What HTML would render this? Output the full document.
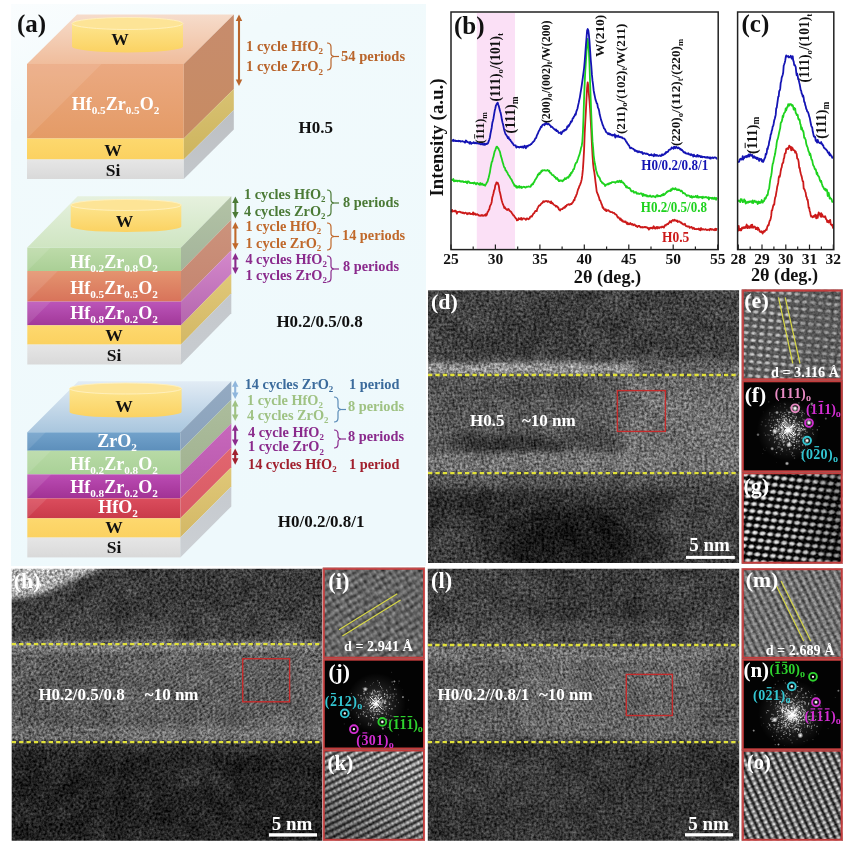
<!DOCTYPE html>
<html><head><meta charset="utf-8"><style>html,body{margin:0;padding:0;background:#fff;}svg{display:block;}</style></head>
<body><svg width="843" height="842" viewBox="0 0 843 842">
<defs><linearGradient id="abg" x1="0" y1="0" x2="0.3" y2="1">
<stop offset="0" stop-color="#fafdfe"/><stop offset="0.2" stop-color="#f1fafc"/><stop offset="1" stop-color="#eef9fc"/></linearGradient><linearGradient id="b1top" x1="0" y1="0" x2="0" y2="1"><stop offset="0" stop-color="#f6dccb"/><stop offset="1" stop-color="#f0bd9c"/></linearGradient><linearGradient id="b1f0" x1="0" y1="0" x2="0" y2="1"><stop offset="0" stop-color="#eba981"/><stop offset="1" stop-color="#e49b66"/></linearGradient><linearGradient id="b1s0" x1="0" y1="0" x2="0" y2="1"><stop offset="0" stop-color="#c78c6d"/><stop offset="1" stop-color="#c78b62"/></linearGradient><linearGradient id="b1f1" x1="0" y1="0" x2="0" y2="1"><stop offset="0" stop-color="#fdd86e"/><stop offset="1" stop-color="#fbd160"/></linearGradient><linearGradient id="b1s1" x1="0" y1="0" x2="0" y2="1"><stop offset="0" stop-color="#d8c272"/><stop offset="1" stop-color="#cdb45e"/></linearGradient><linearGradient id="b1f2" x1="0" y1="0" x2="0" y2="1"><stop offset="0" stop-color="#e6e6e6"/><stop offset="1" stop-color="#d9d9d9"/></linearGradient><linearGradient id="b1s2" x1="0" y1="0" x2="0" y2="1"><stop offset="0" stop-color="#bdc0c3"/><stop offset="1" stop-color="#c3c7cb"/></linearGradient><linearGradient id="b1cyl" x1="0" y1="0" x2="0" y2="1"><stop offset="0" stop-color="#fde58e"/><stop offset="1" stop-color="#fbd262"/></linearGradient><linearGradient id="b2top" x1="0" y1="0" x2="0" y2="1"><stop offset="0" stop-color="#e6f1de"/><stop offset="1" stop-color="#cfe5c2"/></linearGradient><linearGradient id="b2f0" x1="0" y1="0" x2="0" y2="1"><stop offset="0" stop-color="#bddba9"/><stop offset="1" stop-color="#aacf96"/></linearGradient><linearGradient id="b2s0" x1="0" y1="0" x2="0" y2="1"><stop offset="0" stop-color="#b3c3a6"/><stop offset="1" stop-color="#a3b49a"/></linearGradient><linearGradient id="b2f1" x1="0" y1="0" x2="0" y2="1"><stop offset="0" stop-color="#e4946f"/><stop offset="1" stop-color="#d8735a"/></linearGradient><linearGradient id="b2s1" x1="0" y1="0" x2="0" y2="1"><stop offset="0" stop-color="#cc937c"/><stop offset="1" stop-color="#c48570"/></linearGradient><linearGradient id="b2f2" x1="0" y1="0" x2="0" y2="1"><stop offset="0" stop-color="#bb55b9"/><stop offset="1" stop-color="#a23899"/></linearGradient><linearGradient id="b2s2" x1="0" y1="0" x2="0" y2="1"><stop offset="0" stop-color="#d488cc"/><stop offset="1" stop-color="#b466ad"/></linearGradient><linearGradient id="b2f3" x1="0" y1="0" x2="0" y2="1"><stop offset="0" stop-color="#fdd86e"/><stop offset="1" stop-color="#fbd160"/></linearGradient><linearGradient id="b2s3" x1="0" y1="0" x2="0" y2="1"><stop offset="0" stop-color="#e0c878"/><stop offset="1" stop-color="#d3b866"/></linearGradient><linearGradient id="b2f4" x1="0" y1="0" x2="0" y2="1"><stop offset="0" stop-color="#e6e6e6"/><stop offset="1" stop-color="#d9d9d9"/></linearGradient><linearGradient id="b2s4" x1="0" y1="0" x2="0" y2="1"><stop offset="0" stop-color="#c4c8cc"/><stop offset="1" stop-color="#c8ccd0"/></linearGradient><linearGradient id="b2cyl" x1="0" y1="0" x2="0" y2="1"><stop offset="0" stop-color="#fde58e"/><stop offset="1" stop-color="#fbd262"/></linearGradient><linearGradient id="b3top" x1="0" y1="0" x2="0" y2="1"><stop offset="0" stop-color="#e2ecf5"/><stop offset="1" stop-color="#a9c6de"/></linearGradient><linearGradient id="b3f0" x1="0" y1="0" x2="0" y2="1"><stop offset="0" stop-color="#72a2cb"/><stop offset="1" stop-color="#5d8fbb"/></linearGradient><linearGradient id="b3s0" x1="0" y1="0" x2="0" y2="1"><stop offset="0" stop-color="#94aac2"/><stop offset="1" stop-color="#8aa2bb"/></linearGradient><linearGradient id="b3f1" x1="0" y1="0" x2="0" y2="1"><stop offset="0" stop-color="#b8daa6"/><stop offset="1" stop-color="#a9d197"/></linearGradient><linearGradient id="b3s1" x1="0" y1="0" x2="0" y2="1"><stop offset="0" stop-color="#acbd9c"/><stop offset="1" stop-color="#a2b392"/></linearGradient><linearGradient id="b3f2" x1="0" y1="0" x2="0" y2="1"><stop offset="0" stop-color="#bb4cb4"/><stop offset="1" stop-color="#a13294"/></linearGradient><linearGradient id="b3s2" x1="0" y1="0" x2="0" y2="1"><stop offset="0" stop-color="#c868bc"/><stop offset="1" stop-color="#b656aa"/></linearGradient><linearGradient id="b3f3" x1="0" y1="0" x2="0" y2="1"><stop offset="0" stop-color="#db4d5d"/><stop offset="1" stop-color="#c93a4a"/></linearGradient><linearGradient id="b3s3" x1="0" y1="0" x2="0" y2="1"><stop offset="0" stop-color="#e2666f"/><stop offset="1" stop-color="#d85a64"/></linearGradient><linearGradient id="b3f4" x1="0" y1="0" x2="0" y2="1"><stop offset="0" stop-color="#fdd86e"/><stop offset="1" stop-color="#fbd160"/></linearGradient><linearGradient id="b3s4" x1="0" y1="0" x2="0" y2="1"><stop offset="0" stop-color="#e0c878"/><stop offset="1" stop-color="#d3b866"/></linearGradient><linearGradient id="b3f5" x1="0" y1="0" x2="0" y2="1"><stop offset="0" stop-color="#e6e6e6"/><stop offset="1" stop-color="#d9d9d9"/></linearGradient><linearGradient id="b3s5" x1="0" y1="0" x2="0" y2="1"><stop offset="0" stop-color="#c6cacf"/><stop offset="1" stop-color="#ccd0d4"/></linearGradient><linearGradient id="b3cyl" x1="0" y1="0" x2="0" y2="1"><stop offset="0" stop-color="#fde58e"/><stop offset="1" stop-color="#fbd262"/></linearGradient><filter id="blur2" x="-50%" y="-50%" width="200%" height="200%"><feGaussianBlur stdDeviation="2"/></filter>
<filter id="blur4" x="-50%" y="-50%" width="200%" height="200%"><feGaussianBlur stdDeviation="4"/></filter>
<filter id="blur8" x="-50%" y="-50%" width="200%" height="200%"><feGaussianBlur stdDeviation="8"/></filter>
<filter id="blur14" x="-50%" y="-50%" width="200%" height="200%"><feGaussianBlur stdDeviation="14"/></filter>
<filter id="nz1" x="0" y="0" width="100%" height="100%" color-interpolation-filters="sRGB">
<feTurbulence type="fractalNoise" baseFrequency="0.38" numOctaves="2" seed="3" result="t"/>
<feColorMatrix in="t" type="matrix" values="1 0 0 0 0  1 0 0 0 0  1 0 0 0 0  0 0 0 0 1" result="g"/>
<feComposite in="SourceGraphic" in2="g" operator="arithmetic" k1="1.1" k2="0.44999999999999996" k3="0.28" k4="-0.14"/>
</filter><filter id="nz2" x="0" y="0" width="100%" height="100%" color-interpolation-filters="sRGB">
<feTurbulence type="fractalNoise" baseFrequency="0.38" numOctaves="2" seed="9" result="t"/>
<feColorMatrix in="t" type="matrix" values="1 0 0 0 0  1 0 0 0 0  1 0 0 0 0  0 0 0 0 1" result="g"/>
<feComposite in="SourceGraphic" in2="g" operator="arithmetic" k1="1.1" k2="0.44999999999999996" k3="0.28" k4="-0.14"/>
</filter><filter id="nz3" x="0" y="0" width="100%" height="100%" color-interpolation-filters="sRGB">
<feTurbulence type="fractalNoise" baseFrequency="0.38" numOctaves="2" seed="17" result="t"/>
<feColorMatrix in="t" type="matrix" values="1 0 0 0 0  1 0 0 0 0  1 0 0 0 0  0 0 0 0 1" result="g"/>
<feComposite in="SourceGraphic" in2="g" operator="arithmetic" k1="1.1" k2="0.44999999999999996" k3="0.28" k4="-0.14"/>
</filter><filter id="nzc" x="0" y="0" width="100%" height="100%" color-interpolation-filters="sRGB">
<feTurbulence type="fractalNoise" baseFrequency="0.045" numOctaves="3" seed="5" result="t"/>
<feColorMatrix in="t" type="matrix" values="1 0 0 0 0  1 0 0 0 0  1 0 0 0 0  0 0 0 0 1" result="g"/>
<feComposite in="SourceGraphic" in2="g" operator="arithmetic" k1="0.0" k2="1.0" k3="0.14" k4="-0.07"/>
</filter><pattern id="latd" patternUnits="userSpaceOnUse" width="3" height="3" patternTransform="rotate(-8)"><circle cx="1.5" cy="1.5" r="0.9" fill="#fff"/></pattern><pattern id="lath" patternUnits="userSpaceOnUse" width="3" height="3" patternTransform="rotate(-35)"><rect x="0" y="0" width="3" height="1.3" fill="#fff"/></pattern><pattern id="latl" patternUnits="userSpaceOnUse" width="2.8" height="2.8" patternTransform="rotate(64)"><rect x="0" y="0" width="2.8" height="1.2" fill="#fff"/></pattern><clipPath id="cpd"><rect x="428" y="290.3" width="311.1" height="272.6"/></clipPath><clipPath id="cph"><rect x="11.7" y="568.7" width="310.4" height="272"/></clipPath><clipPath id="cpl"><rect x="427.8" y="568.7" width="311.4" height="272"/></clipPath><filter id="nzs1" x="0" y="0" width="100%" height="100%" color-interpolation-filters="sRGB">
<feTurbulence type="fractalNoise" baseFrequency="0.35" numOctaves="2" seed="21" result="t"/>
<feColorMatrix in="t" type="matrix" values="1 0 0 0 0  1 0 0 0 0  1 0 0 0 0  0 0 0 0 1" result="g"/>
<feComposite in="SourceGraphic" in2="g" operator="arithmetic" k1="0.0" k2="1.0" k3="0.35" k4="-0.175"/>
</filter><filter id="nzs2" x="0" y="0" width="100%" height="100%" color-interpolation-filters="sRGB">
<feTurbulence type="fractalNoise" baseFrequency="0.22" numOctaves="2" seed="23" result="t"/>
<feColorMatrix in="t" type="matrix" values="1 0 0 0 0  1 0 0 0 0  1 0 0 0 0  0 0 0 0 1" result="g"/>
<feComposite in="SourceGraphic" in2="g" operator="arithmetic" k1="0.0" k2="1.0" k3="0.35" k4="-0.175"/>
</filter><filter id="nzs3" x="0" y="0" width="100%" height="100%" color-interpolation-filters="sRGB">
<feTurbulence type="fractalNoise" baseFrequency="0.35" numOctaves="2" seed="25" result="t"/>
<feColorMatrix in="t" type="matrix" values="1 0 0 0 0  1 0 0 0 0  1 0 0 0 0  0 0 0 0 1" result="g"/>
<feComposite in="SourceGraphic" in2="g" operator="arithmetic" k1="0.0" k2="1.0" k3="0.35" k4="-0.175"/>
</filter><filter id="nzs4" x="0" y="0" width="100%" height="100%" color-interpolation-filters="sRGB">
<feTurbulence type="fractalNoise" baseFrequency="0.5" numOctaves="2" seed="27" result="t"/>
<feColorMatrix in="t" type="matrix" values="1 0 0 0 0  1 0 0 0 0  1 0 0 0 0  0 0 0 0 1" result="g"/>
<feComposite in="SourceGraphic" in2="g" operator="arithmetic" k1="0.0" k2="1.0" k3="0.3" k4="-0.15"/>
</filter><radialGradient id="dotw"><stop offset="0" stop-color="#fff" stop-opacity="1"/><stop offset="0.45" stop-color="#fff" stop-opacity="0.85"/><stop offset="1" stop-color="#fff" stop-opacity="0"/></radialGradient><filter id="sb1" x="-10%" y="-10%" width="120%" height="120%"><feGaussianBlur stdDeviation="0.7"/></filter><pattern id="pe" patternUnits="userSpaceOnUse" width="8.0" height="7.1" patternTransform="rotate(5) skewX(0)">
<ellipse cx="4.0" cy="3.55" rx="3.6" ry="2.3" fill="url(#dotw)" opacity="0.85"/></pattern><clipPath id="cse"><rect x="741.8" y="289.6" width="100.9" height="90.7"/></clipPath><linearGradient id="gfade" x1="0" y1="0" x2="1" y2="0"><stop offset="0" stop-color="#000" stop-opacity="0"/><stop offset="0.55" stop-color="#000" stop-opacity="0.1"/><stop offset="1" stop-color="#000" stop-opacity="0.4"/></linearGradient><pattern id="pg" patternUnits="userSpaceOnUse" width="7.8" height="7.1" patternTransform="rotate(6) skewX(-8)">
<ellipse cx="3.9" cy="3.55" rx="4.0" ry="2.8" fill="url(#dotw)" opacity="1.0"/></pattern><clipPath id="csg"><rect x="741.8" y="472.3" width="100.9" height="91.4"/></clipPath><linearGradient id="pig" x1="0" y1="0" x2="0" y2="1">
<stop offset="0" stop-color="#545454"/><stop offset="0.42" stop-color="#858585"/><stop offset="0.58" stop-color="#858585"/><stop offset="1" stop-color="#545454"/></linearGradient><pattern id="pi" patternUnits="userSpaceOnUse" width="5.2" height="6.6" patternTransform="rotate(-32)"><rect x="0" y="0" width="5.2" height="6.6" fill="url(#pig)"/><rect x="0" y="0" width="2.6" height="6.6" fill="#000" opacity="0.25" filter="url(#sb1)"/></pattern><clipPath id="csi"><rect x="322.8" y="567.8" width="102.2" height="90.9"/></clipPath><linearGradient id="kfade" x1="1" y1="0" x2="0.2" y2="1"><stop offset="0" stop-color="#000" stop-opacity="0"/><stop offset="0.5" stop-color="#000" stop-opacity="0.12"/><stop offset="1" stop-color="#000" stop-opacity="0.4"/></linearGradient><linearGradient id="pkg" x1="0" y1="0" x2="0" y2="1">
<stop offset="0" stop-color="#222222"/><stop offset="0.42" stop-color="#e6e6e6"/><stop offset="0.58" stop-color="#e6e6e6"/><stop offset="1" stop-color="#222222"/></linearGradient><pattern id="pk" patternUnits="userSpaceOnUse" width="4.6" height="6.1" patternTransform="rotate(-27)"><rect x="0" y="0" width="4.6" height="6.1" fill="url(#pkg)"/><rect x="0" y="0" width="2.3" height="6.1" fill="#000" opacity="0.25" filter="url(#sb1)"/></pattern><clipPath id="csk"><rect x="322.8" y="749.5" width="102.2" height="91.3"/></clipPath><linearGradient id="pmg" x1="0" y1="0" x2="0" y2="1">
<stop offset="0" stop-color="#444444"/><stop offset="0.42" stop-color="#a0a0a0"/><stop offset="0.58" stop-color="#a0a0a0"/><stop offset="1" stop-color="#444444"/></linearGradient><pattern id="pm" patternUnits="userSpaceOnUse" width="5.0" height="6.3" patternTransform="rotate(63.7)"><rect x="0" y="0" width="5.0" height="6.3" fill="url(#pmg)"/><rect x="0" y="0" width="2.5" height="6.3" fill="#000" opacity="0.14" filter="url(#sb1)"/></pattern><clipPath id="csm"><rect x="741.8" y="568.2" width="100.9" height="90.6"/></clipPath><linearGradient id="pog" x1="0" y1="0" x2="0" y2="1">
<stop offset="0" stop-color="#0a0a0a"/><stop offset="0.42" stop-color="#dedede"/><stop offset="0.58" stop-color="#dedede"/><stop offset="1" stop-color="#0a0a0a"/></linearGradient><pattern id="po" patternUnits="userSpaceOnUse" width="5.0" height="6.6" patternTransform="rotate(65)"><rect x="0" y="0" width="5.0" height="6.6" fill="url(#pog)"/><rect x="0" y="0" width="2.5" height="6.6" fill="#000" opacity="0.35" filter="url(#sb1)"/></pattern><clipPath id="cso"><rect x="741.8" y="749.7" width="100.9" height="91.1"/></clipPath><radialGradient id="glow"><stop offset="0" stop-color="#fff" stop-opacity="0.28"/><stop offset="0.5" stop-color="#fff" stop-opacity="0.1"/><stop offset="1" stop-color="#fff" stop-opacity="0"/></radialGradient><radialGradient id="spot"><stop offset="0" stop-color="#fff" stop-opacity="1"/><stop offset="0.4" stop-color="#fff" stop-opacity="0.7"/><stop offset="1" stop-color="#fff" stop-opacity="0"/></radialGradient><clipPath id="csf"><rect x="741.8" y="380.3" width="100.9" height="92"/></clipPath><clipPath id="csj"><rect x="322.8" y="658.7" width="102.2" height="90.8"/></clipPath><clipPath id="csn"><rect x="741.8" y="658.8" width="100.9" height="91.5"/></clipPath></defs>
<rect x="0" y="0" width="843" height="842" fill="#ffffff"/>
<rect x="11" y="4" width="415" height="562" fill="url(#abg)"/>
<polygon points="27,64 77,14.5 233.8,14.5 183.8,64" fill="url(#b1top)"/>
<rect x="27" y="64" width="156.8" height="74.5" fill="url(#b1f0)"/>
<polygon points="183.8,64 233.8,14.5 233.8,89.0 183.8,138.5" fill="url(#b1s0)"/>
<rect x="27" y="138.5" width="156.8" height="21.0" fill="url(#b1f1)"/>
<polygon points="183.8,138.5 233.8,89.0 233.8,110.0 183.8,159.5" fill="url(#b1s1)"/>
<rect x="27" y="159.5" width="156.8" height="19.5" fill="url(#b1f2)"/>
<polygon points="183.8,159.5 233.8,110.0 233.8,129.5 183.8,179" fill="url(#b1s2)"/>
<polygon points="27,64 101.5,64 27,138.5" fill="#ffffff" opacity="0.10"/>
<path d="M72.0,23.5 L72.0,46.5 A55.5,6 0 0 0 183.0,46.5 L183.0,23.5 Z" fill="url(#b1cyl)"/>
<ellipse cx="127.5" cy="23.5" rx="55.5" ry="6" fill="#fde496" stroke="#fff0c0" stroke-width="0.9"/>
<polygon points="27.3,247.6 77.6,196.3 231.3,196.3 181,247.6" fill="url(#b2top)"/>
<rect x="27.3" y="247.6" width="153.7" height="23.400000000000006" fill="url(#b2f0)"/>
<polygon points="181,247.6 231.3,196.3 231.3,219.7 181,271" fill="url(#b2s0)"/>
<rect x="27.3" y="271" width="153.7" height="30.600000000000023" fill="url(#b2f1)"/>
<polygon points="181,271 231.3,219.7 231.3,250.3 181,301.6" fill="url(#b2s1)"/>
<rect x="27.3" y="301.6" width="153.7" height="23.69999999999999" fill="url(#b2f2)"/>
<polygon points="181,301.6 231.3,250.3 231.3,274.0 181,325.3" fill="url(#b2s2)"/>
<rect x="27.3" y="325.3" width="153.7" height="19.30000000000001" fill="url(#b2f3)"/>
<polygon points="181,325.3 231.3,274.0 231.3,293.3 181,344.6" fill="url(#b2s3)"/>
<rect x="27.3" y="344.6" width="153.7" height="19.899999999999977" fill="url(#b2f4)"/>
<polygon points="181,344.6 231.3,293.3 231.3,313.2 181,364.5" fill="url(#b2s4)"/>
<polygon points="27.3,247.6 50.7,247.6 27.3,271" fill="#ffffff" opacity="0.10"/>
<polygon points="27.3,271 57.90000000000002,271 27.3,301.6" fill="#ffffff" opacity="0.10"/>
<polygon points="27.3,301.6 50.999999999999986,301.6 27.3,325.3" fill="#ffffff" opacity="0.10"/>
<path d="M70.7,205 L70.7,226.5 A55.3,5.5 0 0 0 181.3,226.5 L181.3,205 Z" fill="url(#b2cyl)"/>
<ellipse cx="126" cy="205" rx="55.3" ry="5.5" fill="#fde496" stroke="#fff0c0" stroke-width="0.9"/>
<polygon points="27.3,432.3 78.3,381.3 231.3,381.3 180.3,432.3" fill="url(#b3top)"/>
<rect x="27.3" y="432.3" width="153.0" height="18.399999999999977" fill="url(#b3f0)"/>
<polygon points="180.3,432.3 231.3,381.3 231.3,399.7 180.3,450.7" fill="url(#b3s0)"/>
<rect x="27.3" y="450.7" width="153.0" height="23.69999999999999" fill="url(#b3f1)"/>
<polygon points="180.3,450.7 231.3,399.7 231.3,423.4 180.3,474.4" fill="url(#b3s1)"/>
<rect x="27.3" y="474.4" width="153.0" height="24.0" fill="url(#b3f2)"/>
<polygon points="180.3,474.4 231.3,423.4 231.3,447.4 180.3,498.4" fill="url(#b3s2)"/>
<rect x="27.3" y="498.4" width="153.0" height="19.899999999999977" fill="url(#b3f3)"/>
<polygon points="180.3,498.4 231.3,447.4 231.3,467.29999999999995 180.3,518.3" fill="url(#b3s3)"/>
<rect x="27.3" y="518.3" width="153.0" height="19.300000000000068" fill="url(#b3f4)"/>
<polygon points="180.3,518.3 231.3,467.29999999999995 231.3,486.6 180.3,537.6" fill="url(#b3s4)"/>
<rect x="27.3" y="537.6" width="153.0" height="19.799999999999955" fill="url(#b3f5)"/>
<polygon points="180.3,537.6 231.3,486.6 231.3,506.4 180.3,557.4" fill="url(#b3s5)"/>
<polygon points="27.3,432.3 45.699999999999974,432.3 27.3,450.7" fill="#ffffff" opacity="0.10"/>
<polygon points="27.3,450.7 50.999999999999986,450.7 27.3,474.4" fill="#ffffff" opacity="0.10"/>
<polygon points="27.3,474.4 51.3,474.4 27.3,498.4" fill="#ffffff" opacity="0.10"/>
<polygon points="27.3,498.4 47.199999999999974,498.4 27.3,518.3" fill="#ffffff" opacity="0.10"/>
<path d="M69.6,388.5 L69.6,412 A56,5.5 0 0 0 181.6,412 L181.6,388.5 Z" fill="url(#b3cyl)"/>
<ellipse cx="125.6" cy="388.5" rx="56" ry="5.5" fill="#fde496" stroke="#fff0c0" stroke-width="0.9"/>
<text x="115.5" y="110" font-family="'Liberation Serif', 'Times New Roman', serif" font-weight="bold" font-size="18" fill="#ffffff" text-anchor="middle"><tspan>Hf</tspan><tspan font-size="11.2" dy="4.0">0.5</tspan><tspan dy="-4.0">&#8203;</tspan><tspan>Zr</tspan><tspan font-size="11.2" dy="4.0">0.5</tspan><tspan dy="-4.0">&#8203;</tspan><tspan>O</tspan><tspan font-size="11.2" dy="4.0">2</tspan><tspan dy="-4.0">&#8203;</tspan></text>
<text x="113" y="156" font-family="'Liberation Serif', 'Times New Roman', serif" font-weight="bold" font-size="17.5" fill="#111" text-anchor="middle"><tspan>W</tspan></text>
<text x="113" y="176" font-family="'Liberation Serif', 'Times New Roman', serif" font-weight="bold" font-size="17.5" fill="#111" text-anchor="middle"><tspan>Si</tspan></text>
<text x="120" y="45" font-family="'Liberation Serif', 'Times New Roman', serif" font-weight="bold" font-size="17.5" fill="#111" text-anchor="middle"><tspan>W</tspan></text>
<text x="114" y="268.3" font-family="'Liberation Serif', 'Times New Roman', serif" font-weight="bold" font-size="18" fill="#ffffff" text-anchor="middle"><tspan>Hf</tspan><tspan font-size="11.2" dy="4.0">0.2</tspan><tspan dy="-4.0">&#8203;</tspan><tspan>Zr</tspan><tspan font-size="11.2" dy="4.0">0.8</tspan><tspan dy="-4.0">&#8203;</tspan><tspan>O</tspan><tspan font-size="11.2" dy="4.0">2</tspan><tspan dy="-4.0">&#8203;</tspan></text>
<text x="114" y="293.5" font-family="'Liberation Serif', 'Times New Roman', serif" font-weight="bold" font-size="18" fill="#ffffff" text-anchor="middle"><tspan>Hf</tspan><tspan font-size="11.2" dy="4.0">0.5</tspan><tspan dy="-4.0">&#8203;</tspan><tspan>Zr</tspan><tspan font-size="11.2" dy="4.0">0.5</tspan><tspan dy="-4.0">&#8203;</tspan><tspan>O</tspan><tspan font-size="11.2" dy="4.0">2</tspan><tspan dy="-4.0">&#8203;</tspan></text>
<text x="114" y="319.2" font-family="'Liberation Serif', 'Times New Roman', serif" font-weight="bold" font-size="18" fill="#ffffff" text-anchor="middle"><tspan>Hf</tspan><tspan font-size="11.2" dy="4.0">0.8</tspan><tspan dy="-4.0">&#8203;</tspan><tspan>Zr</tspan><tspan font-size="11.2" dy="4.0">0.2</tspan><tspan dy="-4.0">&#8203;</tspan><tspan>O</tspan><tspan font-size="11.2" dy="4.0">2</tspan><tspan dy="-4.0">&#8203;</tspan></text>
<text x="114" y="341.4" font-family="'Liberation Serif', 'Times New Roman', serif" font-weight="bold" font-size="17.5" fill="#111" text-anchor="middle"><tspan>W</tspan></text>
<text x="114" y="361" font-family="'Liberation Serif', 'Times New Roman', serif" font-weight="bold" font-size="17.5" fill="#111" text-anchor="middle"><tspan>Si</tspan></text>
<text x="124.4" y="226.5" font-family="'Liberation Serif', 'Times New Roman', serif" font-weight="bold" font-size="17.5" fill="#111" text-anchor="middle"><tspan>W</tspan></text>
<text x="117" y="446.8" font-family="'Liberation Serif', 'Times New Roman', serif" font-weight="bold" font-size="18" fill="#ffffff" text-anchor="middle"><tspan>ZrO</tspan><tspan font-size="11.2" dy="4.0">2</tspan><tspan dy="-4.0">&#8203;</tspan></text>
<text x="114" y="470.3" font-family="'Liberation Serif', 'Times New Roman', serif" font-weight="bold" font-size="18" fill="#ffffff" text-anchor="middle"><tspan>Hf</tspan><tspan font-size="11.2" dy="4.0">0.2</tspan><tspan dy="-4.0">&#8203;</tspan><tspan>Zr</tspan><tspan font-size="11.2" dy="4.0">0.8</tspan><tspan dy="-4.0">&#8203;</tspan><tspan>O</tspan><tspan font-size="11.2" dy="4.0">2</tspan><tspan dy="-4.0">&#8203;</tspan></text>
<text x="114" y="492.5" font-family="'Liberation Serif', 'Times New Roman', serif" font-weight="bold" font-size="18" fill="#ffffff" text-anchor="middle"><tspan>Hf</tspan><tspan font-size="11.2" dy="4.0">0.8</tspan><tspan dy="-4.0">&#8203;</tspan><tspan>Zr</tspan><tspan font-size="11.2" dy="4.0">0.2</tspan><tspan dy="-4.0">&#8203;</tspan><tspan>O</tspan><tspan font-size="11.2" dy="4.0">2</tspan><tspan dy="-4.0">&#8203;</tspan></text>
<text x="118" y="513.4" font-family="'Liberation Serif', 'Times New Roman', serif" font-weight="bold" font-size="18" fill="#ffffff" text-anchor="middle"><tspan>HfO</tspan><tspan font-size="11.2" dy="4.0">2</tspan><tspan dy="-4.0">&#8203;</tspan></text>
<text x="114" y="533" font-family="'Liberation Serif', 'Times New Roman', serif" font-weight="bold" font-size="17.5" fill="#111" text-anchor="middle"><tspan>W</tspan></text>
<text x="114" y="552.5" font-family="'Liberation Serif', 'Times New Roman', serif" font-weight="bold" font-size="17.5" fill="#111" text-anchor="middle"><tspan>Si</tspan></text>
<text x="124" y="411.6" font-family="'Liberation Serif', 'Times New Roman', serif" font-weight="bold" font-size="17.5" fill="#111" text-anchor="middle"><tspan>W</tspan></text>
<text x="17" y="31.7" font-family="'Liberation Serif', 'Times New Roman', serif" font-weight="bold" font-size="25" fill="#111">(a)</text>
<line x1="239" y1="18.8" x2="239" y2="81.7" stroke="#b9652c" stroke-width="2.1"/>
<polygon points="239,14.5 235.775,20.95 242.225,20.95" fill="#b9652c"/>
<polygon points="239,86 235.775,79.55 242.225,79.55" fill="#b9652c"/>
<text x="246" y="51" font-family="'Liberation Serif', 'Times New Roman', serif" font-weight="bold" font-size="14.5" fill="#b9652c" text-anchor="start"><tspan>1 cycle HfO</tspan><tspan font-size="9.0" dy="3.2">2</tspan><tspan dy="-3.2">&#8203;</tspan></text>
<text x="246" y="71.3" font-family="'Liberation Serif', 'Times New Roman', serif" font-weight="bold" font-size="14.5" fill="#b9652c" text-anchor="start"><tspan>1 cycle ZrO</tspan><tspan font-size="9.0" dy="3.2">2</tspan><tspan dy="-3.2">&#8203;</tspan></text>
<path d="M327,43 Q331,43 331,47 L331,53.5 Q331,56.5 335,56.5 Q331,56.5 331,59.5 L331,66 Q331,70 327,70" fill="none" stroke="#b9652c" stroke-width="1.2"/>
<line x1="335" y1="56.5" x2="339" y2="56.5" stroke="#b9652c" stroke-width="1.2"/>
<text x="341" y="60.7" font-family="'Liberation Serif', 'Times New Roman', serif" font-weight="bold" font-size="14.5" fill="#b9652c" text-anchor="start"><tspan>54 periods</tspan></text>
<text x="298.5" y="132.8" font-family="'Liberation Serif', 'Times New Roman', serif" font-weight="bold" font-size="17" fill="#111">H0.5</text>
<line x1="235.4" y1="200.9" x2="235.4" y2="214.2" stroke="#4b7a36" stroke-width="2.1"/>
<polygon points="235.4,196.6 232.175,203.04999999999998 238.625,203.04999999999998" fill="#4b7a36"/>
<polygon points="235.4,218.5 232.175,212.05 238.625,212.05" fill="#4b7a36"/>
<text x="244" y="198.9" font-family="'Liberation Serif', 'Times New Roman', serif" font-weight="bold" font-size="14.3" fill="#4b7a36" text-anchor="start"><tspan>1 cycles HfO</tspan><tspan font-size="8.9" dy="3.1">2</tspan><tspan dy="-3.1">&#8203;</tspan></text>
<text x="244" y="215.8" font-family="'Liberation Serif', 'Times New Roman', serif" font-weight="bold" font-size="14.3" fill="#4b7a36" text-anchor="start"><tspan>4 cycles ZrO</tspan><tspan font-size="8.9" dy="3.1">2</tspan><tspan dy="-3.1">&#8203;</tspan></text>
<path d="M327,190 Q331,190 331,194 L331,200.0 Q331,203.0 335,203.0 Q331,203.0 331,206.0 L331,212 Q331,216 327,216" fill="none" stroke="#4b7a36" stroke-width="1.2"/>
<line x1="335" y1="203.0" x2="339" y2="203.0" stroke="#4b7a36" stroke-width="1.2"/>
<text x="343" y="207" font-family="'Liberation Serif', 'Times New Roman', serif" font-weight="bold" font-size="14.3" fill="#4b7a36" text-anchor="start"><tspan>8 periods</tspan></text>
<line x1="235.4" y1="226.3" x2="235.4" y2="245.5" stroke="#c0692b" stroke-width="2.1"/>
<polygon points="235.4,222 232.175,228.45 238.625,228.45" fill="#c0692b"/>
<polygon points="235.4,249.8 232.175,243.35000000000002 238.625,243.35000000000002" fill="#c0692b"/>
<text x="245.4" y="231.3" font-family="'Liberation Serif', 'Times New Roman', serif" font-weight="bold" font-size="14.3" fill="#c0692b" text-anchor="start"><tspan>1 cycle HfO</tspan><tspan font-size="8.9" dy="3.1">2</tspan><tspan dy="-3.1">&#8203;</tspan></text>
<text x="245.4" y="248" font-family="'Liberation Serif', 'Times New Roman', serif" font-weight="bold" font-size="14.3" fill="#c0692b" text-anchor="start"><tspan>1 cycle ZrO</tspan><tspan font-size="8.9" dy="3.1">2</tspan><tspan dy="-3.1">&#8203;</tspan></text>
<path d="M327,223 Q331,223 331,227 L331,233.5 Q331,236.5 335,236.5 Q331,236.5 331,239.5 L331,246 Q331,250 327,250" fill="none" stroke="#c0692b" stroke-width="1.2"/>
<line x1="335" y1="236.5" x2="339" y2="236.5" stroke="#c0692b" stroke-width="1.2"/>
<text x="342" y="240" font-family="'Liberation Serif', 'Times New Roman', serif" font-weight="bold" font-size="14.3" fill="#c0692b" text-anchor="start"><tspan>14 periods</tspan></text>
<line x1="235.4" y1="257.3" x2="235.4" y2="269.7" stroke="#8a2a8c" stroke-width="2.1"/>
<polygon points="235.4,253 232.175,259.45 238.625,259.45" fill="#8a2a8c"/>
<polygon points="235.4,274 232.175,267.55 238.625,267.55" fill="#8a2a8c"/>
<text x="245.4" y="263.6" font-family="'Liberation Serif', 'Times New Roman', serif" font-weight="bold" font-size="14.3" fill="#8a2a8c" text-anchor="start"><tspan>4 cycles HfO</tspan><tspan font-size="8.9" dy="3.1">2</tspan><tspan dy="-3.1">&#8203;</tspan></text>
<text x="245.4" y="279.8" font-family="'Liberation Serif', 'Times New Roman', serif" font-weight="bold" font-size="14.3" fill="#8a2a8c" text-anchor="start"><tspan>1 cycles ZrO</tspan><tspan font-size="8.9" dy="3.1">2</tspan><tspan dy="-3.1">&#8203;</tspan></text>
<path d="M327,256 Q331,256 331,260 L331,266.0 Q331,269.0 335,269.0 Q331,269.0 331,272.0 L331,278 Q331,282 327,282" fill="none" stroke="#8a2a8c" stroke-width="1.2"/>
<line x1="335" y1="269.0" x2="339" y2="269.0" stroke="#8a2a8c" stroke-width="1.2"/>
<text x="343" y="270.6" font-family="'Liberation Serif', 'Times New Roman', serif" font-weight="bold" font-size="14.3" fill="#8a2a8c" text-anchor="start"><tspan>8 periods</tspan></text>
<text x="276.4" y="326.5" font-family="'Liberation Serif', 'Times New Roman', serif" font-weight="bold" font-size="17" fill="#111">H0.2/0.5/0.8</text>
<line x1="235.2" y1="384.7" x2="235.2" y2="394.7" stroke="#8fb6dc" stroke-width="2.1"/>
<polygon points="235.2,380.4 231.975,386.84999999999997 238.42499999999998,386.84999999999997" fill="#8fb6dc"/>
<polygon points="235.2,399 231.975,392.55 238.42499999999998,392.55" fill="#8fb6dc"/>
<text x="244.7" y="389" font-family="'Liberation Serif', 'Times New Roman', serif" font-weight="bold" font-size="14.3" fill="#3b6b9c" text-anchor="start"><tspan>14 cycles ZrO</tspan><tspan font-size="8.9" dy="3.1">2</tspan><tspan dy="-3.1">&#8203;</tspan></text>
<text x="349" y="389" font-family="'Liberation Serif', 'Times New Roman', serif" font-weight="bold" font-size="14.3" fill="#3b6b9c" text-anchor="start"><tspan>1 period</tspan></text>
<line x1="235.2" y1="404.3" x2="235.2" y2="416.7" stroke="#9fc283" stroke-width="2.1"/>
<polygon points="235.2,400 231.975,406.45 238.42499999999998,406.45" fill="#9fc283"/>
<polygon points="235.2,421 231.975,414.55 238.42499999999998,414.55" fill="#9fc283"/>
<text x="247" y="404.7" font-family="'Liberation Serif', 'Times New Roman', serif" font-weight="bold" font-size="14.3" fill="#9fc283" text-anchor="start"><tspan>1 cycle HfO</tspan><tspan font-size="8.9" dy="3.1">2</tspan><tspan dy="-3.1">&#8203;</tspan></text>
<text x="247" y="419.7" font-family="'Liberation Serif', 'Times New Roman', serif" font-weight="bold" font-size="14.3" fill="#9fc283" text-anchor="start"><tspan>4 cycles ZrO</tspan><tspan font-size="8.9" dy="3.1">2</tspan><tspan dy="-3.1">&#8203;</tspan></text>
<path d="M334,397 Q338,397 338,401 L338,406.5 Q338,409.5 342,409.5 Q338,409.5 338,412.5 L338,418 Q338,422 334,422" fill="none" stroke="#5c8cb8" stroke-width="1.2"/>
<line x1="342" y1="409.5" x2="346" y2="409.5" stroke="#5c8cb8" stroke-width="1.2"/>
<text x="348" y="411" font-family="'Liberation Serif', 'Times New Roman', serif" font-weight="bold" font-size="14.3" fill="#9fc283" text-anchor="start"><tspan>8 periods</tspan></text>
<line x1="235.2" y1="428.7" x2="235.2" y2="441.7" stroke="#8a2a8c" stroke-width="2.1"/>
<polygon points="235.2,424.4 231.975,430.84999999999997 238.42499999999998,430.84999999999997" fill="#8a2a8c"/>
<polygon points="235.2,446 231.975,439.55 238.42499999999998,439.55" fill="#8a2a8c"/>
<text x="248" y="436.6" font-family="'Liberation Serif', 'Times New Roman', serif" font-weight="bold" font-size="14.3" fill="#8a2a8c" text-anchor="start"><tspan>4 cycle HfO</tspan><tspan font-size="8.9" dy="3.1">2</tspan><tspan dy="-3.1">&#8203;</tspan></text>
<text x="248" y="451.4" font-family="'Liberation Serif', 'Times New Roman', serif" font-weight="bold" font-size="14.3" fill="#8a2a8c" text-anchor="start"><tspan>1 cycle ZrO</tspan><tspan font-size="8.9" dy="3.1">2</tspan><tspan dy="-3.1">&#8203;</tspan></text>
<path d="M334,430 Q338,430 338,434 L338,436.0 Q338,439.0 342,439.0 Q338,439.0 338,442.0 L338,444 Q338,448 334,448" fill="none" stroke="#8a2a8c" stroke-width="1.2"/>
<line x1="342" y1="439.0" x2="346" y2="439.0" stroke="#8a2a8c" stroke-width="1.2"/>
<text x="348" y="440.5" font-family="'Liberation Serif', 'Times New Roman', serif" font-weight="bold" font-size="14.3" fill="#8a2a8c" text-anchor="start"><tspan>8 periods</tspan></text>
<line x1="235.2" y1="452.90000000000003" x2="235.2" y2="460.5" stroke="#a1202e" stroke-width="2.1"/>
<polygon points="235.2,448.6 231.975,455.05 238.42499999999998,455.05" fill="#a1202e"/>
<polygon points="235.2,464.8 231.975,458.35 238.42499999999998,458.35" fill="#a1202e"/>
<text x="248" y="469" font-family="'Liberation Serif', 'Times New Roman', serif" font-weight="bold" font-size="14.3" fill="#a1202e" text-anchor="start"><tspan>14 cycles HfO</tspan><tspan font-size="8.9" dy="3.1">2</tspan><tspan dy="-3.1">&#8203;</tspan></text>
<text x="349" y="469" font-family="'Liberation Serif', 'Times New Roman', serif" font-weight="bold" font-size="14.3" fill="#a1202e" text-anchor="start"><tspan>1 period</tspan></text>
<text x="277.7" y="527.3" font-family="'Liberation Serif', 'Times New Roman', serif" font-weight="bold" font-size="17" fill="#111">H0/0.2/0.8/1</text>
<rect x="476.8" y="13" width="38.2" height="236.6" fill="#fbe0f6"/>
<path d="M451.5,212.3 L452.1,209.8 L452.7,211.5 L453.3,211.1 L453.9,211.2 L454.5,211.4 L455.1,210.5 L455.7,211.6 L456.3,211.3 L456.9,213.7 L457.5,212.0 L458.1,211.8 L458.7,211.9 L459.3,211.8 L459.9,211.6 L460.5,212.1 L461.1,212.6 L461.7,212.3 L462.3,213.0 L462.9,212.5 L463.5,212.7 L464.1,213.6 L464.7,213.1 L465.3,212.6 L465.9,212.9 L466.5,213.3 L467.1,214.2 L467.7,213.1 L468.3,213.1 L468.9,213.9 L469.5,212.9 L470.1,213.4 L470.7,214.1 L471.3,214.0 L471.9,213.8 L472.5,214.2 L473.1,212.4 L473.7,214.6 L474.3,213.7 L474.9,213.4 L475.5,214.6 L476.1,214.9 L476.7,214.4 L477.3,214.1 L477.9,214.8 L478.5,214.9 L479.1,215.8 L479.7,215.5 L480.3,215.3 L480.9,215.9 L481.5,215.2 L482.1,214.9 L482.7,215.8 L483.3,215.8 L483.9,215.4 L484.5,215.1 L485.1,215.7 L485.7,214.2 L486.3,215.5 L486.9,214.5 L487.5,212.1 L488.1,211.8 L488.7,210.0 L489.3,209.5 L489.9,206.3 L490.5,205.1 L491.1,204.1 L491.7,201.9 L492.3,197.4 L492.9,195.5 L493.5,193.2 L494.1,190.3 L494.7,189.1 L495.3,185.2 L495.9,184.2 L496.5,182.4 L497.1,183.5 L497.7,182.7 L498.3,184.3 L498.9,186.3 L499.5,190.9 L500.1,192.9 L500.7,195.7 L501.3,198.8 L501.9,201.1 L502.5,203.0 L503.1,204.7 L503.7,205.9 L504.3,208.0 L504.9,207.3 L505.5,208.5 L506.1,209.1 L506.7,209.7 L507.3,210.1 L507.9,209.2 L508.5,209.0 L509.1,210.1 L509.7,211.0 L510.3,211.2 L510.9,211.7 L511.5,212.4 L512.1,213.6 L512.7,214.1 L513.3,215.4 L513.9,215.4 L514.5,216.7 L515.1,217.3 L515.7,218.3 L516.3,218.7 L516.9,220.4 L517.5,220.0 L518.1,220.0 L518.7,218.1 L519.3,219.0 L519.9,218.8 L520.5,219.4 L521.1,217.9 L521.7,219.7 L522.3,219.6 L522.9,218.3 L523.5,218.4 L524.1,218.4 L524.7,218.8 L525.3,219.1 L525.9,219.8 L526.5,218.5 L527.1,218.9 L527.7,218.5 L528.3,219.3 L528.9,218.6 L529.5,218.6 L530.1,216.9 L530.7,216.9 L531.3,215.9 L531.9,216.5 L532.5,215.4 L533.1,214.1 L533.7,213.3 L534.3,213.1 L534.9,211.7 L535.5,210.9 L536.1,210.9 L536.7,211.1 L537.3,208.7 L537.9,207.6 L538.5,206.4 L539.1,205.4 L539.7,205.6 L540.3,205.1 L540.9,204.0 L541.5,203.6 L542.1,203.0 L542.7,202.5 L543.3,201.2 L543.9,201.6 L544.5,201.8 L545.1,201.1 L545.7,201.2 L546.3,201.0 L546.9,201.2 L547.5,201.8 L548.1,201.1 L548.7,201.3 L549.3,202.0 L549.9,202.2 L550.5,203.1 L551.1,201.3 L551.7,203.3 L552.3,202.9 L552.9,203.6 L553.5,204.4 L554.1,204.9 L554.7,205.3 L555.3,205.3 L555.9,206.5 L556.5,206.0 L557.1,206.5 L557.7,207.6 L558.3,207.5 L558.9,209.6 L559.5,209.5 L560.1,210.5 L560.7,209.4 L561.3,209.1 L561.9,209.1 L562.5,209.1 L563.1,207.9 L563.7,207.9 L564.3,207.2 L564.9,207.7 L565.5,206.0 L566.1,206.5 L566.7,205.3 L567.3,204.8 L567.9,204.7 L568.5,204.1 L569.1,204.6 L569.7,204.8 L570.3,204.1 L570.9,204.0 L571.5,204.2 L572.1,203.0 L572.7,202.5 L573.3,201.6 L573.9,199.9 L574.5,200.1 L575.1,197.3 L575.7,197.0 L576.3,195.0 L576.9,193.8 L577.5,191.4 L578.1,189.2 L578.7,188.2 L579.3,186.2 L579.9,185.1 L580.5,183.7 L581.1,181.8 L581.7,179.4 L582.3,175.2 L582.9,169.4 L583.5,160.3 L584.1,149.6 L584.7,133.3 L585.3,121.7 L585.9,110.9 L586.5,98.9 L587.1,87.9 L587.7,82.3 L588.3,86.1 L588.9,94.1 L589.5,101.0 L590.1,109.3 L590.7,120.0 L591.3,130.6 L591.9,143.6 L592.5,155.0 L593.1,163.6 L593.7,168.8 L594.3,172.1 L594.9,176.6 L595.5,181.8 L596.1,186.3 L596.7,191.5 L597.3,193.2 L597.9,194.4 L598.5,196.1 L599.1,197.8 L599.7,200.4 L600.3,200.5 L600.9,202.2 L601.5,204.0 L602.1,205.2 L602.7,207.8 L603.3,207.5 L603.9,209.1 L604.5,209.5 L605.1,210.1 L605.7,209.3 L606.3,211.2 L606.9,210.3 L607.5,210.6 L608.1,210.2 L608.7,210.4 L609.3,211.3 L609.9,211.7 L610.5,211.7 L611.1,212.2 L611.7,212.2 L612.3,212.1 L612.9,212.8 L613.5,212.9 L614.1,212.9 L614.7,213.7 L615.3,214.4 L615.9,214.4 L616.5,214.8 L617.1,216.1 L617.7,217.5 L618.3,217.1 L618.9,217.9 L619.5,218.5 L620.1,219.7 L620.7,218.5 L621.3,220.1 L621.9,220.9 L622.5,220.2 L623.1,221.8 L623.7,221.6 L624.3,221.4 L624.9,222.1 L625.5,221.4 L626.1,222.2 L626.7,223.8 L627.3,222.6 L627.9,224.3 L628.5,223.5 L629.1,224.3 L629.7,223.9 L630.3,222.9 L630.9,224.0 L631.5,224.6 L632.1,224.0 L632.7,224.1 L633.3,225.2 L633.9,224.8 L634.5,224.4 L635.1,225.1 L635.7,226.1 L636.3,225.6 L636.9,226.5 L637.5,227.0 L638.1,226.3 L638.7,225.8 L639.3,225.9 L639.9,226.7 L640.5,227.3 L641.1,227.1 L641.7,227.4 L642.3,227.0 L642.9,227.5 L643.5,227.2 L644.1,227.4 L644.7,226.9 L645.3,226.8 L645.9,227.5 L646.5,227.2 L647.1,227.4 L647.7,228.3 L648.3,227.9 L648.9,229.6 L649.5,228.5 L650.1,227.7 L650.7,228.4 L651.3,228.2 L651.9,227.6 L652.5,228.6 L653.1,227.5 L653.7,226.2 L654.3,228.3 L654.9,227.5 L655.5,228.6 L656.1,227.4 L656.7,227.0 L657.3,228.5 L657.9,227.0 L658.5,227.6 L659.1,228.2 L659.7,227.4 L660.3,227.2 L660.9,227.2 L661.5,227.5 L662.1,226.5 L662.7,227.2 L663.3,226.9 L663.9,227.6 L664.5,225.8 L665.1,225.1 L665.7,225.6 L666.3,224.5 L666.9,224.5 L667.5,224.0 L668.1,224.2 L668.7,222.8 L669.3,222.8 L669.9,221.1 L670.5,221.6 L671.1,222.5 L671.7,220.9 L672.3,220.6 L672.9,220.0 L673.5,220.8 L674.1,220.4 L674.7,219.7 L675.3,220.7 L675.9,220.6 L676.5,221.0 L677.1,220.5 L677.7,222.0 L678.3,221.5 L678.9,221.5 L679.5,221.5 L680.1,221.9 L680.7,222.8 L681.3,222.5 L681.9,223.5 L682.5,223.6 L683.1,224.4 L683.7,224.5 L684.3,224.5 L684.9,223.8 L685.5,225.4 L686.1,226.1 L686.7,226.1 L687.3,226.6 L687.9,226.3 L688.5,226.6 L689.1,226.5 L689.7,227.9 L690.3,227.4 L690.9,227.2 L691.5,226.9 L692.1,227.7 L692.7,228.7 L693.3,228.3 L693.9,227.8 L694.5,229.1 L695.1,229.2 L695.7,229.0 L696.3,229.0 L696.9,229.3 L697.5,229.0 L698.1,229.2 L698.7,228.5 L699.3,229.8 L699.9,229.1 L700.5,230.2 L701.1,228.0 L701.7,229.5 L702.3,229.7 L702.9,229.0 L703.5,229.5 L704.1,229.7 L704.7,229.6 L705.3,229.1 L705.9,229.3 L706.5,230.0 L707.1,230.2 L707.7,229.6 L708.3,229.6 L708.9,229.7 L709.5,230.2 L710.1,229.0 L710.7,228.9 L711.3,229.7 L711.9,229.1 L712.5,229.4 L713.1,229.8 L713.7,230.0 L714.3,229.2 L714.9,230.2 L715.5,228.8 L716.1,230.1 L716.7,228.9 L717.3,229.1" fill="none" stroke="#cc1a1a" stroke-width="1.8" stroke-linejoin="round"/>
<path d="M451.5,180.2 L452.1,179.9 L452.7,180.0 L453.3,179.0 L453.9,181.4 L454.5,181.1 L455.1,180.4 L455.7,181.1 L456.3,180.9 L456.9,180.5 L457.5,181.4 L458.1,180.8 L458.7,180.9 L459.3,180.7 L459.9,181.4 L460.5,181.2 L461.1,181.7 L461.7,181.1 L462.3,181.6 L462.9,181.1 L463.5,182.1 L464.1,181.8 L464.7,182.0 L465.3,182.1 L465.9,181.4 L466.5,182.5 L467.1,183.3 L467.7,181.3 L468.3,181.3 L468.9,181.5 L469.5,182.9 L470.1,182.6 L470.7,183.2 L471.3,183.1 L471.9,182.9 L472.5,183.0 L473.1,182.9 L473.7,183.5 L474.3,182.5 L474.9,183.0 L475.5,183.5 L476.1,184.4 L476.7,183.1 L477.3,183.0 L477.9,183.4 L478.5,184.3 L479.1,183.8 L479.7,184.7 L480.3,183.0 L480.9,184.7 L481.5,184.7 L482.1,183.5 L482.7,184.4 L483.3,185.0 L483.9,184.4 L484.5,184.9 L485.1,185.7 L485.7,184.5 L486.3,183.7 L486.9,182.3 L487.5,181.7 L488.1,179.6 L488.7,177.5 L489.3,174.9 L489.9,172.3 L490.5,168.3 L491.1,165.3 L491.7,162.1 L492.3,161.4 L492.9,158.2 L493.5,156.6 L494.1,153.7 L494.7,151.3 L495.3,150.1 L495.9,148.3 L496.5,146.8 L497.1,146.6 L497.7,148.0 L498.3,148.1 L498.9,149.6 L499.5,150.8 L500.1,152.4 L500.7,155.4 L501.3,157.2 L501.9,159.2 L502.5,161.9 L503.1,163.5 L503.7,165.7 L504.3,167.6 L504.9,167.8 L505.5,170.3 L506.1,170.3 L506.7,171.8 L507.3,172.4 L507.9,173.8 L508.5,175.0 L509.1,175.8 L509.7,176.8 L510.3,177.9 L510.9,178.9 L511.5,179.4 L512.1,181.0 L512.7,182.2 L513.3,183.4 L513.9,184.1 L514.5,185.9 L515.1,185.5 L515.7,185.7 L516.3,187.6 L516.9,186.3 L517.5,187.6 L518.1,186.6 L518.7,187.3 L519.3,186.0 L519.9,187.6 L520.5,187.0 L521.1,186.6 L521.7,188.0 L522.3,187.5 L522.9,187.1 L523.5,186.7 L524.1,187.1 L524.7,187.0 L525.3,187.5 L525.9,187.5 L526.5,186.7 L527.1,186.8 L527.7,186.8 L528.3,186.4 L528.9,186.7 L529.5,186.7 L530.1,186.8 L530.7,186.6 L531.3,184.8 L531.9,184.9 L532.5,183.6 L533.1,184.2 L533.7,182.3 L534.3,181.9 L534.9,180.2 L535.5,179.3 L536.1,178.7 L536.7,177.3 L537.3,176.6 L537.9,174.5 L538.5,174.8 L539.1,173.2 L539.7,174.0 L540.3,172.3 L540.9,172.5 L541.5,170.6 L542.1,171.2 L542.7,170.2 L543.3,170.3 L543.9,170.4 L544.5,170.2 L545.1,170.4 L545.7,170.6 L546.3,170.6 L546.9,170.3 L547.5,169.9 L548.1,170.5 L548.7,171.3 L549.3,170.7 L549.9,172.7 L550.5,172.7 L551.1,173.2 L551.7,174.5 L552.3,174.9 L552.9,175.3 L553.5,175.1 L554.1,176.4 L554.7,177.0 L555.3,176.9 L555.9,178.6 L556.5,178.9 L557.1,178.0 L557.7,179.7 L558.3,179.4 L558.9,181.1 L559.5,181.2 L560.1,180.3 L560.7,180.4 L561.3,180.9 L561.9,180.5 L562.5,181.3 L563.1,180.6 L563.7,179.7 L564.3,179.8 L564.9,178.1 L565.5,179.0 L566.1,178.9 L566.7,178.0 L567.3,177.2 L567.9,177.4 L568.5,177.7 L569.1,176.1 L569.7,174.8 L570.3,175.5 L570.9,172.9 L571.5,173.4 L572.1,171.8 L572.7,171.5 L573.3,169.3 L573.9,169.2 L574.5,167.3 L575.1,164.8 L575.7,163.3 L576.3,162.8 L576.9,162.3 L577.5,160.1 L578.1,158.5 L578.7,156.6 L579.3,155.2 L579.9,153.0 L580.5,150.8 L581.1,147.7 L581.7,146.0 L582.3,142.0 L582.9,132.4 L583.5,117.3 L584.1,97.7 L584.7,83.1 L585.3,70.4 L585.9,61.4 L586.5,52.3 L587.1,42.9 L587.7,39.0 L588.3,44.7 L588.9,51.1 L589.5,64.3 L590.1,83.2 L590.7,98.7 L591.3,115.0 L591.9,129.8 L592.5,141.4 L593.1,147.6 L593.7,155.5 L594.3,160.2 L594.9,163.8 L595.5,166.5 L596.1,170.2 L596.7,172.0 L597.3,173.9 L597.9,175.8 L598.5,176.3 L599.1,177.3 L599.7,178.1 L600.3,179.9 L600.9,181.3 L601.5,181.6 L602.1,182.8 L602.7,182.6 L603.3,183.7 L603.9,184.1 L604.5,184.2 L605.1,186.0 L605.7,185.4 L606.3,184.5 L606.9,184.3 L607.5,184.5 L608.1,183.6 L608.7,184.4 L609.3,183.2 L609.9,183.5 L610.5,182.9 L611.1,183.0 L611.7,182.4 L612.3,182.1 L612.9,182.2 L613.5,182.2 L614.1,182.2 L614.7,182.2 L615.3,182.8 L615.9,182.3 L616.5,181.5 L617.1,181.9 L617.7,181.0 L618.3,182.1 L618.9,181.6 L619.5,180.6 L620.1,181.9 L620.7,182.2 L621.3,180.7 L621.9,182.1 L622.5,182.7 L623.1,182.4 L623.7,183.4 L624.3,184.0 L624.9,185.2 L625.5,185.5 L626.1,187.3 L626.7,186.2 L627.3,187.6 L627.9,187.5 L628.5,188.2 L629.1,188.0 L629.7,188.1 L630.3,189.2 L630.9,190.5 L631.5,191.4 L632.1,191.2 L632.7,191.4 L633.3,191.0 L633.9,192.6 L634.5,192.7 L635.1,192.0 L635.7,192.5 L636.3,192.2 L636.9,193.8 L637.5,193.4 L638.1,193.3 L638.7,193.8 L639.3,194.0 L639.9,193.7 L640.5,193.4 L641.1,193.6 L641.7,193.5 L642.3,194.8 L642.9,196.0 L643.5,194.0 L644.1,195.1 L644.7,195.5 L645.3,194.9 L645.9,195.7 L646.5,195.1 L647.1,196.5 L647.7,195.7 L648.3,196.2 L648.9,196.6 L649.5,196.1 L650.1,195.4 L650.7,196.2 L651.3,196.9 L651.9,196.5 L652.5,196.6 L653.1,195.9 L653.7,196.5 L654.3,196.8 L654.9,196.4 L655.5,197.3 L656.1,196.1 L656.7,195.5 L657.3,195.1 L657.9,196.5 L658.5,195.7 L659.1,196.2 L659.7,195.8 L660.3,196.3 L660.9,196.0 L661.5,194.9 L662.1,195.1 L662.7,195.4 L663.3,193.8 L663.9,195.0 L664.5,194.5 L665.1,194.0 L665.7,193.0 L666.3,192.8 L666.9,191.7 L667.5,191.9 L668.1,191.2 L668.7,191.2 L669.3,190.5 L669.9,190.7 L670.5,191.0 L671.1,189.3 L671.7,190.3 L672.3,188.5 L672.9,188.2 L673.5,189.1 L674.1,189.1 L674.7,189.3 L675.3,188.1 L675.9,189.0 L676.5,189.3 L677.1,190.1 L677.7,189.5 L678.3,190.1 L678.9,189.5 L679.5,190.2 L680.1,190.4 L680.7,191.3 L681.3,190.6 L681.9,191.0 L682.5,192.1 L683.1,193.2 L683.7,192.9 L684.3,193.3 L684.9,193.4 L685.5,194.7 L686.1,194.8 L686.7,195.9 L687.3,195.5 L687.9,195.2 L688.5,195.7 L689.1,195.7 L689.7,195.8 L690.3,197.2 L690.9,197.1 L691.5,196.0 L692.1,197.7 L692.7,197.0 L693.3,196.4 L693.9,197.1 L694.5,196.9 L695.1,196.6 L695.7,196.0 L696.3,197.1 L696.9,197.3 L697.5,195.8 L698.1,197.5 L698.7,197.6 L699.3,197.0 L699.9,197.4 L700.5,197.2 L701.1,196.9 L701.7,197.2 L702.3,198.2 L702.9,196.7 L703.5,197.6 L704.1,197.6 L704.7,197.2 L705.3,197.4 L705.9,196.9 L706.5,197.2 L707.1,197.7 L707.7,198.0 L708.3,197.3 L708.9,199.5 L709.5,197.6 L710.1,198.0 L710.7,197.8 L711.3,197.8 L711.9,198.8 L712.5,197.8 L713.1,198.8 L713.7,198.8 L714.3,197.6 L714.9,198.8 L715.5,197.9 L716.1,199.8 L716.7,198.1 L717.3,197.8" fill="none" stroke="#1ed21e" stroke-width="1.8" stroke-linejoin="round"/>
<path d="M451.5,140.4 L452.1,140.8 L452.7,140.6 L453.3,139.7 L453.9,141.0 L454.5,140.8 L455.1,140.4 L455.7,141.1 L456.3,141.0 L456.9,141.0 L457.5,141.0 L458.1,141.3 L458.7,140.7 L459.3,141.1 L459.9,141.0 L460.5,141.6 L461.1,141.4 L461.7,141.3 L462.3,141.1 L462.9,141.5 L463.5,141.7 L464.1,141.6 L464.7,142.5 L465.3,142.5 L465.9,140.5 L466.5,141.0 L467.1,142.0 L467.7,142.0 L468.3,142.4 L468.9,142.5 L469.5,143.6 L470.1,141.9 L470.7,142.4 L471.3,143.8 L471.9,143.2 L472.5,143.2 L473.1,142.7 L473.7,142.1 L474.3,143.2 L474.9,143.3 L475.5,142.6 L476.1,143.0 L476.7,143.4 L477.3,142.9 L477.9,143.5 L478.5,143.7 L479.1,143.7 L479.7,143.5 L480.3,144.2 L480.9,144.4 L481.5,144.1 L482.1,143.6 L482.7,144.5 L483.3,143.9 L483.9,144.7 L484.5,143.6 L485.1,144.8 L485.7,144.3 L486.3,143.6 L486.9,144.0 L487.5,143.7 L488.1,142.9 L488.7,141.1 L489.3,139.5 L489.9,137.4 L490.5,133.6 L491.1,130.6 L491.7,127.7 L492.3,123.1 L492.9,120.8 L493.5,118.2 L494.1,114.3 L494.7,110.8 L495.3,108.5 L495.9,105.5 L496.5,104.5 L497.1,103.3 L497.7,102.7 L498.3,104.7 L498.9,106.4 L499.5,109.1 L500.1,111.3 L500.7,113.1 L501.3,116.1 L501.9,119.8 L502.5,122.4 L503.1,124.5 L503.7,127.6 L504.3,130.3 L504.9,132.3 L505.5,133.9 L506.1,134.8 L506.7,135.7 L507.3,136.6 L507.9,138.1 L508.5,137.1 L509.1,139.0 L509.7,139.8 L510.3,139.7 L510.9,141.3 L511.5,141.5 L512.1,143.0 L512.7,143.2 L513.3,144.3 L513.9,145.3 L514.5,145.4 L515.1,145.3 L515.7,145.4 L516.3,147.6 L516.9,146.8 L517.5,146.6 L518.1,147.1 L518.7,146.9 L519.3,147.5 L519.9,147.0 L520.5,147.0 L521.1,146.6 L521.7,147.3 L522.3,146.4 L522.9,147.4 L523.5,147.8 L524.1,146.2 L524.7,145.6 L525.3,147.3 L525.9,148.3 L526.5,146.2 L527.1,145.9 L527.7,146.6 L528.3,145.5 L528.9,145.4 L529.5,145.1 L530.1,145.1 L530.7,144.2 L531.3,144.1 L531.9,143.3 L532.5,142.4 L533.1,142.1 L533.7,141.2 L534.3,140.9 L534.9,139.3 L535.5,138.1 L536.1,138.1 L536.7,135.9 L537.3,134.5 L537.9,133.5 L538.5,131.7 L539.1,130.6 L539.7,129.7 L540.3,128.5 L540.9,126.8 L541.5,127.1 L542.1,125.6 L542.7,124.8 L543.3,124.4 L543.9,124.3 L544.5,125.2 L545.1,123.5 L545.7,124.1 L546.3,122.7 L546.9,123.8 L547.5,124.3 L548.1,123.9 L548.7,123.9 L549.3,124.7 L549.9,125.3 L550.5,125.7 L551.1,127.0 L551.7,126.7 L552.3,127.0 L552.9,127.9 L553.5,128.4 L554.1,129.0 L554.7,129.4 L555.3,130.0 L555.9,129.4 L556.5,131.1 L557.1,130.7 L557.7,130.8 L558.3,132.2 L558.9,133.0 L559.5,132.8 L560.1,132.8 L560.7,132.3 L561.3,134.2 L561.9,132.9 L562.5,131.4 L563.1,131.2 L563.7,131.3 L564.3,129.9 L564.9,130.4 L565.5,129.5 L566.1,129.8 L566.7,129.0 L567.3,126.3 L567.9,127.0 L568.5,125.3 L569.1,125.8 L569.7,124.2 L570.3,123.4 L570.9,121.4 L571.5,121.9 L572.1,120.9 L572.7,118.3 L573.3,118.1 L573.9,116.7 L574.5,116.0 L575.1,114.3 L575.7,114.7 L576.3,111.7 L576.9,110.2 L577.5,108.5 L578.1,105.4 L578.7,102.9 L579.3,99.9 L579.9,97.1 L580.5,93.2 L581.1,89.7 L581.7,85.7 L582.3,81.3 L582.9,77.1 L583.5,72.5 L584.1,68.0 L584.7,61.3 L585.3,53.5 L585.9,45.2 L586.5,38.1 L587.1,30.6 L587.7,29.0 L588.3,30.4 L588.9,34.9 L589.5,41.4 L590.1,50.2 L590.7,59.2 L591.3,66.1 L591.9,74.4 L592.5,80.7 L593.1,85.0 L593.7,90.7 L594.3,93.7 L594.9,96.6 L595.5,99.6 L596.1,101.3 L596.7,103.2 L597.3,103.9 L597.9,107.6 L598.5,108.6 L599.1,110.7 L599.7,114.6 L600.3,116.7 L600.9,119.4 L601.5,121.1 L602.1,123.1 L602.7,125.0 L603.3,126.1 L603.9,128.2 L604.5,128.7 L605.1,129.6 L605.7,131.2 L606.3,132.3 L606.9,132.7 L607.5,133.0 L608.1,134.2 L608.7,133.1 L609.3,133.8 L609.9,134.6 L610.5,134.0 L611.1,134.9 L611.7,135.0 L612.3,135.6 L612.9,134.7 L613.5,135.0 L614.1,135.7 L614.7,134.3 L615.3,137.5 L615.9,135.5 L616.5,135.7 L617.1,136.7 L617.7,136.3 L618.3,135.5 L618.9,136.9 L619.5,137.2 L620.1,136.7 L620.7,137.0 L621.3,137.6 L621.9,137.1 L622.5,138.1 L623.1,138.4 L623.7,138.3 L624.3,138.5 L624.9,139.7 L625.5,140.0 L626.1,141.7 L626.7,142.0 L627.3,143.3 L627.9,144.0 L628.5,145.1 L629.1,145.5 L629.7,147.1 L630.3,148.2 L630.9,147.6 L631.5,147.8 L632.1,148.5 L632.7,148.7 L633.3,148.9 L633.9,149.7 L634.5,149.7 L635.1,151.0 L635.7,150.4 L636.3,150.9 L636.9,151.5 L637.5,151.1 L638.1,152.3 L638.7,151.4 L639.3,151.5 L639.9,152.0 L640.5,152.4 L641.1,151.9 L641.7,152.9 L642.3,152.2 L642.9,154.0 L643.5,153.4 L644.1,153.2 L644.7,153.2 L645.3,153.6 L645.9,153.9 L646.5,153.5 L647.1,153.7 L647.7,154.2 L648.3,154.1 L648.9,155.1 L649.5,155.3 L650.1,154.8 L650.7,155.1 L651.3,154.2 L651.9,155.4 L652.5,155.1 L653.1,155.5 L653.7,156.2 L654.3,154.1 L654.9,155.6 L655.5,154.9 L656.1,155.9 L656.7,154.9 L657.3,155.3 L657.9,155.8 L658.5,156.0 L659.1,155.7 L659.7,155.3 L660.3,155.4 L660.9,156.1 L661.5,155.4 L662.1,154.3 L662.7,155.3 L663.3,154.8 L663.9,154.6 L664.5,153.6 L665.1,153.8 L665.7,152.3 L666.3,152.8 L666.9,151.8 L667.5,152.0 L668.1,151.7 L668.7,150.1 L669.3,149.9 L669.9,149.4 L670.5,149.5 L671.1,148.8 L671.7,147.4 L672.3,148.2 L672.9,148.2 L673.5,148.8 L674.1,146.6 L674.7,147.2 L675.3,148.2 L675.9,146.8 L676.5,146.9 L677.1,147.9 L677.7,148.3 L678.3,147.5 L678.9,148.3 L679.5,148.2 L680.1,149.4 L680.7,149.0 L681.3,150.1 L681.9,149.7 L682.5,150.7 L683.1,151.3 L683.7,152.4 L684.3,152.5 L684.9,152.1 L685.5,153.2 L686.1,153.6 L686.7,153.4 L687.3,153.6 L687.9,153.9 L688.5,153.3 L689.1,154.5 L689.7,154.7 L690.3,154.3 L690.9,155.3 L691.5,154.3 L692.1,154.9 L692.7,155.1 L693.3,156.6 L693.9,154.7 L694.5,156.0 L695.1,156.3 L695.7,156.1 L696.3,156.6 L696.9,155.5 L697.5,154.9 L698.1,156.7 L698.7,155.7 L699.3,156.2 L699.9,155.8 L700.5,157.1 L701.1,157.1 L701.7,156.3 L702.3,157.3 L702.9,156.9 L703.5,156.8 L704.1,157.0 L704.7,156.9 L705.3,157.5 L705.9,157.4 L706.5,157.1 L707.1,157.9 L707.7,157.0 L708.3,157.6 L708.9,157.7 L709.5,158.4 L710.1,157.3 L710.7,158.6 L711.3,157.8 L711.9,157.7 L712.5,157.4 L713.1,158.2 L713.7,157.9 L714.3,157.3 L714.9,157.3 L715.5,157.7 L716.1,157.7 L716.7,158.7 L717.3,158.8" fill="none" stroke="#1414b4" stroke-width="1.8" stroke-linejoin="round"/>
<rect x="451" y="12" width="267.20000000000005" height="237.6" fill="none" stroke="#222" stroke-width="1.5"/>
<line x1="451.0" y1="249.6" x2="451.0" y2="244.6" stroke="#222" stroke-width="1.2"/>
<line x1="473.2" y1="249.6" x2="473.2" y2="246.6" stroke="#222" stroke-width="1.2"/>
<line x1="495.4" y1="249.6" x2="495.4" y2="244.6" stroke="#222" stroke-width="1.2"/>
<line x1="517.7" y1="249.6" x2="517.7" y2="246.6" stroke="#222" stroke-width="1.2"/>
<line x1="539.9" y1="249.6" x2="539.9" y2="244.6" stroke="#222" stroke-width="1.2"/>
<line x1="562.1" y1="249.6" x2="562.1" y2="246.6" stroke="#222" stroke-width="1.2"/>
<line x1="584.3" y1="249.6" x2="584.3" y2="244.6" stroke="#222" stroke-width="1.2"/>
<line x1="606.6" y1="249.6" x2="606.6" y2="246.6" stroke="#222" stroke-width="1.2"/>
<line x1="628.8" y1="249.6" x2="628.8" y2="244.6" stroke="#222" stroke-width="1.2"/>
<line x1="651.0" y1="249.6" x2="651.0" y2="246.6" stroke="#222" stroke-width="1.2"/>
<line x1="673.2" y1="249.6" x2="673.2" y2="244.6" stroke="#222" stroke-width="1.2"/>
<line x1="695.4" y1="249.6" x2="695.4" y2="246.6" stroke="#222" stroke-width="1.2"/>
<line x1="717.7" y1="249.6" x2="717.7" y2="244.6" stroke="#222" stroke-width="1.2"/>
<text x="451.0" y="264.2" font-family="'Liberation Serif', 'Times New Roman', serif" font-weight="bold" font-size="15.5" fill="#111" text-anchor="middle">25</text>
<text x="495.4" y="264.2" font-family="'Liberation Serif', 'Times New Roman', serif" font-weight="bold" font-size="15.5" fill="#111" text-anchor="middle">30</text>
<text x="539.9" y="264.2" font-family="'Liberation Serif', 'Times New Roman', serif" font-weight="bold" font-size="15.5" fill="#111" text-anchor="middle">35</text>
<text x="584.3" y="264.2" font-family="'Liberation Serif', 'Times New Roman', serif" font-weight="bold" font-size="15.5" fill="#111" text-anchor="middle">40</text>
<text x="628.8" y="264.2" font-family="'Liberation Serif', 'Times New Roman', serif" font-weight="bold" font-size="15.5" fill="#111" text-anchor="middle">45</text>
<text x="673.2" y="264.2" font-family="'Liberation Serif', 'Times New Roman', serif" font-weight="bold" font-size="15.5" fill="#111" text-anchor="middle">50</text>
<text x="717.7" y="264.2" font-family="'Liberation Serif', 'Times New Roman', serif" font-weight="bold" font-size="15.5" fill="#111" text-anchor="middle">55</text>
<text x="607.5" y="282.8" font-family="'Liberation Serif', 'Times New Roman', serif" font-weight="bold" font-size="18.3" fill="#111" text-anchor="middle">2&#952; (deg.)</text>
<text transform="translate(443.2,196.5) rotate(-90)" font-family="'Liberation Serif', 'Times New Roman', serif" font-weight="bold" font-size="18.9" fill="#111">Intensity (a.u.)</text>
<text x="454" y="33.5" font-family="'Liberation Serif', 'Times New Roman', serif" font-weight="bold" font-size="25" fill="#111">(b)</text>
<g transform="translate(484.32,143.54) rotate(-90)"><text x="0" y="0" font-family="'Liberation Serif', 'Times New Roman', serif" font-weight="bold" font-size="12.10" fill="#111"><tspan>(111)</tspan><tspan font-size="7.9" dy="2.4">m</tspan><tspan dy="-2.4">&#8203;</tspan></text><line x1="4.84" x2="9.44" y1="-9.68" y2="-9.68" stroke="#111" stroke-width="0.85"/></g>
<g transform="translate(500.07,101.48) rotate(-90)"><text x="0" y="0" font-family="'Liberation Serif', 'Times New Roman', serif" font-weight="bold" font-size="13.60" fill="#111"><tspan>(111)</tspan><tspan font-size="8.8" dy="2.7">o</tspan><tspan dy="-2.7">&#8203;</tspan><tspan>/(101)</tspan><tspan font-size="8.8" dy="2.7">t</tspan><tspan dy="-2.7">&#8203;</tspan></text></g>
<g transform="translate(515.38,133.48) rotate(-90)"><text x="0" y="0" font-family="'Liberation Serif', 'Times New Roman', serif" font-weight="bold" font-size="14.25" fill="#111"><tspan>(111)</tspan><tspan font-size="9.3" dy="2.9">m</tspan><tspan dy="-2.9">&#8203;</tspan></text></g>
<g transform="translate(549.93,123.11) rotate(-90)"><text x="0" y="0" font-family="'Liberation Serif', 'Times New Roman', serif" font-weight="bold" font-size="11.95" fill="#111"><tspan>(200)</tspan><tspan font-size="7.8" dy="2.4">o</tspan><tspan dy="-2.4">&#8203;</tspan><tspan>/(002)</tspan><tspan font-size="7.8" dy="2.4">t</tspan><tspan dy="-2.4">&#8203;</tspan><tspan>/W(200)</tspan></text></g>
<g transform="translate(604.08,56.93) rotate(-90)"><text x="0" y="0" font-family="'Liberation Serif', 'Times New Roman', serif" font-weight="bold" font-size="13.30" fill="#111"><tspan>W(210)</tspan></text></g>
<g transform="translate(624.69,134.08) rotate(-90)"><text x="0" y="0" font-family="'Liberation Serif', 'Times New Roman', serif" font-weight="bold" font-size="13.00" fill="#111"><tspan>(211)</tspan><tspan font-size="8.5" dy="2.6">o</tspan><tspan dy="-2.6">&#8203;</tspan><tspan>/(102)</tspan><tspan font-size="8.5" dy="2.6">t</tspan><tspan dy="-2.6">&#8203;</tspan><tspan>/W(211)</tspan></text></g>
<g transform="translate(680.46,146.02) rotate(-90)"><text x="0" y="0" font-family="'Liberation Serif', 'Times New Roman', serif" font-weight="bold" font-size="13.27" fill="#111"><tspan>(220)</tspan><tspan font-size="8.6" dy="2.7">o</tspan><tspan dy="-2.7">&#8203;</tspan><tspan>/(112)</tspan><tspan font-size="8.6" dy="2.7">t</tspan><tspan dy="-2.7">&#8203;</tspan><tspan>/(220)</tspan><tspan font-size="8.6" dy="2.7">m</tspan><tspan dy="-2.7">&#8203;</tspan></text></g>
<text x="641.2" y="170" font-family="'Liberation Serif', 'Times New Roman', serif" font-weight="bold" font-size="13.6" fill="#1414b4" textLength="67" lengthAdjust="spacingAndGlyphs">H0/0.2/0.8/1</text>
<text x="640.8" y="211.7" font-family="'Liberation Serif', 'Times New Roman', serif" font-weight="bold" font-size="13.6" fill="#1ed21e" textLength="66.2" lengthAdjust="spacingAndGlyphs">H0.2/0.5/0.8</text>
<text x="662" y="242" font-family="'Liberation Serif', 'Times New Roman', serif" font-weight="bold" font-size="13.8" fill="#cc1a1a" textLength="27.3" lengthAdjust="spacingAndGlyphs">H0.5</text>
<path d="M738.2,231.4 L738.7,225.9 L739.2,230.1 L739.7,229.0 L740.2,230.2 L740.7,229.0 L741.2,230.4 L741.7,228.3 L742.2,227.5 L742.7,228.5 L743.2,228.2 L743.7,227.2 L744.2,227.2 L744.7,228.1 L745.2,227.9 L745.7,226.4 L746.2,226.3 L746.7,224.5 L747.2,228.2 L747.7,225.9 L748.2,227.5 L748.7,226.4 L749.2,228.0 L749.7,227.5 L750.2,226.2 L750.7,227.5 L751.2,224.9 L751.7,227.5 L752.2,224.6 L752.7,226.8 L753.2,227.8 L753.7,227.1 L754.2,226.7 L754.7,226.5 L755.2,227.2 L755.7,229.0 L756.2,229.1 L756.7,228.1 L757.2,227.4 L757.7,229.9 L758.2,227.9 L758.7,229.4 L759.2,229.6 L759.7,231.6 L760.2,231.4 L760.7,232.0 L761.2,232.0 L761.7,231.2 L762.2,232.6 L762.7,233.5 L763.2,231.7 L763.7,232.1 L764.2,230.8 L764.7,231.5 L765.2,230.6 L765.7,230.2 L766.2,229.1 L766.7,229.9 L767.2,226.9 L767.7,226.1 L768.2,224.9 L768.7,225.2 L769.2,222.5 L769.7,220.7 L770.2,220.3 L770.7,218.6 L771.2,215.9 L771.7,210.3 L772.2,210.2 L772.7,208.0 L773.2,205.8 L773.7,204.5 L774.2,204.8 L774.7,200.2 L775.2,197.4 L775.7,196.4 L776.2,193.1 L776.7,190.4 L777.2,186.8 L777.7,184.9 L778.2,182.9 L778.7,178.0 L779.2,176.1 L779.7,176.9 L780.2,174.6 L780.7,171.0 L781.2,168.5 L781.7,167.4 L782.2,164.2 L782.7,163.0 L783.2,162.9 L783.7,158.9 L784.2,157.8 L784.7,154.2 L785.2,153.2 L785.7,153.1 L786.2,149.0 L786.7,149.0 L787.2,148.3 L787.7,148.1 L788.2,149.0 L788.7,148.0 L789.2,145.6 L789.7,147.1 L790.2,146.6 L790.7,146.9 L791.2,150.3 L791.7,147.2 L792.2,148.9 L792.7,148.2 L793.2,150.2 L793.7,150.1 L794.2,150.3 L794.7,150.7 L795.2,152.7 L795.7,151.5 L796.2,153.0 L796.7,154.2 L797.2,158.6 L797.7,158.6 L798.2,159.6 L798.7,162.4 L799.2,168.0 L799.7,167.7 L800.2,171.3 L800.7,173.3 L801.2,175.1 L801.7,176.6 L802.2,179.2 L802.7,181.3 L803.2,181.3 L803.7,188.6 L804.2,188.8 L804.7,189.9 L805.2,191.5 L805.7,192.8 L806.2,196.6 L806.7,197.2 L807.2,199.8 L807.7,199.6 L808.2,203.7 L808.7,207.8 L809.2,207.6 L809.7,211.0 L810.2,212.3 L810.7,215.3 L811.2,216.7 L811.7,216.6 L812.2,216.4 L812.7,217.3 L813.2,216.9 L813.7,215.9 L814.2,216.8 L814.7,216.4 L815.2,214.7 L815.7,215.3 L816.2,218.4 L816.7,215.9 L817.2,215.1 L817.7,217.8 L818.2,214.6 L818.7,212.4 L819.2,213.1 L819.7,213.6 L820.2,215.6 L820.7,216.5 L821.2,213.2 L821.7,216.9 L822.2,214.4 L822.7,216.2 L823.2,216.6 L823.7,216.9 L824.2,216.7 L824.7,217.2 L825.2,216.2 L825.7,218.2 L826.2,219.4 L826.7,219.8 L827.2,222.1 L827.7,220.9 L828.2,221.0 L828.7,222.5 L829.2,221.5 L829.7,220.4 L830.2,219.9 L830.7,224.4 L831.2,224.3 L831.7,225.3 L832.2,224.7 L832.7,226.2 L833.2,228.6" fill="none" stroke="#cc1a1a" stroke-width="1.8" stroke-linejoin="round"/>
<path d="M738.2,199.7 L738.7,201.0 L739.2,200.8 L739.7,200.9 L740.2,202.1 L740.7,199.1 L741.2,199.9 L741.7,199.3 L742.2,200.7 L742.7,202.1 L743.2,201.1 L743.7,201.8 L744.2,199.3 L744.7,201.6 L745.2,200.6 L745.7,203.6 L746.2,202.7 L746.7,202.9 L747.2,201.8 L747.7,202.6 L748.2,202.7 L748.7,201.7 L749.2,201.5 L749.7,202.0 L750.2,201.4 L750.7,201.4 L751.2,201.8 L751.7,201.3 L752.2,202.9 L752.7,200.3 L753.2,203.0 L753.7,201.4 L754.2,201.5 L754.7,200.6 L755.2,201.9 L755.7,201.8 L756.2,202.3 L756.7,201.5 L757.2,202.2 L757.7,204.1 L758.2,202.5 L758.7,201.5 L759.2,203.1 L759.7,202.0 L760.2,202.8 L760.7,202.8 L761.2,201.7 L761.7,200.0 L762.2,201.7 L762.7,202.6 L763.2,201.1 L763.7,201.3 L764.2,200.9 L764.7,198.1 L765.2,199.0 L765.7,198.4 L766.2,196.9 L766.7,196.0 L767.2,194.8 L767.7,195.0 L768.2,191.3 L768.7,189.6 L769.2,188.2 L769.7,183.9 L770.2,180.1 L770.7,177.5 L771.2,175.5 L771.7,172.3 L772.2,167.2 L772.7,163.9 L773.2,162.8 L773.7,160.1 L774.2,157.4 L774.7,155.5 L775.2,153.3 L775.7,149.6 L776.2,147.4 L776.7,142.9 L777.2,140.2 L777.7,139.1 L778.2,137.1 L778.7,134.7 L779.2,132.2 L779.7,130.1 L780.2,128.1 L780.7,123.1 L781.2,122.2 L781.7,121.6 L782.2,119.8 L782.7,115.8 L783.2,117.2 L783.7,114.1 L784.2,113.0 L784.7,112.4 L785.2,111.9 L785.7,108.5 L786.2,110.3 L786.7,108.5 L787.2,106.9 L787.7,106.8 L788.2,104.1 L788.7,105.2 L789.2,105.6 L789.7,104.1 L790.2,104.2 L790.7,104.2 L791.2,104.4 L791.7,105.6 L792.2,104.9 L792.7,105.2 L793.2,106.9 L793.7,109.5 L794.2,107.9 L794.7,109.9 L795.2,108.7 L795.7,112.9 L796.2,113.2 L796.7,115.1 L797.2,114.7 L797.7,114.9 L798.2,118.4 L798.7,119.6 L799.2,119.3 L799.7,120.1 L800.2,123.8 L800.7,124.7 L801.2,129.3 L801.7,127.3 L802.2,128.9 L802.7,130.9 L803.2,130.8 L803.7,133.3 L804.2,137.8 L804.7,137.6 L805.2,138.8 L805.7,139.8 L806.2,143.6 L806.7,145.4 L807.2,146.7 L807.7,147.7 L808.2,150.1 L808.7,151.8 L809.2,152.2 L809.7,155.1 L810.2,153.5 L810.7,155.8 L811.2,158.3 L811.7,159.9 L812.2,160.1 L812.7,163.1 L813.2,165.2 L813.7,165.9 L814.2,166.9 L814.7,168.8 L815.2,169.6 L815.7,169.2 L816.2,171.4 L816.7,174.2 L817.2,172.7 L817.7,175.2 L818.2,175.8 L818.7,176.4 L819.2,177.3 L819.7,179.6 L820.2,180.9 L820.7,181.9 L821.2,180.9 L821.7,183.2 L822.2,184.8 L822.7,186.4 L823.2,187.0 L823.7,188.0 L824.2,189.2 L824.7,189.7 L825.2,188.8 L825.7,190.6 L826.2,190.5 L826.7,189.5 L827.2,191.1 L827.7,196.0 L828.2,193.3 L828.7,192.8 L829.2,195.4 L829.7,198.5 L830.2,197.5 L830.7,198.7 L831.2,198.7 L831.7,199.6 L832.2,201.8 L832.7,201.9 L833.2,201.6" fill="none" stroke="#1ed21e" stroke-width="1.8" stroke-linejoin="round"/>
<path d="M738.2,160.9 L738.7,162.0 L739.2,161.6 L739.7,159.3 L740.2,159.2 L740.7,158.7 L741.2,159.6 L741.7,158.6 L742.2,159.2 L742.7,156.1 L743.2,159.6 L743.7,157.5 L744.2,158.1 L744.7,156.9 L745.2,156.3 L745.7,157.0 L746.2,157.2 L746.7,155.9 L747.2,155.8 L747.7,156.8 L748.2,155.1 L748.7,154.4 L749.2,156.5 L749.7,155.4 L750.2,154.1 L750.7,155.4 L751.2,155.8 L751.7,155.1 L752.2,154.9 L752.7,156.7 L753.2,157.8 L753.7,156.6 L754.2,156.2 L754.7,157.6 L755.2,158.0 L755.7,157.1 L756.2,158.3 L756.7,159.1 L757.2,158.0 L757.7,157.7 L758.2,159.4 L758.7,159.6 L759.2,160.9 L759.7,158.6 L760.2,159.6 L760.7,159.6 L761.2,158.9 L761.7,161.1 L762.2,161.6 L762.7,160.1 L763.2,162.0 L763.7,160.6 L764.2,159.4 L764.7,158.1 L765.2,157.6 L765.7,153.8 L766.2,154.5 L766.7,152.8 L767.2,148.5 L767.7,149.0 L768.2,146.3 L768.7,145.3 L769.2,141.7 L769.7,139.9 L770.2,138.0 L770.7,134.4 L771.2,133.8 L771.7,130.9 L772.2,129.6 L772.7,126.4 L773.2,126.1 L773.7,123.5 L774.2,120.4 L774.7,119.0 L775.2,117.1 L775.7,114.9 L776.2,108.2 L776.7,107.8 L777.2,104.2 L777.7,100.6 L778.2,96.8 L778.7,96.5 L779.2,91.1 L779.7,90.5 L780.2,88.7 L780.7,82.8 L781.2,81.5 L781.7,77.6 L782.2,76.4 L782.7,74.8 L783.2,72.5 L783.7,65.6 L784.2,64.3 L784.7,62.7 L785.2,60.7 L785.7,57.3 L786.2,55.4 L786.7,56.6 L787.2,56.4 L787.7,56.4 L788.2,56.0 L788.7,57.4 L789.2,57.4 L789.7,57.0 L790.2,56.9 L790.7,55.8 L791.2,56.7 L791.7,58.7 L792.2,57.2 L792.7,56.2 L793.2,60.5 L793.7,61.5 L794.2,65.2 L794.7,64.8 L795.2,66.0 L795.7,66.9 L796.2,72.0 L796.7,75.4 L797.2,73.7 L797.7,75.9 L798.2,79.3 L798.7,79.8 L799.2,82.4 L799.7,84.4 L800.2,87.1 L800.7,90.1 L801.2,90.8 L801.7,93.7 L802.2,94.1 L802.7,96.7 L803.2,95.6 L803.7,98.0 L804.2,102.0 L804.7,102.1 L805.2,104.9 L805.7,106.3 L806.2,108.7 L806.7,109.6 L807.2,111.4 L807.7,111.7 L808.2,112.7 L808.7,114.3 L809.2,116.4 L809.7,117.7 L810.2,120.4 L810.7,123.0 L811.2,125.5 L811.7,127.0 L812.2,127.3 L812.7,131.3 L813.2,133.4 L813.7,135.9 L814.2,136.7 L814.7,136.4 L815.2,137.1 L815.7,140.8 L816.2,140.0 L816.7,141.7 L817.2,142.6 L817.7,139.8 L818.2,141.6 L818.7,142.2 L819.2,142.7 L819.7,143.1 L820.2,143.1 L820.7,143.4 L821.2,142.0 L821.7,143.9 L822.2,143.8 L822.7,145.3 L823.2,145.2 L823.7,147.1 L824.2,148.0 L824.7,148.1 L825.2,148.8 L825.7,149.3 L826.2,149.4 L826.7,150.4 L827.2,150.7 L827.7,152.3 L828.2,152.5 L828.7,153.8 L829.2,152.3 L829.7,155.4 L830.2,154.2 L830.7,154.8 L831.2,156.0 L831.7,156.2 L832.2,157.8 L832.7,157.4 L833.2,157.5" fill="none" stroke="#1414b4" stroke-width="1.8" stroke-linejoin="round"/>
<rect x="737.6" y="12" width="96.19999999999993" height="237.6" fill="none" stroke="#222" stroke-width="1.5"/>
<line x1="738.3" y1="249.6" x2="738.3" y2="244.6" stroke="#222" stroke-width="1.2"/>
<line x1="750.2" y1="249.6" x2="750.2" y2="246.6" stroke="#222" stroke-width="1.2"/>
<line x1="762.0" y1="249.6" x2="762.0" y2="244.6" stroke="#222" stroke-width="1.2"/>
<line x1="773.9" y1="249.6" x2="773.9" y2="246.6" stroke="#222" stroke-width="1.2"/>
<line x1="785.8" y1="249.6" x2="785.8" y2="244.6" stroke="#222" stroke-width="1.2"/>
<line x1="797.7" y1="249.6" x2="797.7" y2="246.6" stroke="#222" stroke-width="1.2"/>
<line x1="809.5" y1="249.6" x2="809.5" y2="244.6" stroke="#222" stroke-width="1.2"/>
<line x1="821.4" y1="249.6" x2="821.4" y2="246.6" stroke="#222" stroke-width="1.2"/>
<line x1="833.3" y1="249.6" x2="833.3" y2="244.6" stroke="#222" stroke-width="1.2"/>
<text x="738.3" y="264.2" font-family="'Liberation Serif', 'Times New Roman', serif" font-weight="bold" font-size="15.5" fill="#111" text-anchor="middle">28</text>
<text x="762.0" y="264.2" font-family="'Liberation Serif', 'Times New Roman', serif" font-weight="bold" font-size="15.5" fill="#111" text-anchor="middle">29</text>
<text x="785.8" y="264.2" font-family="'Liberation Serif', 'Times New Roman', serif" font-weight="bold" font-size="15.5" fill="#111" text-anchor="middle">30</text>
<text x="809.5" y="264.2" font-family="'Liberation Serif', 'Times New Roman', serif" font-weight="bold" font-size="15.5" fill="#111" text-anchor="middle">31</text>
<text x="833.3" y="264.2" font-family="'Liberation Serif', 'Times New Roman', serif" font-weight="bold" font-size="15.5" fill="#111" text-anchor="middle">32</text>
<text x="784.5" y="280.8" font-family="'Liberation Serif', 'Times New Roman', serif" font-weight="bold" font-size="18.2" fill="#111" text-anchor="middle">2&#952; (deg.)</text>
<text x="741.5" y="32.2" font-family="'Liberation Serif', 'Times New Roman', serif" font-weight="bold" font-size="25" fill="#111">(c)</text>
<g transform="translate(756.58,153.88) rotate(-90)"><text x="0" y="0" font-family="'Liberation Serif', 'Times New Roman', serif" font-weight="bold" font-size="14.25" fill="#111"><tspan>(111)</tspan><tspan font-size="9.3" dy="2.9">m</tspan><tspan dy="-2.9">&#8203;</tspan></text><line x1="5.70" x2="11.12" y1="-11.40" y2="-11.40" stroke="#111" stroke-width="1.00"/></g>
<g transform="translate(809.40,82.48) rotate(-90)"><text x="0" y="0" font-family="'Liberation Serif', 'Times New Roman', serif" font-weight="bold" font-size="13.65" fill="#111"><tspan>(111)</tspan><tspan font-size="8.9" dy="2.7">o</tspan><tspan dy="-2.7">&#8203;</tspan><tspan>/(101)</tspan><tspan font-size="8.9" dy="2.7">t</tspan><tspan dy="-2.7">&#8203;</tspan></text></g>
<g transform="translate(825.98,138.68) rotate(-90)"><text x="0" y="0" font-family="'Liberation Serif', 'Times New Roman', serif" font-weight="bold" font-size="14.25" fill="#111"><tspan>(111)</tspan><tspan font-size="9.3" dy="2.9">m</tspan><tspan dy="-2.9">&#8203;</tspan></text></g>
<g clip-path="url(#cpd)"><g filter="url(#nz1)"><g filter="url(#nzc)">
<rect x="408" y="270.3" width="351.1" height="312.6" fill="#424242"/>
<ellipse cx="520" cy="335" rx="70" ry="25" fill="#383838" opacity="0.8" filter="url(#blur14)"/>
<ellipse cx="640" cy="330" rx="45" ry="20" fill="#3c3c3c" opacity="0.7" filter="url(#blur14)"/>
<ellipse cx="720" cy="305" rx="30" ry="20" fill="#4a4a4a" opacity="0.7" filter="url(#blur14)"/>
<ellipse cx="470" cy="315" rx="40" ry="20" fill="#474747" opacity="0.6" filter="url(#blur14)"/>
<rect x="420" y="358" width="330" height="8" fill="#5a5a5a" opacity="0.8" filter="url(#blur4)"/>
<rect x="420" y="363" width="215" height="12" fill="#929292" opacity="1" filter="url(#blur2)"/>
<rect x="625" y="365" width="120" height="10" fill="#707070" opacity="0.8" filter="url(#blur4)"/>
<rect x="420" y="376" width="330" height="97" fill="#505050" opacity="1" filter="url(#blur2)"/>
<rect x="628" y="376" width="125" height="97" fill="#6c6c6c" opacity="1" filter="url(#blur8)"/>
<ellipse cx="530" cy="391" rx="90" ry="10" fill="#444444" opacity="1" filter="url(#blur4)"/>
<ellipse cx="445" cy="390" rx="25" ry="10" fill="#4e4e4e" opacity="0.8" filter="url(#blur8)"/>
<ellipse cx="510" cy="444" rx="58" ry="9" fill="#262626" opacity="1" filter="url(#blur4)"/>
<ellipse cx="595" cy="441" rx="25" ry="8" fill="#3c3c3c" opacity="0.8" filter="url(#blur4)"/>
<ellipse cx="470" cy="442" rx="20" ry="7" fill="#333333" opacity="0.8" filter="url(#blur4)"/>
<rect x="420" y="453" width="330" height="20" fill="#6e6e6e" opacity="0.9" filter="url(#blur2)"/>
<rect x="420" y="474" width="330" height="16" fill="#585858" opacity="1" filter="url(#blur2)"/>
<rect x="420" y="490" width="330" height="80" fill="#363636" opacity="1" filter="url(#blur8)"/>
<ellipse cx="570" cy="540" rx="75" ry="32" fill="#121212" opacity="1" filter="url(#blur14)"/>
<ellipse cx="450" cy="540" rx="22" ry="25" fill="#444444" opacity="0.8" filter="url(#blur8)"/>
<ellipse cx="470" cy="505" rx="40" ry="12" fill="#262626" opacity="0.8" filter="url(#blur8)"/>
<ellipse cx="705" cy="525" rx="45" ry="35" fill="#474747" opacity="0.8" filter="url(#blur14)"/>
</g></g>
<rect x="420" y="377" width="215" height="95" fill="url(#latd)" opacity="0.16" filter="url(#sb1)"/>
<rect x="610" y="377" width="140" height="95" fill="url(#latd)" opacity="0.08"/>
</g>
<g clip-path="url(#cph)"><g filter="url(#nz2)"><g filter="url(#nzc)">
<rect x="-8.3" y="548.7" width="350.4" height="312" fill="#3c3c3c"/>
<ellipse cx="200" cy="600" rx="60" ry="20" fill="#363636" opacity="0.7" filter="url(#blur14)"/>
<ellipse cx="270" cy="590" rx="40" ry="16" fill="#3a3a3a" opacity="0.6" filter="url(#blur14)"/>
<rect x="0" y="622" width="340" height="22" fill="#484848" opacity="0.9" filter="url(#blur8)"/>
<polygon points="0,560 104,560 99,568 80,576 60,585 43.6,592.5 25,596 11,598 0,600" fill="#b0b0b0" filter="url(#blur2)"/>
<polyline points="104,560 99,568 80,576 60,585 43.6,592.5 25,596 11,598 0,600" fill="none" stroke="#9a9a9a" stroke-width="4" opacity="0.6" filter="url(#blur2)"/>
<rect x="0" y="641" width="340" height="16" fill="#7c7c7c" opacity="0.95" filter="url(#blur2)"/>
<rect x="0" y="652" width="340" height="90" fill="#5a5a5a" opacity="1" filter="url(#blur2)"/>
<ellipse cx="210" cy="700" rx="90" ry="25" fill="#4e4e4e" opacity="0.8" filter="url(#blur14)"/>
<rect x="0" y="726" width="340" height="16" fill="#6a6a6a" opacity="0.85" filter="url(#blur2)"/>
<rect x="0" y="742" width="340" height="14" fill="#333333" opacity="1" filter="url(#blur2)"/>
<rect x="0" y="752" width="340" height="100" fill="#202020" opacity="1" filter="url(#blur4)"/>
<ellipse cx="200" cy="777" rx="28" ry="15" fill="#363636" opacity="0.8" filter="url(#blur8)"/>
</g></g>
<rect x="120" y="656" width="210" height="84" fill="url(#lath)" opacity="0.13" filter="url(#sb1)"/>
</g>
<g clip-path="url(#cpl)"><g filter="url(#nz3)"><g filter="url(#nzc)">
<rect x="407.8" y="548.7" width="351.4" height="312" fill="#3c3c3c"/>
<ellipse cx="470" cy="590" rx="60" ry="25" fill="#454545" opacity="0.7" filter="url(#blur14)"/>
<ellipse cx="600" cy="600" rx="60" ry="25" fill="#383838" opacity="0.6" filter="url(#blur14)"/>
<ellipse cx="700" cy="590" rx="50" ry="25" fill="#424242" opacity="0.6" filter="url(#blur14)"/>
<rect x="420" y="622" width="330" height="22" fill="#4a4a4a" opacity="0.9" filter="url(#blur4)"/>
<ellipse cx="500" cy="635" rx="90" ry="10" fill="#555555" opacity="0.7" filter="url(#blur8)"/>
<rect x="420" y="645" width="330" height="20" fill="#6e6e6e" opacity="0.95" filter="url(#blur2)"/>
<rect x="420" y="660" width="330" height="70" fill="#5a5a5a" opacity="1" filter="url(#blur2)"/>
<ellipse cx="500" cy="690" rx="80" ry="30" fill="#606060" opacity="0.7" filter="url(#blur14)"/>
<ellipse cx="725" cy="700" rx="25" ry="40" fill="#505050" opacity="0.8" filter="url(#blur8)"/>
<ellipse cx="690" cy="735" rx="50" ry="10" fill="#555555" opacity="0.7" filter="url(#blur8)"/>
<rect x="420" y="727" width="330" height="15" fill="#606060" opacity="0.9" filter="url(#blur2)"/>
<rect x="420" y="742" width="330" height="110" fill="#363636" opacity="1" filter="url(#blur2)"/>
<ellipse cx="520" cy="790" rx="70" ry="35" fill="#3c3c3c" opacity="0.8" filter="url(#blur14)"/>
<ellipse cx="715" cy="780" rx="30" ry="30" fill="#2c2c2c" opacity="0.7" filter="url(#blur8)"/>
<ellipse cx="460" cy="830" rx="40" ry="20" fill="#303030" opacity="0.7" filter="url(#blur8)"/>
</g></g>
<rect x="520" y="656" width="180" height="80" fill="url(#latl)" opacity="0.14" filter="url(#sb1)"/>
</g>
<line x1="428" y1="375" x2="739.1" y2="375" stroke="#e2e23a" stroke-width="2.3" stroke-dasharray="4.3 3.1"/>
<line x1="428" y1="473.1" x2="739.1" y2="473.1" stroke="#e2e23a" stroke-width="2.3" stroke-dasharray="4.3 3.1"/>
<rect x="617.4" y="390.6" width="48" height="40.8" fill="none" stroke="#c42c2c" stroke-width="1.4"/>
<text x="470" y="425.6" font-family="'Liberation Serif', 'Times New Roman', serif" font-weight="bold" font-size="17" fill="#ffffff" text-anchor="start">H0.5</text>
<text x="522" y="425.6" font-family="'Liberation Serif', 'Times New Roman', serif" font-weight="bold" font-size="17" fill="#ffffff" text-anchor="start">~10 nm</text>
<text x="431" y="309.3" font-family="'Liberation Serif', 'Times New Roman', serif" font-weight="bold" font-size="22" fill="#ffffff" text-anchor="start">(d)</text>
<text x="709.6" y="551.4" font-family="'Liberation Serif', 'Times New Roman', serif" font-weight="bold" font-size="19" fill="#ffffff" text-anchor="middle">5 nm</text>
<rect x="686" y="555.9" width="48.799999999999955" height="3" fill="#ffffff"/>
<line x1="11.7" y1="644.2" x2="322.09999999999997" y2="644.2" stroke="#e2e23a" stroke-width="2.3" stroke-dasharray="4.3 3.1"/>
<line x1="11.7" y1="742.1" x2="322.09999999999997" y2="742.1" stroke="#e2e23a" stroke-width="2.3" stroke-dasharray="4.3 3.1"/>
<rect x="242.7" y="658.7" width="46.9" height="43.1" fill="none" stroke="#c42c2c" stroke-width="1.4"/>
<text x="38.4" y="699.8" font-family="'Liberation Serif', 'Times New Roman', serif" font-weight="bold" font-size="17" fill="#ffffff" text-anchor="start">H0.2/0.5/0.8</text>
<text x="144.8" y="699.8" font-family="'Liberation Serif', 'Times New Roman', serif" font-weight="bold" font-size="17" fill="#ffffff" text-anchor="start">~10 nm</text>
<text x="13.7" y="588" font-family="'Liberation Serif', 'Times New Roman', serif" font-weight="bold" font-size="22" fill="#ffffff" text-anchor="start">(h)</text>
<text x="292" y="829.7" font-family="'Liberation Serif', 'Times New Roman', serif" font-weight="bold" font-size="19" fill="#ffffff" text-anchor="middle">5 nm</text>
<rect x="268.9" y="833.1999999999999" width="48.10000000000002" height="3.4" fill="#ffffff"/>
<line x1="427.8" y1="645" x2="739.2" y2="645" stroke="#e2e23a" stroke-width="2.3" stroke-dasharray="4.3 3.1"/>
<line x1="427.8" y1="742.1" x2="739.2" y2="742.1" stroke="#e2e23a" stroke-width="2.3" stroke-dasharray="4.3 3.1"/>
<rect x="626.3" y="674.4" width="46.1" height="41.1" fill="none" stroke="#c42c2c" stroke-width="1.4"/>
<text x="437.6" y="699.8" font-family="'Liberation Serif', 'Times New Roman', serif" font-weight="bold" font-size="17" fill="#ffffff" text-anchor="start">H0/0.2//0.8/1</text>
<text x="539" y="699.8" font-family="'Liberation Serif', 'Times New Roman', serif" font-weight="bold" font-size="17" fill="#ffffff" text-anchor="start">~10 nm</text>
<text x="431" y="588" font-family="'Liberation Serif', 'Times New Roman', serif" font-weight="bold" font-size="22.5" fill="#ffffff" text-anchor="start">(l)</text>
<text x="708.5" y="829.9" font-family="'Liberation Serif', 'Times New Roman', serif" font-weight="bold" font-size="19" fill="#ffffff" text-anchor="middle">5 nm</text>
<rect x="685" y="833.1999999999999" width="48.10000000000002" height="3.2" fill="#ffffff"/>
<g clip-path="url(#cse)"><g filter="url(#nzs1)">
<rect x="739.8" y="287.6" width="104.9" height="94.7" fill="#000"/>
<rect x="741.8" y="289.6" width="100.9" height="90.7" fill="#555555"/><rect x="741.8" y="289.6" width="100.9" height="90.7" fill="url(#pe)" opacity="0.8" filter="url(#sb1)"/><rect x="796.8" y="289.6" width="50" height="90.7" fill="#555" opacity="0.35" filter="url(#blur8)"/>
</g></g>
<rect x="742.8" y="290.6" width="98.9" height="88.7" fill="none" stroke="#c23c3c" stroke-width="2"/>
<rect x="742.0" y="289.8" width="100.5" height="90.3" fill="none" stroke="#e27a7a" stroke-width="0.5" opacity="0.8"/>
<line x1="778.5" y1="297.3" x2="792.8" y2="363.5" stroke="#d8d846" stroke-width="1.2"/>
<line x1="785.2" y1="297.3" x2="800" y2="363.5" stroke="#d8d846" stroke-width="1.2"/>
<text x="771" y="376.5" font-family="'Liberation Serif', 'Times New Roman', serif" font-weight="bold" font-size="14.2" fill="#ffffff" text-anchor="start">d = 3.116 &#197;</text>
<text x="744.3" y="308" font-family="'Liberation Serif', 'Times New Roman', serif" font-weight="bold" font-size="22" fill="#ffffff" text-anchor="start">(e)</text>
<g clip-path="url(#csg)"><g filter="url(#nzs4)">
<rect x="739.8" y="470.3" width="104.9" height="95.4" fill="#000"/>
<rect x="741.8" y="472.3" width="100.9" height="91.4" fill="#060606"/><rect x="741.8" y="472.3" width="100.9" height="91.4" fill="url(#pg)" filter="url(#sb1)"/><rect x="741.8" y="472.3" width="100.9" height="91.4" fill="url(#gfade)"/>
</g></g>
<rect x="742.8" y="473.3" width="98.9" height="89.4" fill="none" stroke="#c23c3c" stroke-width="2"/>
<rect x="742.0" y="472.5" width="100.5" height="91.0" fill="none" stroke="#e27a7a" stroke-width="0.5" opacity="0.8"/>
<text x="743.4" y="493.3" font-family="'Liberation Serif', 'Times New Roman', serif" font-weight="bold" font-size="22" fill="#ffffff" text-anchor="start">(g)</text>
<g clip-path="url(#csi)"><g filter="url(#nzs2)">
<rect x="320.8" y="565.8" width="106.2" height="94.9" fill="#000"/>
<rect x="322.8" y="567.8" width="102.2" height="90.9" fill="url(#pi)"/>
</g></g>
<rect x="323.8" y="568.8" width="100.2" height="88.9" fill="none" stroke="#c23c3c" stroke-width="2"/>
<rect x="323.0" y="568.0" width="101.8" height="90.5" fill="none" stroke="#e27a7a" stroke-width="0.5" opacity="0.8"/>
<line x1="339" y1="629.8" x2="397.3" y2="593.7" stroke="#d8d846" stroke-width="1.2"/>
<line x1="342.4" y1="636.1" x2="400.6" y2="599.9" stroke="#d8d846" stroke-width="1.2"/>
<text x="344" y="650.6" font-family="'Liberation Serif', 'Times New Roman', serif" font-weight="bold" font-size="14.2" fill="#ffffff" text-anchor="start">d = 2.941 &#197;</text>
<text x="328.3" y="588.5" font-family="'Liberation Serif', 'Times New Roman', serif" font-weight="bold" font-size="22.5" fill="#ffffff" text-anchor="start">(i)</text>
<g clip-path="url(#csk)"><g filter="url(#nzs4)">
<rect x="320.8" y="747.5" width="106.2" height="95.3" fill="#000"/>
<rect x="322.8" y="749.5" width="102.2" height="91.3" fill="url(#pk)"/><rect x="322.8" y="749.5" width="102.2" height="91.3" fill="url(#kfade)"/>
</g></g>
<rect x="323.8" y="750.5" width="100.2" height="89.3" fill="none" stroke="#c23c3c" stroke-width="2"/>
<rect x="323.0" y="749.7" width="101.8" height="90.89999999999999" fill="none" stroke="#e27a7a" stroke-width="0.5" opacity="0.8"/>
<text x="327.5" y="770.2" font-family="'Liberation Serif', 'Times New Roman', serif" font-weight="bold" font-size="21" fill="#ffffff" text-anchor="start">(k)</text>
<g clip-path="url(#csm)"><g filter="url(#nzs3)">
<rect x="739.8" y="566.2" width="104.9" height="94.6" fill="#000"/>
<rect x="741.8" y="568.2" width="100.9" height="90.6" fill="url(#pm)"/>
</g></g>
<rect x="742.8" y="569.2" width="98.9" height="88.6" fill="none" stroke="#c23c3c" stroke-width="2"/>
<rect x="742.0" y="568.4000000000001" width="100.5" height="90.19999999999999" fill="none" stroke="#e27a7a" stroke-width="0.5" opacity="0.8"/>
<line x1="776.4" y1="585.8" x2="803.7" y2="641" stroke="#d8d846" stroke-width="1.2"/>
<line x1="781.1" y1="581" x2="810.8" y2="641" stroke="#d8d846" stroke-width="1.2"/>
<text x="765.7" y="655" font-family="'Liberation Serif', 'Times New Roman', serif" font-weight="bold" font-size="14.2" fill="#ffffff" text-anchor="start">d = 2.689 &#197;</text>
<text x="745.8" y="587" font-family="'Liberation Serif', 'Times New Roman', serif" font-weight="bold" font-size="21.6" fill="#ffffff" text-anchor="start">(m)</text>
<g clip-path="url(#cso)"><g filter="url(#nzs4)">
<rect x="739.8" y="747.7" width="104.9" height="95.1" fill="#000"/>
<rect x="741.8" y="749.7" width="100.9" height="91.1" fill="url(#po)"/>
</g></g>
<rect x="742.8" y="750.7" width="98.9" height="89.1" fill="none" stroke="#c23c3c" stroke-width="2"/>
<rect x="742.0" y="749.9000000000001" width="100.5" height="90.69999999999999" fill="none" stroke="#e27a7a" stroke-width="0.5" opacity="0.8"/>
<text x="747" y="768.8" font-family="'Liberation Serif', 'Times New Roman', serif" font-weight="bold" font-size="20.5" fill="#ffffff" text-anchor="start">(o)</text>
<g clip-path="url(#csf)"><g>
<rect x="739.8" y="378.3" width="104.9" height="96" fill="#000"/>
<rect x="741.8" y="380.3" width="100.9" height="92" fill="#030303"/><ellipse cx="788" cy="430" rx="31.200000000000003" ry="31.200000000000003" fill="url(#glow)" opacity="1.0"/><rect x="792.8" y="432.2" width="0.9" height="0.9" fill="#fff" opacity="0.69"/><rect x="797.8" y="432.5" width="0.7" height="0.7" fill="#fff" opacity="0.22"/><rect x="783.1" y="444.5" width="1.3" height="1.3" fill="#fff" opacity="0.52"/><rect x="790.0" y="437.7" width="0.7" height="0.7" fill="#fff" opacity="0.49"/><rect x="785.5" y="437.4" width="1.2" height="1.2" fill="#fff" opacity="0.20"/><rect x="782.4" y="429.4" width="1.0" height="1.0" fill="#fff" opacity="0.66"/><rect x="791.5" y="429.9" width="0.7" height="0.7" fill="#fff" opacity="0.63"/><rect x="783.9" y="419.5" width="1.1" height="1.1" fill="#fff" opacity="0.75"/><rect x="798.6" y="432.8" width="1.0" height="1.0" fill="#fff" opacity="0.48"/><rect x="783.7" y="422.0" width="1.0" height="1.0" fill="#fff" opacity="0.60"/><rect x="766.0" y="447.6" width="0.6" height="0.6" fill="#fff" opacity="0.26"/><rect x="792.9" y="432.8" width="1.2" height="1.2" fill="#fff" opacity="0.90"/><rect x="780.8" y="438.4" width="1.0" height="1.0" fill="#fff" opacity="0.35"/><rect x="785.9" y="431.1" width="0.9" height="0.9" fill="#fff" opacity="0.76"/><rect x="787.4" y="430.3" width="1.2" height="1.2" fill="#fff" opacity="0.67"/><rect x="796.7" y="423.5" width="1.0" height="1.0" fill="#fff" opacity="0.75"/><rect x="786.3" y="424.7" width="0.8" height="0.8" fill="#fff" opacity="0.69"/><rect x="774.5" y="441.2" width="0.8" height="0.8" fill="#fff" opacity="0.71"/><rect x="791.5" y="425.3" width="0.8" height="0.8" fill="#fff" opacity="0.54"/><rect x="784.4" y="406.8" width="0.8" height="0.8" fill="#fff" opacity="0.43"/><rect x="778.3" y="428.7" width="1.1" height="1.1" fill="#fff" opacity="0.78"/><rect x="783.3" y="425.2" width="0.9" height="0.9" fill="#fff" opacity="0.87"/><rect x="794.4" y="425.4" width="0.8" height="0.8" fill="#fff" opacity="0.35"/><rect x="778.5" y="430.5" width="1.1" height="1.1" fill="#fff" opacity="0.66"/><rect x="790.1" y="429.0" width="1.2" height="1.2" fill="#fff" opacity="0.25"/><rect x="807.1" y="438.8" width="0.7" height="0.7" fill="#fff" opacity="0.14"/><rect x="790.2" y="429.2" width="0.8" height="0.8" fill="#fff" opacity="0.64"/><rect x="774.4" y="425.1" width="0.7" height="0.7" fill="#fff" opacity="0.41"/><rect x="788.2" y="424.5" width="1.2" height="1.2" fill="#fff" opacity="0.22"/><rect x="789.9" y="428.1" width="1.2" height="1.2" fill="#fff" opacity="0.29"/><rect x="796.3" y="433.2" width="0.9" height="0.9" fill="#fff" opacity="0.29"/><rect x="785.0" y="424.7" width="1.0" height="1.0" fill="#fff" opacity="0.65"/><rect x="818.7" y="426.0" width="0.8" height="0.8" fill="#fff" opacity="0.38"/><rect x="789.6" y="425.3" width="1.2" height="1.2" fill="#fff" opacity="0.43"/><rect x="783.3" y="426.9" width="0.6" height="0.6" fill="#fff" opacity="0.45"/><rect x="791.6" y="427.4" width="1.0" height="1.0" fill="#fff" opacity="0.60"/><rect x="797.5" y="430.3" width="0.7" height="0.7" fill="#fff" opacity="0.34"/><rect x="764.9" y="434.6" width="1.2" height="1.2" fill="#fff" opacity="0.30"/><rect x="769.8" y="425.4" width="1.0" height="1.0" fill="#fff" opacity="0.68"/><rect x="786.1" y="431.3" width="0.9" height="0.9" fill="#fff" opacity="0.67"/><rect x="787.1" y="428.6" width="1.1" height="1.1" fill="#fff" opacity="0.51"/><rect x="801.5" y="425.2" width="1.1" height="1.1" fill="#fff" opacity="0.22"/><rect x="786.6" y="429.6" width="1.3" height="1.3" fill="#fff" opacity="0.25"/><rect x="796.4" y="425.8" width="0.9" height="0.9" fill="#fff" opacity="0.27"/><rect x="774.8" y="432.7" width="1.0" height="1.0" fill="#fff" opacity="0.71"/><rect x="788.3" y="430.1" width="0.7" height="0.7" fill="#fff" opacity="0.38"/><rect x="789.4" y="428.2" width="0.7" height="0.7" fill="#fff" opacity="0.70"/><rect x="769.1" y="412.6" width="0.9" height="0.9" fill="#fff" opacity="0.42"/><rect x="799.3" y="427.6" width="1.2" height="1.2" fill="#fff" opacity="0.83"/><rect x="786.8" y="422.5" width="0.8" height="0.8" fill="#fff" opacity="0.31"/><rect x="794.3" y="420.4" width="0.9" height="0.9" fill="#fff" opacity="0.77"/><rect x="786.1" y="430.2" width="1.2" height="1.2" fill="#fff" opacity="0.20"/><rect x="786.2" y="449.6" width="1.0" height="1.0" fill="#fff" opacity="0.22"/><rect x="804.0" y="428.7" width="1.1" height="1.1" fill="#fff" opacity="0.68"/><rect x="793.3" y="437.4" width="0.8" height="0.8" fill="#fff" opacity="0.69"/><rect x="798.6" y="424.6" width="0.8" height="0.8" fill="#fff" opacity="0.62"/><rect x="779.7" y="439.9" width="0.9" height="0.9" fill="#fff" opacity="0.70"/><rect x="780.7" y="435.5" width="0.6" height="0.6" fill="#fff" opacity="0.23"/><rect x="804.2" y="420.3" width="1.2" height="1.2" fill="#fff" opacity="0.42"/><rect x="792.1" y="407.1" width="1.3" height="1.3" fill="#fff" opacity="0.54"/><rect x="783.6" y="433.1" width="0.8" height="0.8" fill="#fff" opacity="0.51"/><rect x="793.7" y="421.3" width="0.8" height="0.8" fill="#fff" opacity="0.70"/><rect x="782.3" y="428.1" width="1.1" height="1.1" fill="#fff" opacity="0.35"/><rect x="773.9" y="442.2" width="0.9" height="0.9" fill="#fff" opacity="0.54"/><rect x="783.7" y="440.6" width="1.2" height="1.2" fill="#fff" opacity="0.47"/><rect x="788.3" y="428.6" width="1.1" height="1.1" fill="#fff" opacity="0.48"/><rect x="792.4" y="438.7" width="0.8" height="0.8" fill="#fff" opacity="0.84"/><rect x="790.3" y="429.2" width="1.3" height="1.3" fill="#fff" opacity="0.70"/><rect x="779.4" y="433.0" width="1.0" height="1.0" fill="#fff" opacity="0.50"/><rect x="787.2" y="440.3" width="0.6" height="0.6" fill="#fff" opacity="0.58"/><rect x="794.5" y="433.1" width="0.7" height="0.7" fill="#fff" opacity="0.38"/><rect x="781.4" y="441.0" width="0.7" height="0.7" fill="#fff" opacity="0.24"/><rect x="786.7" y="431.4" width="0.8" height="0.8" fill="#fff" opacity="0.80"/><rect x="790.1" y="424.4" width="1.2" height="1.2" fill="#fff" opacity="0.36"/><rect x="805.1" y="442.1" width="1.0" height="1.0" fill="#fff" opacity="0.48"/><rect x="786.8" y="427.8" width="1.0" height="1.0" fill="#fff" opacity="0.27"/><rect x="812.2" y="432.6" width="1.0" height="1.0" fill="#fff" opacity="0.44"/><rect x="788.2" y="432.7" width="0.6" height="0.6" fill="#fff" opacity="0.22"/><rect x="791.3" y="435.8" width="0.9" height="0.9" fill="#fff" opacity="0.60"/><rect x="790.0" y="422.5" width="0.6" height="0.6" fill="#fff" opacity="0.25"/><rect x="794.3" y="455.0" width="0.8" height="0.8" fill="#fff" opacity="0.25"/><rect x="785.6" y="438.2" width="0.6" height="0.6" fill="#fff" opacity="0.69"/><rect x="783.6" y="444.2" width="0.8" height="0.8" fill="#fff" opacity="0.62"/><rect x="787.3" y="436.3" width="1.2" height="1.2" fill="#fff" opacity="0.44"/><rect x="785.3" y="412.3" width="0.7" height="0.7" fill="#fff" opacity="0.37"/><rect x="789.6" y="444.1" width="0.6" height="0.6" fill="#fff" opacity="0.37"/><rect x="787.3" y="430.0" width="0.7" height="0.7" fill="#fff" opacity="0.77"/><rect x="780.8" y="431.7" width="1.1" height="1.1" fill="#fff" opacity="0.31"/><rect x="776.4" y="462.0" width="0.6" height="0.6" fill="#fff" opacity="0.15"/><rect x="790.1" y="411.8" width="1.1" height="1.1" fill="#fff" opacity="0.56"/><rect x="799.0" y="425.9" width="0.7" height="0.7" fill="#fff" opacity="0.76"/><rect x="780.9" y="434.3" width="1.0" height="1.0" fill="#fff" opacity="0.48"/><rect x="798.9" y="430.0" width="0.8" height="0.8" fill="#fff" opacity="0.64"/><rect x="790.8" y="432.9" width="0.7" height="0.7" fill="#fff" opacity="0.87"/><rect x="805.0" y="437.4" width="1.2" height="1.2" fill="#fff" opacity="0.39"/><rect x="787.4" y="426.6" width="0.9" height="0.9" fill="#fff" opacity="0.27"/><rect x="774.1" y="427.2" width="1.2" height="1.2" fill="#fff" opacity="0.59"/><rect x="762.3" y="453.1" width="0.9" height="0.9" fill="#fff" opacity="0.15"/><rect x="792.6" y="441.5" width="1.3" height="1.3" fill="#fff" opacity="0.65"/><rect x="783.9" y="432.3" width="1.1" height="1.1" fill="#fff" opacity="0.84"/><rect x="787.3" y="423.6" width="1.1" height="1.1" fill="#fff" opacity="0.29"/><rect x="780.2" y="411.6" width="1.3" height="1.3" fill="#fff" opacity="0.38"/><rect x="790.8" y="431.1" width="1.3" height="1.3" fill="#fff" opacity="0.24"/><rect x="776.1" y="425.1" width="0.8" height="0.8" fill="#fff" opacity="0.24"/><rect x="790.8" y="431.1" width="0.8" height="0.8" fill="#fff" opacity="0.45"/><rect x="778.5" y="424.4" width="0.7" height="0.7" fill="#fff" opacity="0.30"/><rect x="793.5" y="434.6" width="1.0" height="1.0" fill="#fff" opacity="0.72"/><rect x="788.5" y="430.3" width="1.1" height="1.1" fill="#fff" opacity="0.22"/><rect x="774.9" y="418.9" width="0.8" height="0.8" fill="#fff" opacity="0.32"/><rect x="793.8" y="444.9" width="1.2" height="1.2" fill="#fff" opacity="0.74"/><rect x="776.6" y="419.2" width="1.2" height="1.2" fill="#fff" opacity="0.75"/><rect x="772.9" y="419.6" width="0.8" height="0.8" fill="#fff" opacity="0.56"/><rect x="798.7" y="421.2" width="1.2" height="1.2" fill="#fff" opacity="0.55"/><rect x="794.3" y="420.5" width="0.7" height="0.7" fill="#fff" opacity="0.40"/><rect x="783.6" y="418.4" width="0.8" height="0.8" fill="#fff" opacity="0.25"/><rect x="781.3" y="437.3" width="1.0" height="1.0" fill="#fff" opacity="0.61"/><rect x="781.1" y="449.8" width="0.8" height="0.8" fill="#fff" opacity="0.34"/><rect x="795.8" y="448.3" width="0.8" height="0.8" fill="#fff" opacity="0.64"/><rect x="785.8" y="423.7" width="0.8" height="0.8" fill="#fff" opacity="0.63"/><rect x="797.3" y="408.5" width="1.2" height="1.2" fill="#fff" opacity="0.55"/><rect x="802.8" y="425.6" width="1.2" height="1.2" fill="#fff" opacity="0.77"/><rect x="783.7" y="419.8" width="1.2" height="1.2" fill="#fff" opacity="0.53"/><rect x="787.2" y="425.0" width="0.9" height="0.9" fill="#fff" opacity="0.27"/><rect x="784.8" y="421.4" width="0.7" height="0.7" fill="#fff" opacity="0.76"/><rect x="784.5" y="403.7" width="1.2" height="1.2" fill="#fff" opacity="0.35"/><rect x="802.8" y="419.5" width="1.0" height="1.0" fill="#fff" opacity="0.25"/><rect x="789.7" y="431.5" width="0.8" height="0.8" fill="#fff" opacity="0.90"/><rect x="769.6" y="438.0" width="0.9" height="0.9" fill="#fff" opacity="0.15"/><rect x="775.1" y="449.2" width="0.9" height="0.9" fill="#fff" opacity="0.22"/><rect x="804.7" y="423.9" width="1.0" height="1.0" fill="#fff" opacity="0.36"/><rect x="778.1" y="422.3" width="1.2" height="1.2" fill="#fff" opacity="0.44"/><rect x="771.8" y="426.7" width="1.2" height="1.2" fill="#fff" opacity="0.58"/><rect x="786.9" y="431.2" width="1.1" height="1.1" fill="#fff" opacity="0.87"/><rect x="782.7" y="416.1" width="1.1" height="1.1" fill="#fff" opacity="0.27"/><rect x="784.6" y="430.8" width="1.3" height="1.3" fill="#fff" opacity="0.46"/><rect x="784.9" y="425.3" width="1.2" height="1.2" fill="#fff" opacity="0.44"/><rect x="789.8" y="430.9" width="1.1" height="1.1" fill="#fff" opacity="0.31"/><rect x="807.1" y="439.8" width="0.6" height="0.6" fill="#fff" opacity="0.36"/><rect x="780.8" y="425.4" width="1.1" height="1.1" fill="#fff" opacity="0.82"/><rect x="778.3" y="435.2" width="1.2" height="1.2" fill="#fff" opacity="0.20"/><rect x="780.4" y="418.9" width="0.8" height="0.8" fill="#fff" opacity="0.52"/><rect x="788.9" y="424.7" width="0.6" height="0.6" fill="#fff" opacity="0.27"/><rect x="783.4" y="414.9" width="0.9" height="0.9" fill="#fff" opacity="0.43"/><rect x="803.9" y="418.9" width="1.2" height="1.2" fill="#fff" opacity="0.19"/><rect x="786.3" y="420.1" width="1.1" height="1.1" fill="#fff" opacity="0.21"/><rect x="777.7" y="430.3" width="1.1" height="1.1" fill="#fff" opacity="0.33"/><rect x="778.6" y="442.1" width="0.8" height="0.8" fill="#fff" opacity="0.55"/><rect x="787.4" y="426.7" width="0.7" height="0.7" fill="#fff" opacity="0.66"/><rect x="789.0" y="424.9" width="0.7" height="0.7" fill="#fff" opacity="0.77"/><rect x="779.0" y="428.5" width="1.1" height="1.1" fill="#fff" opacity="0.28"/><rect x="794.6" y="425.7" width="0.9" height="0.9" fill="#fff" opacity="0.82"/><rect x="783.2" y="435.8" width="0.8" height="0.8" fill="#fff" opacity="0.72"/><rect x="811.9" y="412.0" width="1.0" height="1.0" fill="#fff" opacity="0.21"/><rect x="793.7" y="425.9" width="1.0" height="1.0" fill="#fff" opacity="0.40"/><rect x="798.0" y="428.2" width="0.8" height="0.8" fill="#fff" opacity="0.34"/><rect x="783.5" y="437.2" width="1.0" height="1.0" fill="#fff" opacity="0.28"/><rect x="782.8" y="423.5" width="1.1" height="1.1" fill="#fff" opacity="0.27"/><rect x="789.1" y="431.2" width="0.7" height="0.7" fill="#fff" opacity="0.65"/><rect x="787.1" y="432.6" width="0.8" height="0.8" fill="#fff" opacity="0.72"/><rect x="786.6" y="419.0" width="0.7" height="0.7" fill="#fff" opacity="0.58"/><rect x="784.7" y="430.5" width="0.7" height="0.7" fill="#fff" opacity="0.77"/><rect x="796.8" y="433.8" width="0.9" height="0.9" fill="#fff" opacity="0.50"/><rect x="799.1" y="434.1" width="0.9" height="0.9" fill="#fff" opacity="0.55"/><rect x="787.9" y="431.9" width="0.7" height="0.7" fill="#fff" opacity="0.80"/><rect x="761.6" y="421.3" width="1.2" height="1.2" fill="#fff" opacity="0.25"/><rect x="794.1" y="442.2" width="0.7" height="0.7" fill="#fff" opacity="0.80"/><rect x="775.9" y="427.4" width="1.3" height="1.3" fill="#fff" opacity="0.78"/><rect x="787.4" y="429.4" width="1.3" height="1.3" fill="#fff" opacity="0.87"/><rect x="790.5" y="433.7" width="1.0" height="1.0" fill="#fff" opacity="0.26"/><rect x="769.8" y="429.9" width="1.2" height="1.2" fill="#fff" opacity="0.67"/><rect x="780.6" y="433.7" width="1.1" height="1.1" fill="#fff" opacity="0.59"/><rect x="778.5" y="425.3" width="1.0" height="1.0" fill="#fff" opacity="0.41"/><rect x="790.5" y="426.2" width="1.0" height="1.0" fill="#fff" opacity="0.83"/><rect x="789.0" y="431.3" width="1.0" height="1.0" fill="#fff" opacity="0.84"/><rect x="779.5" y="435.5" width="1.0" height="1.0" fill="#fff" opacity="0.37"/><rect x="790.8" y="432.4" width="1.0" height="1.0" fill="#fff" opacity="0.69"/><rect x="795.4" y="423.9" width="1.1" height="1.1" fill="#fff" opacity="0.46"/><rect x="776.2" y="424.1" width="0.7" height="0.7" fill="#fff" opacity="0.79"/><rect x="778.5" y="425.3" width="0.8" height="0.8" fill="#fff" opacity="0.19"/><rect x="789.2" y="422.0" width="0.6" height="0.6" fill="#fff" opacity="0.24"/><rect x="793.2" y="439.3" width="1.0" height="1.0" fill="#fff" opacity="0.62"/><rect x="802.8" y="419.0" width="0.9" height="0.9" fill="#fff" opacity="0.16"/><rect x="798.6" y="445.6" width="1.2" height="1.2" fill="#fff" opacity="0.55"/><rect x="792.6" y="424.6" width="0.9" height="0.9" fill="#fff" opacity="0.29"/><rect x="793.3" y="420.1" width="0.9" height="0.9" fill="#fff" opacity="0.84"/><rect x="781.5" y="426.5" width="1.2" height="1.2" fill="#fff" opacity="0.90"/><rect x="785.4" y="428.9" width="0.9" height="0.9" fill="#fff" opacity="0.92"/><rect x="765.8" y="425.2" width="1.0" height="1.0" fill="#fff" opacity="0.23"/><rect x="801.5" y="414.0" width="1.2" height="1.2" fill="#fff" opacity="0.22"/><rect x="778.4" y="443.9" width="1.0" height="1.0" fill="#fff" opacity="0.44"/><rect x="787.5" y="445.8" width="0.8" height="0.8" fill="#fff" opacity="0.53"/><rect x="791.2" y="408.0" width="0.8" height="0.8" fill="#fff" opacity="0.36"/><rect x="806.5" y="401.2" width="0.8" height="0.8" fill="#fff" opacity="0.11"/><rect x="782.0" y="432.8" width="0.7" height="0.7" fill="#fff" opacity="0.91"/><rect x="780.3" y="444.5" width="0.6" height="0.6" fill="#fff" opacity="0.22"/><rect x="778.5" y="446.5" width="1.1" height="1.1" fill="#fff" opacity="0.58"/><rect x="785.4" y="441.1" width="1.2" height="1.2" fill="#fff" opacity="0.29"/><rect x="789.2" y="429.2" width="0.9" height="0.9" fill="#fff" opacity="0.62"/><rect x="800.3" y="429.7" width="1.1" height="1.1" fill="#fff" opacity="0.63"/><rect x="795.1" y="429.3" width="1.0" height="1.0" fill="#fff" opacity="0.82"/><rect x="791.2" y="430.0" width="0.7" height="0.7" fill="#fff" opacity="0.27"/><rect x="794.3" y="409.7" width="1.2" height="1.2" fill="#fff" opacity="0.25"/><rect x="792.7" y="434.6" width="1.0" height="1.0" fill="#fff" opacity="0.76"/><rect x="787.1" y="430.0" width="1.2" height="1.2" fill="#fff" opacity="0.57"/><rect x="778.0" y="421.5" width="0.6" height="0.6" fill="#fff" opacity="0.29"/><rect x="793.3" y="420.5" width="1.0" height="1.0" fill="#fff" opacity="0.65"/><rect x="768.8" y="439.4" width="1.2" height="1.2" fill="#fff" opacity="0.25"/><rect x="777.2" y="407.5" width="0.8" height="0.8" fill="#fff" opacity="0.15"/><rect x="801.4" y="422.0" width="1.3" height="1.3" fill="#fff" opacity="0.54"/><rect x="777.3" y="446.4" width="1.1" height="1.1" fill="#fff" opacity="0.45"/><rect x="809.8" y="427.4" width="1.0" height="1.0" fill="#fff" opacity="0.32"/><rect x="777.2" y="437.3" width="0.7" height="0.7" fill="#fff" opacity="0.44"/><rect x="776.2" y="437.1" width="0.6" height="0.6" fill="#fff" opacity="0.41"/><rect x="789.3" y="428.9" width="0.8" height="0.8" fill="#fff" opacity="0.80"/><rect x="785.9" y="429.5" width="1.2" height="1.2" fill="#fff" opacity="0.91"/><rect x="788.1" y="429.8" width="0.9" height="0.9" fill="#fff" opacity="0.52"/><rect x="785.1" y="430.0" width="1.0" height="1.0" fill="#fff" opacity="0.33"/><rect x="781.1" y="421.1" width="0.6" height="0.6" fill="#fff" opacity="0.59"/><rect x="802.1" y="444.4" width="1.2" height="1.2" fill="#fff" opacity="0.61"/><rect x="792.3" y="455.2" width="1.2" height="1.2" fill="#fff" opacity="0.31"/><rect x="768.9" y="414.3" width="1.1" height="1.1" fill="#fff" opacity="0.18"/><rect x="793.8" y="430.2" width="0.8" height="0.8" fill="#fff" opacity="0.75"/><rect x="774.2" y="454.4" width="0.7" height="0.7" fill="#fff" opacity="0.11"/><rect x="792.4" y="436.1" width="0.7" height="0.7" fill="#fff" opacity="0.65"/><rect x="816.7" y="429.2" width="1.3" height="1.3" fill="#fff" opacity="0.33"/><rect x="806.4" y="431.6" width="1.2" height="1.2" fill="#fff" opacity="0.40"/><rect x="797.1" y="429.8" width="1.2" height="1.2" fill="#fff" opacity="0.84"/><rect x="790.9" y="431.4" width="0.6" height="0.6" fill="#fff" opacity="0.77"/><rect x="784.6" y="446.5" width="0.8" height="0.8" fill="#fff" opacity="0.26"/><rect x="793.5" y="425.7" width="1.3" height="1.3" fill="#fff" opacity="0.53"/><rect x="797.7" y="440.8" width="0.8" height="0.8" fill="#fff" opacity="0.33"/><rect x="787.3" y="437.1" width="1.1" height="1.1" fill="#fff" opacity="0.31"/><rect x="780.2" y="444.6" width="0.9" height="0.9" fill="#fff" opacity="0.27"/><rect x="785.9" y="430.8" width="1.2" height="1.2" fill="#fff" opacity="0.73"/><rect x="784.7" y="429.8" width="1.2" height="1.2" fill="#fff" opacity="0.44"/><rect x="762.8" y="411.6" width="0.7" height="0.7" fill="#fff" opacity="0.15"/><rect x="780.0" y="436.8" width="0.6" height="0.6" fill="#fff" opacity="0.20"/><rect x="788.1" y="430.0" width="0.8" height="0.8" fill="#fff" opacity="0.28"/><rect x="780.1" y="435.0" width="1.0" height="1.0" fill="#fff" opacity="0.39"/><rect x="783.5" y="435.2" width="1.1" height="1.1" fill="#fff" opacity="0.56"/><rect x="780.4" y="436.6" width="0.8" height="0.8" fill="#fff" opacity="0.76"/><rect x="774.6" y="412.5" width="0.6" height="0.6" fill="#fff" opacity="0.45"/><rect x="782.5" y="418.4" width="1.1" height="1.1" fill="#fff" opacity="0.71"/><rect x="765.4" y="419.0" width="0.7" height="0.7" fill="#fff" opacity="0.20"/><rect x="786.7" y="433.4" width="1.1" height="1.1" fill="#fff" opacity="0.87"/><rect x="792.8" y="416.0" width="0.7" height="0.7" fill="#fff" opacity="0.25"/><rect x="792.0" y="433.5" width="0.6" height="0.6" fill="#fff" opacity="0.65"/><rect x="787.5" y="430.2" width="0.9" height="0.9" fill="#fff" opacity="0.75"/><rect x="800.6" y="434.5" width="1.2" height="1.2" fill="#fff" opacity="0.52"/><rect x="773.3" y="430.1" width="0.7" height="0.7" fill="#fff" opacity="0.55"/><rect x="784.6" y="423.3" width="0.8" height="0.8" fill="#fff" opacity="0.33"/><rect x="789.8" y="420.3" width="0.8" height="0.8" fill="#fff" opacity="0.58"/><rect x="792.0" y="424.5" width="0.9" height="0.9" fill="#fff" opacity="0.80"/><rect x="778.7" y="421.2" width="1.1" height="1.1" fill="#fff" opacity="0.45"/><rect x="797.1" y="396.0" width="1.1" height="1.1" fill="#fff" opacity="0.31"/><rect x="790.9" y="427.0" width="1.0" height="1.0" fill="#fff" opacity="0.41"/><rect x="786.7" y="429.6" width="0.8" height="0.8" fill="#fff" opacity="0.62"/><rect x="798.9" y="425.3" width="1.2" height="1.2" fill="#fff" opacity="0.25"/><rect x="777.6" y="429.3" width="0.9" height="0.9" fill="#fff" opacity="0.82"/><rect x="796.6" y="422.5" width="1.0" height="1.0" fill="#fff" opacity="0.53"/><rect x="792.1" y="412.6" width="1.0" height="1.0" fill="#fff" opacity="0.32"/><rect x="783.3" y="429.8" width="0.8" height="0.8" fill="#fff" opacity="0.51"/><rect x="794.6" y="437.4" width="1.0" height="1.0" fill="#fff" opacity="0.30"/><rect x="803.4" y="429.4" width="1.0" height="1.0" fill="#fff" opacity="0.67"/><rect x="786.5" y="454.5" width="0.7" height="0.7" fill="#fff" opacity="0.19"/><rect x="782.7" y="415.6" width="0.7" height="0.7" fill="#fff" opacity="0.62"/><rect x="789.5" y="429.7" width="0.8" height="0.8" fill="#fff" opacity="0.70"/><rect x="782.9" y="437.8" width="1.1" height="1.1" fill="#fff" opacity="0.79"/><rect x="788.7" y="426.1" width="0.9" height="0.9" fill="#fff" opacity="0.41"/><rect x="774.0" y="422.7" width="0.7" height="0.7" fill="#fff" opacity="0.17"/><rect x="787.1" y="426.5" width="0.9" height="0.9" fill="#fff" opacity="0.32"/><rect x="793.1" y="416.0" width="0.7" height="0.7" fill="#fff" opacity="0.37"/><rect x="793.9" y="431.2" width="1.1" height="1.1" fill="#fff" opacity="0.76"/><rect x="815.9" y="410.8" width="1.0" height="1.0" fill="#fff" opacity="0.21"/><rect x="795.9" y="441.0" width="1.3" height="1.3" fill="#fff" opacity="0.73"/><rect x="786.6" y="428.7" width="0.8" height="0.8" fill="#fff" opacity="0.52"/><rect x="794.8" y="433.9" width="1.2" height="1.2" fill="#fff" opacity="0.43"/><rect x="764.5" y="450.0" width="0.9" height="0.9" fill="#fff" opacity="0.18"/><rect x="790.0" y="427.0" width="1.3" height="1.3" fill="#fff" opacity="0.45"/><rect x="787.3" y="429.0" width="1.1" height="1.1" fill="#fff" opacity="0.93"/><rect x="779.8" y="405.5" width="1.1" height="1.1" fill="#fff" opacity="0.13"/><rect x="785.7" y="426.5" width="1.3" height="1.3" fill="#fff" opacity="0.76"/><rect x="798.2" y="429.6" width="1.1" height="1.1" fill="#fff" opacity="0.31"/><rect x="788.9" y="420.2" width="1.2" height="1.2" fill="#fff" opacity="0.38"/><rect x="787.8" y="430.6" width="1.2" height="1.2" fill="#fff" opacity="0.94"/><rect x="787.1" y="430.6" width="1.3" height="1.3" fill="#fff" opacity="0.63"/><rect x="782.8" y="424.4" width="0.8" height="0.8" fill="#fff" opacity="0.30"/><rect x="792.8" y="426.5" width="1.2" height="1.2" fill="#fff" opacity="0.65"/><rect x="788.7" y="426.9" width="1.0" height="1.0" fill="#fff" opacity="0.69"/><rect x="770.7" y="430.1" width="1.0" height="1.0" fill="#fff" opacity="0.55"/><rect x="791.0" y="427.0" width="0.8" height="0.8" fill="#fff" opacity="0.48"/><rect x="806.8" y="417.9" width="0.8" height="0.8" fill="#fff" opacity="0.51"/><rect x="779.0" y="433.0" width="1.3" height="1.3" fill="#fff" opacity="0.50"/><rect x="787.8" y="430.1" width="0.6" height="0.6" fill="#fff" opacity="0.80"/><rect x="784.1" y="412.0" width="0.8" height="0.8" fill="#fff" opacity="0.56"/><rect x="801.2" y="410.3" width="1.3" height="1.3" fill="#fff" opacity="0.21"/><rect x="772.9" y="432.6" width="1.2" height="1.2" fill="#fff" opacity="0.27"/><rect x="793.2" y="432.3" width="1.1" height="1.1" fill="#fff" opacity="0.75"/><rect x="787.0" y="427.6" width="1.2" height="1.2" fill="#fff" opacity="0.72"/><rect x="788.1" y="429.3" width="0.6" height="0.6" fill="#fff" opacity="0.83"/><rect x="792.3" y="425.3" width="0.7" height="0.7" fill="#fff" opacity="0.59"/><rect x="782.2" y="425.4" width="0.7" height="0.7" fill="#fff" opacity="0.38"/><rect x="785.6" y="431.4" width="1.3" height="1.3" fill="#fff" opacity="0.88"/><rect x="779.6" y="433.0" width="1.2" height="1.2" fill="#fff" opacity="0.38"/><rect x="785.4" y="429.3" width="1.1" height="1.1" fill="#fff" opacity="0.34"/><rect x="780.3" y="447.4" width="1.0" height="1.0" fill="#fff" opacity="0.33"/><rect x="786.8" y="411.3" width="0.7" height="0.7" fill="#fff" opacity="0.59"/><rect x="810.7" y="407.0" width="1.2" height="1.2" fill="#fff" opacity="0.25"/><rect x="788.3" y="411.4" width="1.1" height="1.1" fill="#fff" opacity="0.50"/><rect x="790.8" y="444.9" width="1.2" height="1.2" fill="#fff" opacity="0.39"/><rect x="783.3" y="440.7" width="1.1" height="1.1" fill="#fff" opacity="0.64"/><rect x="791.9" y="416.4" width="0.6" height="0.6" fill="#fff" opacity="0.52"/><rect x="788.9" y="429.8" width="1.1" height="1.1" fill="#fff" opacity="0.81"/><rect x="788.1" y="428.6" width="1.2" height="1.2" fill="#fff" opacity="0.86"/><rect x="801.3" y="415.5" width="1.0" height="1.0" fill="#fff" opacity="0.43"/><rect x="782.0" y="429.9" width="0.8" height="0.8" fill="#fff" opacity="0.23"/><rect x="800.5" y="430.6" width="0.9" height="0.9" fill="#fff" opacity="0.73"/><rect x="794.7" y="414.6" width="0.7" height="0.7" fill="#fff" opacity="0.47"/><rect x="791.8" y="441.7" width="1.1" height="1.1" fill="#fff" opacity="0.21"/><rect x="794.3" y="424.1" width="0.7" height="0.7" fill="#fff" opacity="0.38"/><rect x="802.1" y="411.9" width="1.3" height="1.3" fill="#fff" opacity="0.42"/><rect x="789.0" y="440.9" width="0.6" height="0.6" fill="#fff" opacity="0.51"/><rect x="783.3" y="434.3" width="0.7" height="0.7" fill="#fff" opacity="0.46"/><rect x="774.3" y="437.1" width="1.2" height="1.2" fill="#fff" opacity="0.41"/><rect x="798.0" y="441.6" width="0.7" height="0.7" fill="#fff" opacity="0.59"/><rect x="790.9" y="429.3" width="1.3" height="1.3" fill="#fff" opacity="0.25"/><rect x="775.9" y="452.0" width="1.3" height="1.3" fill="#fff" opacity="0.53"/><rect x="763.0" y="448.8" width="0.6" height="0.6" fill="#fff" opacity="0.36"/><rect x="789.9" y="426.5" width="0.8" height="0.8" fill="#fff" opacity="0.23"/><rect x="788.3" y="426.2" width="1.0" height="1.0" fill="#fff" opacity="0.21"/><rect x="774.2" y="438.6" width="0.7" height="0.7" fill="#fff" opacity="0.49"/><rect x="784.8" y="427.0" width="0.8" height="0.8" fill="#fff" opacity="0.68"/><rect x="810.8" y="411.2" width="0.6" height="0.6" fill="#fff" opacity="0.40"/><rect x="781.7" y="449.0" width="0.9" height="0.9" fill="#fff" opacity="0.18"/><rect x="780.5" y="431.2" width="1.2" height="1.2" fill="#fff" opacity="0.45"/><rect x="793.8" y="437.2" width="0.9" height="0.9" fill="#fff" opacity="0.53"/><rect x="781.4" y="424.7" width="1.3" height="1.3" fill="#fff" opacity="0.34"/><rect x="801.0" y="458.2" width="0.9" height="0.9" fill="#fff" opacity="0.33"/><rect x="786.6" y="429.8" width="1.3" height="1.3" fill="#fff" opacity="0.91"/><rect x="793.0" y="398.9" width="0.9" height="0.9" fill="#fff" opacity="0.38"/><rect x="799.9" y="428.9" width="0.9" height="0.9" fill="#fff" opacity="0.45"/><rect x="785.9" y="434.2" width="0.8" height="0.8" fill="#fff" opacity="0.47"/><rect x="788.2" y="431.8" width="0.6" height="0.6" fill="#fff" opacity="0.61"/><rect x="785.6" y="421.9" width="1.2" height="1.2" fill="#fff" opacity="0.83"/><rect x="790.8" y="451.7" width="0.8" height="0.8" fill="#fff" opacity="0.35"/><rect x="785.8" y="434.4" width="1.1" height="1.1" fill="#fff" opacity="0.70"/><rect x="803.2" y="435.5" width="1.1" height="1.1" fill="#fff" opacity="0.21"/><rect x="791.2" y="440.9" width="1.0" height="1.0" fill="#fff" opacity="0.57"/><rect x="792.6" y="432.0" width="1.2" height="1.2" fill="#fff" opacity="0.69"/><rect x="784.1" y="421.6" width="0.7" height="0.7" fill="#fff" opacity="0.59"/><rect x="787.1" y="437.1" width="1.2" height="1.2" fill="#fff" opacity="0.29"/><rect x="781.0" y="427.0" width="1.2" height="1.2" fill="#fff" opacity="0.76"/><rect x="778.9" y="418.4" width="1.1" height="1.1" fill="#fff" opacity="0.28"/><rect x="788.1" y="427.3" width="1.1" height="1.1" fill="#fff" opacity="0.40"/><rect x="798.6" y="443.1" width="0.7" height="0.7" fill="#fff" opacity="0.39"/><rect x="791.8" y="430.1" width="0.9" height="0.9" fill="#fff" opacity="0.30"/><rect x="789.1" y="440.7" width="0.6" height="0.6" fill="#fff" opacity="0.34"/><rect x="790.2" y="436.0" width="1.0" height="1.0" fill="#fff" opacity="0.59"/><rect x="787.7" y="430.8" width="0.7" height="0.7" fill="#fff" opacity="0.90"/><rect x="785.4" y="414.1" width="1.0" height="1.0" fill="#fff" opacity="0.70"/><rect x="786.0" y="429.0" width="0.9" height="0.9" fill="#fff" opacity="0.66"/><rect x="780.2" y="423.7" width="1.0" height="1.0" fill="#fff" opacity="0.69"/><rect x="784.1" y="418.4" width="1.0" height="1.0" fill="#fff" opacity="0.72"/><rect x="807.0" y="425.5" width="0.8" height="0.8" fill="#fff" opacity="0.52"/><rect x="778.7" y="425.3" width="1.3" height="1.3" fill="#fff" opacity="0.49"/><rect x="798.5" y="440.5" width="1.1" height="1.1" fill="#fff" opacity="0.77"/><rect x="810.8" y="404.5" width="1.0" height="1.0" fill="#fff" opacity="0.34"/><rect x="777.4" y="420.7" width="1.2" height="1.2" fill="#fff" opacity="0.49"/><rect x="775.0" y="423.3" width="0.9" height="0.9" fill="#fff" opacity="0.19"/><rect x="812.7" y="433.9" width="0.7" height="0.7" fill="#fff" opacity="0.25"/><rect x="786.9" y="419.3" width="1.0" height="1.0" fill="#fff" opacity="0.40"/><rect x="782.7" y="422.0" width="1.3" height="1.3" fill="#fff" opacity="0.67"/><rect x="798.5" y="430.4" width="0.8" height="0.8" fill="#fff" opacity="0.68"/><rect x="777.9" y="428.6" width="1.2" height="1.2" fill="#fff" opacity="0.42"/><rect x="784.6" y="426.5" width="1.0" height="1.0" fill="#fff" opacity="0.88"/><rect x="785.8" y="429.7" width="1.3" height="1.3" fill="#fff" opacity="0.65"/><rect x="777.0" y="430.6" width="1.1" height="1.1" fill="#fff" opacity="0.39"/><rect x="791.7" y="426.8" width="0.7" height="0.7" fill="#fff" opacity="0.51"/><rect x="785.0" y="433.5" width="0.7" height="0.7" fill="#fff" opacity="0.40"/><rect x="782.0" y="450.7" width="1.1" height="1.1" fill="#fff" opacity="0.34"/><rect x="782.5" y="413.3" width="0.7" height="0.7" fill="#fff" opacity="0.67"/><rect x="798.2" y="423.9" width="1.1" height="1.1" fill="#fff" opacity="0.84"/><rect x="797.0" y="435.2" width="1.0" height="1.0" fill="#fff" opacity="0.60"/><rect x="786.9" y="431.0" width="1.0" height="1.0" fill="#fff" opacity="0.32"/><rect x="805.7" y="444.0" width="0.8" height="0.8" fill="#fff" opacity="0.59"/><rect x="806.0" y="418.9" width="0.9" height="0.9" fill="#fff" opacity="0.25"/><rect x="794.8" y="418.3" width="1.1" height="1.1" fill="#fff" opacity="0.47"/><rect x="786.5" y="431.5" width="1.2" height="1.2" fill="#fff" opacity="0.42"/><rect x="789.0" y="431.4" width="0.7" height="0.7" fill="#fff" opacity="0.71"/><rect x="793.9" y="425.7" width="1.0" height="1.0" fill="#fff" opacity="0.69"/><rect x="787.8" y="430.2" width="1.2" height="1.2" fill="#fff" opacity="0.65"/><rect x="783.4" y="435.4" width="1.2" height="1.2" fill="#fff" opacity="0.20"/><rect x="805.2" y="445.2" width="1.0" height="1.0" fill="#fff" opacity="0.58"/><rect x="783.3" y="421.7" width="0.8" height="0.8" fill="#fff" opacity="0.74"/><rect x="776.0" y="428.1" width="1.1" height="1.1" fill="#fff" opacity="0.60"/><rect x="799.4" y="433.3" width="0.8" height="0.8" fill="#fff" opacity="0.37"/><rect x="785.1" y="430.0" width="0.9" height="0.9" fill="#fff" opacity="0.23"/><rect x="770.7" y="423.0" width="0.8" height="0.8" fill="#fff" opacity="0.56"/><rect x="776.7" y="435.4" width="0.7" height="0.7" fill="#fff" opacity="0.59"/><rect x="798.3" y="402.3" width="1.2" height="1.2" fill="#fff" opacity="0.38"/><rect x="799.6" y="417.2" width="0.9" height="0.9" fill="#fff" opacity="0.19"/><rect x="784.0" y="431.0" width="0.9" height="0.9" fill="#fff" opacity="0.82"/><rect x="788.5" y="430.1" width="1.1" height="1.1" fill="#fff" opacity="0.48"/><rect x="789.0" y="435.0" width="0.7" height="0.7" fill="#fff" opacity="0.90"/><rect x="795.2" y="410.7" width="1.1" height="1.1" fill="#fff" opacity="0.27"/><rect x="788.5" y="435.6" width="1.0" height="1.0" fill="#fff" opacity="0.22"/><rect x="795.4" y="413.1" width="0.8" height="0.8" fill="#fff" opacity="0.19"/><rect x="781.4" y="448.4" width="1.3" height="1.3" fill="#fff" opacity="0.59"/><rect x="790.0" y="428.8" width="1.0" height="1.0" fill="#fff" opacity="0.42"/><rect x="773.7" y="429.0" width="1.2" height="1.2" fill="#fff" opacity="0.33"/><rect x="786.4" y="428.1" width="0.8" height="0.8" fill="#fff" opacity="0.24"/><rect x="780.0" y="426.9" width="0.7" height="0.7" fill="#fff" opacity="0.87"/><rect x="787.8" y="437.5" width="1.2" height="1.2" fill="#fff" opacity="0.81"/><rect x="785.4" y="423.2" width="0.9" height="0.9" fill="#fff" opacity="0.79"/><rect x="784.8" y="432.7" width="0.8" height="0.8" fill="#fff" opacity="0.37"/><rect x="785.2" y="438.0" width="1.1" height="1.1" fill="#fff" opacity="0.36"/><rect x="797.2" y="439.3" width="0.7" height="0.7" fill="#fff" opacity="0.59"/><rect x="789.0" y="442.7" width="1.1" height="1.1" fill="#fff" opacity="0.72"/><rect x="787.1" y="428.9" width="1.1" height="1.1" fill="#fff" opacity="0.54"/><rect x="793.9" y="439.7" width="1.0" height="1.0" fill="#fff" opacity="0.37"/><rect x="792.2" y="429.4" width="1.3" height="1.3" fill="#fff" opacity="0.61"/><rect x="798.9" y="432.2" width="1.1" height="1.1" fill="#fff" opacity="0.57"/><rect x="771.4" y="434.2" width="0.7" height="0.7" fill="#fff" opacity="0.68"/><rect x="788.2" y="428.5" width="1.0" height="1.0" fill="#fff" opacity="0.77"/><rect x="792.2" y="436.6" width="0.7" height="0.7" fill="#fff" opacity="0.31"/><rect x="783.6" y="415.8" width="1.3" height="1.3" fill="#fff" opacity="0.60"/><rect x="786.5" y="440.3" width="0.7" height="0.7" fill="#fff" opacity="0.36"/><rect x="777.6" y="424.5" width="0.8" height="0.8" fill="#fff" opacity="0.53"/><rect x="794.9" y="418.1" width="0.6" height="0.6" fill="#fff" opacity="0.31"/><rect x="786.4" y="426.8" width="1.2" height="1.2" fill="#fff" opacity="0.85"/><rect x="787.6" y="423.6" width="0.7" height="0.7" fill="#fff" opacity="0.48"/><rect x="788.0" y="430.2" width="0.7" height="0.7" fill="#fff" opacity="0.27"/><rect x="789.0" y="419.6" width="1.3" height="1.3" fill="#fff" opacity="0.67"/><rect x="792.4" y="434.3" width="0.7" height="0.7" fill="#fff" opacity="0.62"/><rect x="783.2" y="436.6" width="0.8" height="0.8" fill="#fff" opacity="0.53"/><rect x="782.7" y="433.0" width="0.6" height="0.6" fill="#fff" opacity="0.82"/><rect x="779.6" y="435.6" width="0.9" height="0.9" fill="#fff" opacity="0.67"/><rect x="784.6" y="420.4" width="1.2" height="1.2" fill="#fff" opacity="0.66"/><rect x="790.2" y="417.1" width="0.9" height="0.9" fill="#fff" opacity="0.64"/><rect x="792.8" y="422.0" width="1.1" height="1.1" fill="#fff" opacity="0.62"/><rect x="799.2" y="412.2" width="0.6" height="0.6" fill="#fff" opacity="0.64"/><rect x="790.4" y="435.5" width="1.1" height="1.1" fill="#fff" opacity="0.87"/><rect x="789.2" y="429.0" width="0.6" height="0.6" fill="#fff" opacity="0.52"/><rect x="791.0" y="417.3" width="1.3" height="1.3" fill="#fff" opacity="0.51"/><rect x="787.7" y="433.2" width="1.1" height="1.1" fill="#fff" opacity="0.50"/><rect x="789.1" y="430.6" width="1.3" height="1.3" fill="#fff" opacity="0.24"/><rect x="787.5" y="430.0" width="1.3" height="1.3" fill="#fff" opacity="0.82"/><rect x="784.6" y="436.6" width="1.2" height="1.2" fill="#fff" opacity="0.66"/><rect x="786.8" y="427.4" width="0.7" height="0.7" fill="#fff" opacity="0.56"/><rect x="788.3" y="412.4" width="1.0" height="1.0" fill="#fff" opacity="0.66"/><rect x="787.4" y="430.0" width="0.8" height="0.8" fill="#fff" opacity="0.40"/><rect x="790.6" y="431.4" width="0.8" height="0.8" fill="#fff" opacity="0.72"/><rect x="782.4" y="430.7" width="1.0" height="1.0" fill="#fff" opacity="0.80"/><rect x="792.3" y="414.9" width="1.1" height="1.1" fill="#fff" opacity="0.61"/><rect x="776.1" y="438.2" width="1.3" height="1.3" fill="#fff" opacity="0.62"/><rect x="785.6" y="432.7" width="0.9" height="0.9" fill="#fff" opacity="0.84"/><rect x="786.7" y="431.5" width="1.2" height="1.2" fill="#fff" opacity="0.59"/><rect x="779.0" y="433.6" width="0.8" height="0.8" fill="#fff" opacity="0.70"/><rect x="792.9" y="448.4" width="0.9" height="0.9" fill="#fff" opacity="0.43"/><rect x="794.4" y="434.0" width="1.3" height="1.3" fill="#fff" opacity="0.84"/><rect x="785.5" y="426.2" width="0.8" height="0.8" fill="#fff" opacity="0.37"/><rect x="793.5" y="413.4" width="0.7" height="0.7" fill="#fff" opacity="0.73"/><rect x="779.4" y="426.3" width="1.3" height="1.3" fill="#fff" opacity="0.46"/><rect x="790.3" y="432.6" width="0.7" height="0.7" fill="#fff" opacity="0.59"/><rect x="801.3" y="415.3" width="0.9" height="0.9" fill="#fff" opacity="0.47"/><rect x="760.7" y="424.2" width="1.1" height="1.1" fill="#fff" opacity="0.16"/><rect x="772.6" y="434.2" width="1.2" height="1.2" fill="#fff" opacity="0.69"/><rect x="783.7" y="402.8" width="1.1" height="1.1" fill="#fff" opacity="0.14"/><rect x="787.1" y="427.2" width="0.6" height="0.6" fill="#fff" opacity="0.69"/><rect x="792.8" y="433.1" width="0.8" height="0.8" fill="#fff" opacity="0.24"/><rect x="781.7" y="429.8" width="0.7" height="0.7" fill="#fff" opacity="0.39"/><rect x="788.7" y="429.5" width="0.7" height="0.7" fill="#fff" opacity="0.21"/><rect x="789.3" y="427.3" width="1.0" height="1.0" fill="#fff" opacity="0.37"/><rect x="790.6" y="437.5" width="0.8" height="0.8" fill="#fff" opacity="0.75"/><rect x="787.3" y="430.5" width="0.6" height="0.6" fill="#fff" opacity="0.83"/><rect x="799.6" y="431.5" width="0.8" height="0.8" fill="#fff" opacity="0.76"/><rect x="788.6" y="433.1" width="1.2" height="1.2" fill="#fff" opacity="0.33"/><rect x="792.1" y="423.0" width="0.9" height="0.9" fill="#fff" opacity="0.26"/><rect x="784.3" y="413.6" width="1.1" height="1.1" fill="#fff" opacity="0.30"/><rect x="779.5" y="427.4" width="1.1" height="1.1" fill="#fff" opacity="0.40"/><rect x="788.9" y="439.2" width="0.8" height="0.8" fill="#fff" opacity="0.88"/><rect x="788.0" y="433.2" width="1.1" height="1.1" fill="#fff" opacity="0.30"/><rect x="786.9" y="444.7" width="0.7" height="0.7" fill="#fff" opacity="0.55"/><rect x="798.9" y="448.8" width="1.0" height="1.0" fill="#fff" opacity="0.32"/><rect x="790.6" y="428.9" width="1.2" height="1.2" fill="#fff" opacity="0.38"/><rect x="802.1" y="429.2" width="1.2" height="1.2" fill="#fff" opacity="0.79"/><rect x="786.9" y="435.1" width="1.0" height="1.0" fill="#fff" opacity="0.61"/><rect x="786.0" y="433.2" width="0.7" height="0.7" fill="#fff" opacity="0.34"/><rect x="793.4" y="435.2" width="0.7" height="0.7" fill="#fff" opacity="0.81"/><rect x="786.2" y="427.3" width="1.0" height="1.0" fill="#fff" opacity="0.64"/><rect x="785.2" y="417.4" width="1.2" height="1.2" fill="#fff" opacity="0.60"/><rect x="788.5" y="431.1" width="1.2" height="1.2" fill="#fff" opacity="0.86"/><rect x="786.8" y="425.7" width="0.6" height="0.6" fill="#fff" opacity="0.33"/><rect x="794.3" y="422.1" width="0.6" height="0.6" fill="#fff" opacity="0.73"/><rect x="783.0" y="428.7" width="0.8" height="0.8" fill="#fff" opacity="0.91"/><rect x="789.2" y="423.9" width="0.6" height="0.6" fill="#fff" opacity="0.75"/><rect x="789.5" y="422.4" width="1.0" height="1.0" fill="#fff" opacity="0.87"/><rect x="787.3" y="430.4" width="1.0" height="1.0" fill="#fff" opacity="0.20"/><rect x="792.7" y="436.7" width="1.2" height="1.2" fill="#fff" opacity="0.47"/><rect x="788.4" y="429.8" width="1.2" height="1.2" fill="#fff" opacity="0.66"/><rect x="793.7" y="438.7" width="1.2" height="1.2" fill="#fff" opacity="0.76"/><rect x="788.1" y="430.2" width="1.1" height="1.1" fill="#fff" opacity="0.55"/><rect x="788.1" y="429.9" width="0.9" height="0.9" fill="#fff" opacity="0.68"/><rect x="785.2" y="420.9" width="0.9" height="0.9" fill="#fff" opacity="0.53"/><rect x="779.8" y="436.5" width="1.1" height="1.1" fill="#fff" opacity="0.45"/><rect x="796.1" y="439.6" width="0.8" height="0.8" fill="#fff" opacity="0.56"/><rect x="791.1" y="437.2" width="1.0" height="1.0" fill="#fff" opacity="0.20"/><rect x="788.7" y="411.8" width="1.2" height="1.2" fill="#fff" opacity="0.60"/><rect x="781.4" y="448.5" width="1.0" height="1.0" fill="#fff" opacity="0.42"/><rect x="805.1" y="437.5" width="1.2" height="1.2" fill="#fff" opacity="0.49"/><rect x="778.3" y="426.7" width="0.8" height="0.8" fill="#fff" opacity="0.43"/><rect x="790.8" y="428.5" width="1.2" height="1.2" fill="#fff" opacity="0.90"/><rect x="802.0" y="414.4" width="0.6" height="0.6" fill="#fff" opacity="0.29"/><rect x="784.3" y="423.4" width="0.9" height="0.9" fill="#fff" opacity="0.82"/><rect x="786.1" y="421.2" width="0.7" height="0.7" fill="#fff" opacity="0.63"/><rect x="776.3" y="436.0" width="1.1" height="1.1" fill="#fff" opacity="0.48"/><rect x="785.2" y="424.2" width="1.1" height="1.1" fill="#fff" opacity="0.37"/><rect x="791.1" y="429.9" width="0.9" height="0.9" fill="#fff" opacity="0.47"/><rect x="795.9" y="417.5" width="1.0" height="1.0" fill="#fff" opacity="0.48"/><rect x="788.6" y="429.9" width="0.9" height="0.9" fill="#fff" opacity="0.95"/><rect x="786.9" y="430.2" width="1.2" height="1.2" fill="#fff" opacity="0.67"/><rect x="764.8" y="425.4" width="1.1" height="1.1" fill="#fff" opacity="0.30"/><rect x="778.9" y="418.9" width="0.9" height="0.9" fill="#fff" opacity="0.54"/><rect x="787.4" y="433.3" width="0.7" height="0.7" fill="#fff" opacity="0.57"/><rect x="778.6" y="421.5" width="1.2" height="1.2" fill="#fff" opacity="0.18"/><rect x="799.0" y="436.8" width="1.0" height="1.0" fill="#fff" opacity="0.71"/><rect x="782.3" y="428.5" width="1.1" height="1.1" fill="#fff" opacity="0.54"/><rect x="782.4" y="442.2" width="1.2" height="1.2" fill="#fff" opacity="0.33"/><rect x="787.4" y="430.9" width="0.6" height="0.6" fill="#fff" opacity="0.43"/><rect x="797.4" y="440.6" width="0.8" height="0.8" fill="#fff" opacity="0.40"/><rect x="776.7" y="448.0" width="1.0" height="1.0" fill="#fff" opacity="0.18"/><rect x="774.5" y="427.9" width="0.9" height="0.9" fill="#fff" opacity="0.26"/><rect x="792.9" y="436.4" width="0.6" height="0.6" fill="#fff" opacity="0.27"/><rect x="790.1" y="426.0" width="0.9" height="0.9" fill="#fff" opacity="0.27"/><rect x="805.0" y="430.4" width="1.1" height="1.1" fill="#fff" opacity="0.31"/><rect x="767.3" y="434.2" width="1.1" height="1.1" fill="#fff" opacity="0.27"/><rect x="785.0" y="429.7" width="1.1" height="1.1" fill="#fff" opacity="0.72"/><rect x="787.6" y="424.5" width="1.0" height="1.0" fill="#fff" opacity="0.75"/><rect x="780.5" y="431.9" width="0.7" height="0.7" fill="#fff" opacity="0.22"/><rect x="792.0" y="452.4" width="1.1" height="1.1" fill="#fff" opacity="0.53"/><rect x="790.6" y="430.1" width="0.8" height="0.8" fill="#fff" opacity="0.57"/><rect x="774.8" y="424.5" width="0.8" height="0.8" fill="#fff" opacity="0.63"/><rect x="789.1" y="429.8" width="0.9" height="0.9" fill="#fff" opacity="0.38"/><rect x="787.6" y="423.6" width="0.7" height="0.7" fill="#fff" opacity="0.79"/><rect x="789.1" y="429.9" width="1.0" height="1.0" fill="#fff" opacity="0.52"/><rect x="788.8" y="439.4" width="0.7" height="0.7" fill="#fff" opacity="0.77"/><rect x="781.3" y="427.7" width="0.9" height="0.9" fill="#fff" opacity="0.68"/><rect x="783.6" y="435.9" width="0.7" height="0.7" fill="#fff" opacity="0.58"/><rect x="788.9" y="418.6" width="1.1" height="1.1" fill="#fff" opacity="0.61"/><rect x="808.8" y="418.1" width="0.6" height="0.6" fill="#fff" opacity="0.53"/><rect x="800.9" y="427.7" width="1.3" height="1.3" fill="#fff" opacity="0.75"/><rect x="787.4" y="429.0" width="1.1" height="1.1" fill="#fff" opacity="0.50"/><rect x="788.3" y="428.4" width="1.1" height="1.1" fill="#fff" opacity="0.83"/><rect x="789.0" y="433.7" width="0.8" height="0.8" fill="#fff" opacity="0.51"/><rect x="780.7" y="433.3" width="1.2" height="1.2" fill="#fff" opacity="0.19"/><rect x="788.2" y="426.0" width="1.0" height="1.0" fill="#fff" opacity="0.62"/><rect x="802.7" y="436.8" width="0.7" height="0.7" fill="#fff" opacity="0.62"/><rect x="801.7" y="424.6" width="1.3" height="1.3" fill="#fff" opacity="0.70"/><rect x="789.7" y="451.5" width="0.7" height="0.7" fill="#fff" opacity="0.26"/><rect x="787.1" y="423.3" width="0.6" height="0.6" fill="#fff" opacity="0.45"/><rect x="781.5" y="429.9" width="1.1" height="1.1" fill="#fff" opacity="0.69"/><rect x="785.9" y="415.2" width="0.6" height="0.6" fill="#fff" opacity="0.23"/><rect x="781.7" y="416.5" width="0.6" height="0.6" fill="#fff" opacity="0.76"/><rect x="796.9" y="447.1" width="0.7" height="0.7" fill="#fff" opacity="0.23"/><rect x="798.4" y="428.6" width="1.0" height="1.0" fill="#fff" opacity="0.30"/><rect x="770.5" y="416.6" width="1.0" height="1.0" fill="#fff" opacity="0.13"/><rect x="770.7" y="447.7" width="0.7" height="0.7" fill="#fff" opacity="0.28"/><rect x="768.7" y="419.6" width="1.0" height="1.0" fill="#fff" opacity="0.61"/><rect x="800.8" y="451.6" width="1.3" height="1.3" fill="#fff" opacity="0.46"/><rect x="785.1" y="429.3" width="0.9" height="0.9" fill="#fff" opacity="0.35"/><rect x="795.8" y="416.9" width="0.9" height="0.9" fill="#fff" opacity="0.49"/><rect x="794.5" y="427.5" width="0.9" height="0.9" fill="#fff" opacity="0.23"/><rect x="786.3" y="430.3" width="1.2" height="1.2" fill="#fff" opacity="0.74"/><rect x="774.4" y="424.8" width="0.9" height="0.9" fill="#fff" opacity="0.33"/><rect x="786.3" y="409.5" width="1.0" height="1.0" fill="#fff" opacity="0.48"/><rect x="784.0" y="430.0" width="0.7" height="0.7" fill="#fff" opacity="0.85"/><rect x="787.7" y="430.1" width="1.0" height="1.0" fill="#fff" opacity="0.43"/><rect x="798.4" y="429.4" width="1.1" height="1.1" fill="#fff" opacity="0.84"/><rect x="798.8" y="427.8" width="0.7" height="0.7" fill="#fff" opacity="0.85"/><rect x="771.4" y="413.8" width="1.3" height="1.3" fill="#fff" opacity="0.18"/><rect x="795.9" y="428.1" width="0.7" height="0.7" fill="#fff" opacity="0.73"/><rect x="768.3" y="401.4" width="1.0" height="1.0" fill="#fff" opacity="0.28"/><rect x="781.2" y="430.7" width="0.8" height="0.8" fill="#fff" opacity="0.36"/><rect x="792.4" y="430.0" width="0.8" height="0.8" fill="#fff" opacity="0.27"/><rect x="807.1" y="414.2" width="1.0" height="1.0" fill="#fff" opacity="0.23"/><rect x="782.7" y="411.8" width="0.8" height="0.8" fill="#fff" opacity="0.15"/><rect x="788.0" y="416.0" width="1.0" height="1.0" fill="#fff" opacity="0.46"/><rect x="797.7" y="434.0" width="1.3" height="1.3" fill="#fff" opacity="0.76"/><rect x="793.0" y="423.8" width="0.6" height="0.6" fill="#fff" opacity="0.22"/><rect x="783.9" y="423.9" width="1.1" height="1.1" fill="#fff" opacity="0.54"/><rect x="777.6" y="432.3" width="0.9" height="0.9" fill="#fff" opacity="0.43"/><rect x="783.0" y="431.5" width="1.3" height="1.3" fill="#fff" opacity="0.28"/><rect x="801.4" y="437.5" width="1.2" height="1.2" fill="#fff" opacity="0.65"/><rect x="781.6" y="439.4" width="1.2" height="1.2" fill="#fff" opacity="0.48"/><rect x="771.5" y="416.6" width="0.9" height="0.9" fill="#fff" opacity="0.40"/><rect x="794.2" y="416.5" width="0.7" height="0.7" fill="#fff" opacity="0.72"/><rect x="806.9" y="447.8" width="1.1" height="1.1" fill="#fff" opacity="0.16"/><rect x="792.1" y="425.9" width="0.8" height="0.8" fill="#fff" opacity="0.72"/><rect x="793.3" y="427.8" width="0.9" height="0.9" fill="#fff" opacity="0.36"/><rect x="792.3" y="431.4" width="0.6" height="0.6" fill="#fff" opacity="0.43"/><rect x="790.4" y="427.0" width="1.2" height="1.2" fill="#fff" opacity="0.58"/><rect x="781.3" y="423.5" width="0.7" height="0.7" fill="#fff" opacity="0.71"/><rect x="800.3" y="412.1" width="0.9" height="0.9" fill="#fff" opacity="0.39"/><rect x="800.7" y="422.0" width="0.7" height="0.7" fill="#fff" opacity="0.77"/><rect x="791.6" y="430.8" width="1.3" height="1.3" fill="#fff" opacity="0.42"/><rect x="789.7" y="430.2" width="0.8" height="0.8" fill="#fff" opacity="0.54"/><rect x="803.1" y="428.1" width="1.1" height="1.1" fill="#fff" opacity="0.47"/><rect x="774.2" y="416.6" width="0.9" height="0.9" fill="#fff" opacity="0.23"/><rect x="787.7" y="430.1" width="1.0" height="1.0" fill="#fff" opacity="0.90"/><rect x="775.5" y="437.5" width="0.8" height="0.8" fill="#fff" opacity="0.37"/><rect x="788.7" y="430.4" width="1.2" height="1.2" fill="#fff" opacity="0.60"/><rect x="788.0" y="437.7" width="0.8" height="0.8" fill="#fff" opacity="0.58"/><rect x="790.0" y="430.5" width="1.0" height="1.0" fill="#fff" opacity="0.83"/><rect x="794.3" y="422.6" width="0.8" height="0.8" fill="#fff" opacity="0.80"/><rect x="777.5" y="437.9" width="0.8" height="0.8" fill="#fff" opacity="0.80"/><rect x="781.4" y="432.4" width="1.2" height="1.2" fill="#fff" opacity="0.77"/><rect x="789.2" y="434.3" width="1.0" height="1.0" fill="#fff" opacity="0.70"/><rect x="777.8" y="431.3" width="0.6" height="0.6" fill="#fff" opacity="0.19"/><rect x="781.7" y="435.8" width="1.0" height="1.0" fill="#fff" opacity="0.73"/><rect x="789.6" y="439.9" width="0.8" height="0.8" fill="#fff" opacity="0.34"/><rect x="781.1" y="417.0" width="0.8" height="0.8" fill="#fff" opacity="0.52"/><rect x="797.8" y="427.5" width="1.1" height="1.1" fill="#fff" opacity="0.63"/><rect x="789.3" y="430.0" width="1.1" height="1.1" fill="#fff" opacity="0.88"/><rect x="781.9" y="419.4" width="1.0" height="1.0" fill="#fff" opacity="0.21"/><rect x="796.1" y="427.1" width="0.8" height="0.8" fill="#fff" opacity="0.73"/><rect x="784.0" y="420.6" width="1.1" height="1.1" fill="#fff" opacity="0.24"/><rect x="782.1" y="439.2" width="1.1" height="1.1" fill="#fff" opacity="0.46"/><rect x="788.8" y="429.0" width="0.9" height="0.9" fill="#fff" opacity="0.81"/><rect x="788.7" y="429.1" width="1.0" height="1.0" fill="#fff" opacity="0.45"/><rect x="790.1" y="422.2" width="0.6" height="0.6" fill="#fff" opacity="0.88"/><rect x="787.9" y="427.4" width="0.7" height="0.7" fill="#fff" opacity="0.85"/><rect x="781.5" y="426.7" width="1.2" height="1.2" fill="#fff" opacity="0.34"/><rect x="789.1" y="439.2" width="1.2" height="1.2" fill="#fff" opacity="0.84"/><rect x="786.1" y="417.8" width="0.9" height="0.9" fill="#fff" opacity="0.76"/><rect x="788.9" y="448.6" width="1.2" height="1.2" fill="#fff" opacity="0.57"/><rect x="787.3" y="431.2" width="0.8" height="0.8" fill="#fff" opacity="0.33"/><rect x="783.0" y="425.0" width="1.2" height="1.2" fill="#fff" opacity="0.30"/><rect x="787.5" y="429.9" width="1.1" height="1.1" fill="#fff" opacity="0.57"/><rect x="801.5" y="424.1" width="0.9" height="0.9" fill="#fff" opacity="0.50"/><rect x="790.9" y="426.3" width="1.2" height="1.2" fill="#fff" opacity="0.90"/><rect x="779.8" y="437.2" width="0.8" height="0.8" fill="#fff" opacity="0.75"/><rect x="788.9" y="430.5" width="0.9" height="0.9" fill="#fff" opacity="0.79"/><rect x="781.5" y="428.4" width="1.0" height="1.0" fill="#fff" opacity="0.69"/><rect x="782.7" y="420.5" width="1.1" height="1.1" fill="#fff" opacity="0.24"/><rect x="768.4" y="434.6" width="1.3" height="1.3" fill="#fff" opacity="0.18"/><rect x="781.0" y="414.7" width="1.0" height="1.0" fill="#fff" opacity="0.39"/><rect x="790.7" y="433.1" width="0.7" height="0.7" fill="#fff" opacity="0.78"/><rect x="784.8" y="432.9" width="1.2" height="1.2" fill="#fff" opacity="0.29"/><rect x="784.6" y="427.1" width="1.1" height="1.1" fill="#fff" opacity="0.55"/><rect x="782.4" y="429.2" width="1.2" height="1.2" fill="#fff" opacity="0.23"/><rect x="787.7" y="429.4" width="0.9" height="0.9" fill="#fff" opacity="0.79"/><rect x="772.9" y="419.9" width="0.7" height="0.7" fill="#fff" opacity="0.66"/><rect x="782.6" y="436.7" width="1.2" height="1.2" fill="#fff" opacity="0.71"/><rect x="789.8" y="424.7" width="0.8" height="0.8" fill="#fff" opacity="0.33"/><rect x="788.0" y="429.1" width="0.6" height="0.6" fill="#fff" opacity="0.89"/><rect x="790.2" y="435.2" width="1.2" height="1.2" fill="#fff" opacity="0.81"/><rect x="805.1" y="428.6" width="1.1" height="1.1" fill="#fff" opacity="0.51"/><rect x="788.3" y="427.2" width="0.7" height="0.7" fill="#fff" opacity="0.77"/><rect x="794.4" y="428.2" width="1.2" height="1.2" fill="#fff" opacity="0.89"/><rect x="783.2" y="442.0" width="0.9" height="0.9" fill="#fff" opacity="0.39"/><rect x="773.9" y="406.2" width="0.9" height="0.9" fill="#fff" opacity="0.25"/><rect x="791.9" y="426.3" width="1.1" height="1.1" fill="#fff" opacity="0.88"/><rect x="788.5" y="413.7" width="0.9" height="0.9" fill="#fff" opacity="0.59"/><rect x="789.1" y="430.8" width="1.3" height="1.3" fill="#fff" opacity="0.65"/><rect x="781.6" y="434.4" width="0.7" height="0.7" fill="#fff" opacity="0.22"/><rect x="793.6" y="426.2" width="0.9" height="0.9" fill="#fff" opacity="0.78"/><rect x="788.9" y="442.0" width="1.2" height="1.2" fill="#fff" opacity="0.53"/><rect x="783.3" y="441.5" width="1.2" height="1.2" fill="#fff" opacity="0.22"/><rect x="781.9" y="432.0" width="1.0" height="1.0" fill="#fff" opacity="0.32"/><rect x="786.8" y="431.4" width="1.3" height="1.3" fill="#fff" opacity="0.30"/><rect x="797.5" y="426.4" width="1.0" height="1.0" fill="#fff" opacity="0.32"/><rect x="783.8" y="432.6" width="1.1" height="1.1" fill="#fff" opacity="0.23"/><rect x="801.2" y="413.2" width="0.7" height="0.7" fill="#fff" opacity="0.38"/><rect x="787.3" y="428.6" width="1.2" height="1.2" fill="#fff" opacity="0.84"/><rect x="794.7" y="433.4" width="0.9" height="0.9" fill="#fff" opacity="0.46"/><rect x="778.8" y="442.8" width="1.0" height="1.0" fill="#fff" opacity="0.37"/><rect x="798.1" y="432.6" width="0.8" height="0.8" fill="#fff" opacity="0.76"/><rect x="779.2" y="414.4" width="0.8" height="0.8" fill="#fff" opacity="0.68"/><rect x="792.4" y="423.9" width="1.0" height="1.0" fill="#fff" opacity="0.25"/><rect x="793.2" y="439.9" width="0.9" height="0.9" fill="#fff" opacity="0.22"/><rect x="788.8" y="428.4" width="0.8" height="0.8" fill="#fff" opacity="0.55"/><rect x="785.1" y="426.4" width="1.0" height="1.0" fill="#fff" opacity="0.51"/><rect x="789.8" y="407.2" width="1.0" height="1.0" fill="#fff" opacity="0.51"/><rect x="804.0" y="413.3" width="0.9" height="0.9" fill="#fff" opacity="0.37"/><rect x="786.7" y="422.5" width="0.9" height="0.9" fill="#fff" opacity="0.76"/><rect x="812.3" y="429.1" width="0.9" height="0.9" fill="#fff" opacity="0.27"/><rect x="780.0" y="453.7" width="0.7" height="0.7" fill="#fff" opacity="0.25"/><rect x="784.7" y="438.6" width="0.7" height="0.7" fill="#fff" opacity="0.79"/><rect x="791.8" y="425.3" width="1.3" height="1.3" fill="#fff" opacity="0.50"/><rect x="770.9" y="427.1" width="0.7" height="0.7" fill="#fff" opacity="0.56"/><rect x="785.8" y="433.7" width="0.8" height="0.8" fill="#fff" opacity="0.80"/><rect x="792.5" y="432.1" width="0.7" height="0.7" fill="#fff" opacity="0.90"/><rect x="795.7" y="416.1" width="1.0" height="1.0" fill="#fff" opacity="0.57"/><rect x="787.7" y="427.0" width="1.1" height="1.1" fill="#fff" opacity="0.30"/><rect x="802.4" y="449.3" width="0.8" height="0.8" fill="#fff" opacity="0.39"/><rect x="784.9" y="429.3" width="1.0" height="1.0" fill="#fff" opacity="0.79"/><rect x="781.7" y="422.3" width="1.3" height="1.3" fill="#fff" opacity="0.57"/><rect x="794.9" y="422.8" width="1.0" height="1.0" fill="#fff" opacity="0.31"/><rect x="780.5" y="450.1" width="0.6" height="0.6" fill="#fff" opacity="0.46"/><rect x="791.2" y="453.8" width="0.8" height="0.8" fill="#fff" opacity="0.49"/><rect x="788.2" y="431.7" width="1.0" height="1.0" fill="#fff" opacity="0.84"/><rect x="807.6" y="420.1" width="1.2" height="1.2" fill="#fff" opacity="0.35"/><rect x="788.8" y="427.1" width="0.7" height="0.7" fill="#fff" opacity="0.41"/><rect x="787.6" y="427.8" width="1.1" height="1.1" fill="#fff" opacity="0.42"/><rect x="786.8" y="434.5" width="1.0" height="1.0" fill="#fff" opacity="0.84"/><rect x="789.5" y="435.0" width="0.7" height="0.7" fill="#fff" opacity="0.27"/><rect x="794.9" y="417.8" width="0.8" height="0.8" fill="#fff" opacity="0.40"/><rect x="779.8" y="403.0" width="0.6" height="0.6" fill="#fff" opacity="0.17"/><rect x="782.2" y="431.2" width="0.8" height="0.8" fill="#fff" opacity="0.37"/><rect x="786.8" y="432.2" width="1.0" height="1.0" fill="#fff" opacity="0.44"/><rect x="782.3" y="422.4" width="1.3" height="1.3" fill="#fff" opacity="0.59"/><rect x="796.5" y="443.4" width="0.7" height="0.7" fill="#fff" opacity="0.74"/><rect x="767.9" y="422.7" width="0.7" height="0.7" fill="#fff" opacity="0.45"/><rect x="781.4" y="427.5" width="1.1" height="1.1" fill="#fff" opacity="0.53"/><rect x="769.7" y="412.1" width="0.7" height="0.7" fill="#fff" opacity="0.38"/><rect x="794.5" y="433.6" width="1.3" height="1.3" fill="#fff" opacity="0.81"/><rect x="791.5" y="428.0" width="1.1" height="1.1" fill="#fff" opacity="0.56"/><rect x="804.4" y="433.0" width="0.9" height="0.9" fill="#fff" opacity="0.43"/><rect x="785.4" y="418.7" width="0.8" height="0.8" fill="#fff" opacity="0.49"/><rect x="794.3" y="437.2" width="0.8" height="0.8" fill="#fff" opacity="0.64"/><rect x="777.1" y="418.8" width="1.1" height="1.1" fill="#fff" opacity="0.47"/><rect x="792.9" y="425.6" width="0.9" height="0.9" fill="#fff" opacity="0.71"/><rect x="793.6" y="447.2" width="1.3" height="1.3" fill="#fff" opacity="0.54"/><rect x="787.0" y="427.7" width="0.7" height="0.7" fill="#fff" opacity="0.76"/><rect x="786.5" y="425.1" width="0.7" height="0.7" fill="#fff" opacity="0.39"/><rect x="799.3" y="406.7" width="1.0" height="1.0" fill="#fff" opacity="0.33"/><rect x="763.8" y="432.7" width="0.7" height="0.7" fill="#fff" opacity="0.30"/><rect x="787.7" y="430.1" width="1.3" height="1.3" fill="#fff" opacity="0.41"/><rect x="790.9" y="431.0" width="0.7" height="0.7" fill="#fff" opacity="0.54"/><rect x="788.6" y="415.8" width="1.0" height="1.0" fill="#fff" opacity="0.49"/><rect x="781.1" y="426.5" width="1.1" height="1.1" fill="#fff" opacity="0.33"/><rect x="777.1" y="420.7" width="0.8" height="0.8" fill="#fff" opacity="0.65"/><rect x="788.9" y="420.5" width="1.0" height="1.0" fill="#fff" opacity="0.72"/><rect x="795.2" y="424.5" width="1.1" height="1.1" fill="#fff" opacity="0.56"/><rect x="787.9" y="429.4" width="1.2" height="1.2" fill="#fff" opacity="0.24"/><rect x="788.1" y="429.6" width="0.6" height="0.6" fill="#fff" opacity="0.82"/><rect x="797.0" y="427.3" width="0.6" height="0.6" fill="#fff" opacity="0.70"/><rect x="794.5" y="432.2" width="0.6" height="0.6" fill="#fff" opacity="0.59"/><rect x="802.0" y="418.2" width="1.2" height="1.2" fill="#fff" opacity="0.16"/><rect x="793.9" y="457.5" width="1.2" height="1.2" fill="#fff" opacity="0.27"/><rect x="782.4" y="441.3" width="0.9" height="0.9" fill="#fff" opacity="0.59"/><rect x="775.8" y="424.0" width="0.9" height="0.9" fill="#fff" opacity="0.40"/><rect x="804.9" y="431.2" width="0.9" height="0.9" fill="#fff" opacity="0.39"/><rect x="787.8" y="425.4" width="0.6" height="0.6" fill="#fff" opacity="0.40"/><rect x="813.2" y="434.2" width="0.7" height="0.7" fill="#fff" opacity="0.50"/><rect x="787.2" y="431.6" width="0.7" height="0.7" fill="#fff" opacity="0.23"/><rect x="771.0" y="420.5" width="0.7" height="0.7" fill="#fff" opacity="0.38"/><rect x="784.3" y="420.3" width="0.7" height="0.7" fill="#fff" opacity="0.32"/><rect x="784.9" y="432.2" width="1.0" height="1.0" fill="#fff" opacity="0.93"/><rect x="795.1" y="436.2" width="0.8" height="0.8" fill="#fff" opacity="0.41"/><circle cx="795" cy="408.5" r="3" fill="url(#spot)" opacity="1"/><circle cx="809" cy="422.6" r="3" fill="url(#spot)" opacity="1"/><circle cx="807" cy="440.7" r="2.5" fill="url(#spot)" opacity="0.9"/><circle cx="789" cy="444.7" r="3" fill="url(#spot)" opacity="1"/><circle cx="774.9" cy="431.3" r="3" fill="url(#spot)" opacity="1"/><circle cx="777" cy="412.5" r="2" fill="url(#spot)" opacity="0.7"/><circle cx="772.2" cy="448.7" r="2" fill="url(#spot)" opacity="0.7"/><circle cx="787" cy="463.5" r="2.2" fill="url(#spot)" opacity="0.8"/><circle cx="811.8" cy="403.8" r="1.8" fill="url(#spot)" opacity="0.6"/><circle cx="758" cy="434.7" r="1.8" fill="url(#spot)" opacity="0.5"/><circle cx="825.8" cy="418.6" r="1.5" fill="url(#spot)" opacity="0.4"/><g opacity="0.8"><line x1="782" y1="424" x2="794" y2="436" stroke="#fff" stroke-width="1"/><line x1="782" y1="436" x2="794" y2="424" stroke="#fff" stroke-width="1"/></g>
</g></g>
<rect x="742.8" y="381.3" width="98.9" height="90" fill="none" stroke="#c23c3c" stroke-width="2"/>
<rect x="742.0" y="380.5" width="100.5" height="91.6" fill="none" stroke="#e27a7a" stroke-width="0.5" opacity="0.8"/>
<circle cx="795.2" cy="408.3" r="3.9" fill="none" stroke="#e88cc4" stroke-width="1.9"/>
<circle cx="795.2" cy="408.3" r="1.1" fill="#fff" opacity="0.9"/>
<circle cx="809" cy="423" r="3.9" fill="none" stroke="#d22ed2" stroke-width="1.9"/>
<circle cx="809" cy="423" r="1.1" fill="#fff" opacity="0.9"/>
<circle cx="807.1" cy="440.6" r="3.9" fill="none" stroke="#33c6d2" stroke-width="1.9"/>
<circle cx="807.1" cy="440.6" r="1.1" fill="#fff" opacity="0.9"/>
<text x="774.8 779.6 786.8 793.9 801.1" y="398" font-family="'Liberation Serif', 'Times New Roman', serif" font-weight="bold" font-size="14" fill="#e88cc4">(111)</text>
<text x="805.9" y="401.1" font-family="'Liberation Serif', 'Times New Roman', serif" font-weight="bold" font-size="10.1" fill="#e88cc4">o</text>
<text x="805.9 810.5 817.4 824.3 831.2" y="413.5" font-family="'Liberation Serif', 'Times New Roman', serif" font-weight="bold" font-size="14" fill="#d22ed2">(111)</text>
<text x="835.8" y="416.6" font-family="'Liberation Serif', 'Times New Roman', serif" font-weight="bold" font-size="10.1" fill="#d22ed2">o</text>
<line x1="818.5" x2="823.3" y1="401.5" y2="401.5" stroke="#d22ed2" stroke-width="1.19"/>
<text x="800.9 805.9 813.3 820.6 828.0" y="458.7" font-family="'Liberation Serif', 'Times New Roman', serif" font-weight="bold" font-size="14" fill="#33c6d2">(020)</text>
<text x="833.0" y="461.8" font-family="'Liberation Serif', 'Times New Roman', serif" font-weight="bold" font-size="10.1" fill="#33c6d2">o</text>
<line x1="814.4" x2="819.1" y1="446.7" y2="446.7" stroke="#33c6d2" stroke-width="1.19"/>
<text x="744.7" y="401.5" font-family="'Liberation Serif', 'Times New Roman', serif" font-weight="bold" font-size="21.5" fill="#ffffff" text-anchor="start">(f)</text>
<g clip-path="url(#csj)"><g>
<rect x="320.8" y="656.7" width="106.2" height="94.8" fill="#000"/>
<rect x="322.8" y="658.7" width="102.2" height="90.8" fill="#030303"/><ellipse cx="376" cy="703" rx="29.900000000000002" ry="29.900000000000002" fill="url(#glow)" opacity="1.0"/><rect x="365.7" y="698.0" width="0.8" height="0.8" fill="#fff" opacity="0.43"/><rect x="384.1" y="701.6" width="1.1" height="1.1" fill="#fff" opacity="0.87"/><rect x="350.7" y="709.5" width="1.0" height="1.0" fill="#fff" opacity="0.23"/><rect x="390.3" y="694.3" width="1.0" height="1.0" fill="#fff" opacity="0.39"/><rect x="377.6" y="705.3" width="0.8" height="0.8" fill="#fff" opacity="0.23"/><rect x="389.4" y="693.9" width="0.9" height="0.9" fill="#fff" opacity="0.16"/><rect x="382.7" y="701.4" width="0.6" height="0.6" fill="#fff" opacity="0.31"/><rect x="372.8" y="709.1" width="1.0" height="1.0" fill="#fff" opacity="0.45"/><rect x="386.6" y="697.6" width="1.0" height="1.0" fill="#fff" opacity="0.61"/><rect x="356.0" y="712.3" width="1.1" height="1.1" fill="#fff" opacity="0.27"/><rect x="374.9" y="697.8" width="0.7" height="0.7" fill="#fff" opacity="0.83"/><rect x="374.6" y="713.2" width="0.8" height="0.8" fill="#fff" opacity="0.60"/><rect x="380.2" y="701.4" width="1.3" height="1.3" fill="#fff" opacity="0.45"/><rect x="367.5" y="703.3" width="1.2" height="1.2" fill="#fff" opacity="0.46"/><rect x="378.1" y="697.6" width="0.9" height="0.9" fill="#fff" opacity="0.40"/><rect x="375.7" y="703.3" width="0.7" height="0.7" fill="#fff" opacity="0.76"/><rect x="382.4" y="708.5" width="1.2" height="1.2" fill="#fff" opacity="0.79"/><rect x="380.7" y="700.0" width="1.2" height="1.2" fill="#fff" opacity="0.20"/><rect x="376.5" y="703.1" width="0.6" height="0.6" fill="#fff" opacity="0.30"/><rect x="376.3" y="705.9" width="1.1" height="1.1" fill="#fff" opacity="0.60"/><rect x="371.1" y="703.0" width="1.2" height="1.2" fill="#fff" opacity="0.67"/><rect x="368.2" y="722.7" width="1.0" height="1.0" fill="#fff" opacity="0.56"/><rect x="384.2" y="693.2" width="1.0" height="1.0" fill="#fff" opacity="0.73"/><rect x="380.1" y="701.6" width="0.7" height="0.7" fill="#fff" opacity="0.81"/><rect x="374.0" y="707.2" width="1.1" height="1.1" fill="#fff" opacity="0.43"/><rect x="379.4" y="702.7" width="0.8" height="0.8" fill="#fff" opacity="0.71"/><rect x="379.8" y="709.5" width="0.8" height="0.8" fill="#fff" opacity="0.25"/><rect x="372.2" y="689.7" width="0.9" height="0.9" fill="#fff" opacity="0.33"/><rect x="371.3" y="715.8" width="0.7" height="0.7" fill="#fff" opacity="0.26"/><rect x="376.2" y="704.6" width="1.0" height="1.0" fill="#fff" opacity="0.82"/><rect x="371.4" y="709.7" width="0.9" height="0.9" fill="#fff" opacity="0.53"/><rect x="376.7" y="705.3" width="0.8" height="0.8" fill="#fff" opacity="0.39"/><rect x="389.0" y="719.4" width="0.9" height="0.9" fill="#fff" opacity="0.33"/><rect x="388.7" y="720.3" width="1.0" height="1.0" fill="#fff" opacity="0.49"/><rect x="402.3" y="689.2" width="0.7" height="0.7" fill="#fff" opacity="0.11"/><rect x="376.0" y="703.9" width="0.9" height="0.9" fill="#fff" opacity="0.45"/><rect x="375.1" y="703.3" width="1.1" height="1.1" fill="#fff" opacity="0.30"/><rect x="369.9" y="717.8" width="0.8" height="0.8" fill="#fff" opacity="0.23"/><rect x="370.7" y="711.3" width="1.0" height="1.0" fill="#fff" opacity="0.86"/><rect x="385.9" y="700.9" width="0.6" height="0.6" fill="#fff" opacity="0.23"/><rect x="377.1" y="710.6" width="0.7" height="0.7" fill="#fff" opacity="0.55"/><rect x="376.9" y="697.2" width="0.9" height="0.9" fill="#fff" opacity="0.53"/><rect x="395.7" y="689.3" width="1.0" height="1.0" fill="#fff" opacity="0.15"/><rect x="370.8" y="693.6" width="1.2" height="1.2" fill="#fff" opacity="0.62"/><rect x="377.2" y="703.7" width="0.7" height="0.7" fill="#fff" opacity="0.48"/><rect x="380.3" y="702.5" width="0.7" height="0.7" fill="#fff" opacity="0.42"/><rect x="376.7" y="709.2" width="0.6" height="0.6" fill="#fff" opacity="0.33"/><rect x="393.1" y="684.0" width="0.9" height="0.9" fill="#fff" opacity="0.34"/><rect x="372.2" y="707.0" width="0.9" height="0.9" fill="#fff" opacity="0.22"/><rect x="373.6" y="690.0" width="1.2" height="1.2" fill="#fff" opacity="0.48"/><rect x="374.0" y="698.3" width="0.8" height="0.8" fill="#fff" opacity="0.67"/><rect x="371.5" y="703.6" width="1.1" height="1.1" fill="#fff" opacity="0.41"/><rect x="377.4" y="705.5" width="0.7" height="0.7" fill="#fff" opacity="0.53"/><rect x="376.1" y="709.1" width="0.8" height="0.8" fill="#fff" opacity="0.77"/><rect x="388.1" y="714.5" width="0.6" height="0.6" fill="#fff" opacity="0.54"/><rect x="374.7" y="698.0" width="0.6" height="0.6" fill="#fff" opacity="0.82"/><rect x="373.6" y="716.9" width="0.9" height="0.9" fill="#fff" opacity="0.25"/><rect x="373.8" y="708.9" width="0.8" height="0.8" fill="#fff" opacity="0.35"/><rect x="382.0" y="699.7" width="1.0" height="1.0" fill="#fff" opacity="0.60"/><rect x="375.2" y="704.8" width="0.6" height="0.6" fill="#fff" opacity="0.68"/><rect x="376.6" y="706.4" width="1.1" height="1.1" fill="#fff" opacity="0.76"/><rect x="375.4" y="700.2" width="1.2" height="1.2" fill="#fff" opacity="0.77"/><rect x="367.6" y="699.4" width="0.7" height="0.7" fill="#fff" opacity="0.79"/><rect x="376.0" y="703.5" width="0.8" height="0.8" fill="#fff" opacity="0.47"/><rect x="374.3" y="712.9" width="0.7" height="0.7" fill="#fff" opacity="0.25"/><rect x="373.8" y="707.6" width="0.6" height="0.6" fill="#fff" opacity="0.89"/><rect x="394.0" y="688.6" width="1.3" height="1.3" fill="#fff" opacity="0.47"/><rect x="378.9" y="703.3" width="1.3" height="1.3" fill="#fff" opacity="0.25"/><rect x="366.1" y="704.0" width="0.7" height="0.7" fill="#fff" opacity="0.29"/><rect x="372.3" y="683.6" width="0.7" height="0.7" fill="#fff" opacity="0.35"/><rect x="377.9" y="700.3" width="0.8" height="0.8" fill="#fff" opacity="0.27"/><rect x="365.3" y="711.4" width="0.9" height="0.9" fill="#fff" opacity="0.31"/><rect x="382.0" y="700.8" width="1.3" height="1.3" fill="#fff" opacity="0.34"/><rect x="377.1" y="700.5" width="1.1" height="1.1" fill="#fff" opacity="0.84"/><rect x="375.4" y="703.6" width="1.1" height="1.1" fill="#fff" opacity="0.38"/><rect x="372.2" y="703.0" width="0.6" height="0.6" fill="#fff" opacity="0.36"/><rect x="360.4" y="695.1" width="1.1" height="1.1" fill="#fff" opacity="0.62"/><rect x="375.2" y="700.2" width="1.1" height="1.1" fill="#fff" opacity="0.47"/><rect x="364.1" y="712.1" width="1.0" height="1.0" fill="#fff" opacity="0.36"/><rect x="363.5" y="693.1" width="1.3" height="1.3" fill="#fff" opacity="0.59"/><rect x="383.1" y="699.6" width="1.1" height="1.1" fill="#fff" opacity="0.37"/><rect x="382.4" y="724.9" width="0.6" height="0.6" fill="#fff" opacity="0.19"/><rect x="369.1" y="698.5" width="0.7" height="0.7" fill="#fff" opacity="0.63"/><rect x="381.5" y="688.3" width="1.0" height="1.0" fill="#fff" opacity="0.37"/><rect x="375.6" y="695.3" width="1.2" height="1.2" fill="#fff" opacity="0.80"/><rect x="381.0" y="687.3" width="0.9" height="0.9" fill="#fff" opacity="0.52"/><rect x="396.0" y="699.3" width="1.1" height="1.1" fill="#fff" opacity="0.22"/><rect x="373.7" y="698.6" width="1.0" height="1.0" fill="#fff" opacity="0.21"/><rect x="358.1" y="694.9" width="0.9" height="0.9" fill="#fff" opacity="0.20"/><rect x="379.2" y="693.4" width="1.1" height="1.1" fill="#fff" opacity="0.52"/><rect x="379.0" y="702.8" width="0.7" height="0.7" fill="#fff" opacity="0.36"/><rect x="378.2" y="694.2" width="0.9" height="0.9" fill="#fff" opacity="0.43"/><rect x="372.5" y="700.3" width="1.2" height="1.2" fill="#fff" opacity="0.75"/><rect x="372.2" y="703.2" width="0.7" height="0.7" fill="#fff" opacity="0.86"/><rect x="371.3" y="697.5" width="0.9" height="0.9" fill="#fff" opacity="0.33"/><rect x="391.7" y="697.6" width="0.8" height="0.8" fill="#fff" opacity="0.28"/><rect x="366.6" y="699.4" width="0.9" height="0.9" fill="#fff" opacity="0.40"/><rect x="384.0" y="696.0" width="0.7" height="0.7" fill="#fff" opacity="0.76"/><rect x="369.8" y="705.2" width="0.7" height="0.7" fill="#fff" opacity="0.72"/><rect x="386.4" y="694.3" width="1.3" height="1.3" fill="#fff" opacity="0.75"/><rect x="364.9" y="681.3" width="0.9" height="0.9" fill="#fff" opacity="0.33"/><rect x="360.8" y="708.6" width="0.8" height="0.8" fill="#fff" opacity="0.60"/><rect x="375.6" y="692.4" width="0.9" height="0.9" fill="#fff" opacity="0.57"/><rect x="385.1" y="701.1" width="0.7" height="0.7" fill="#fff" opacity="0.26"/><rect x="366.2" y="699.4" width="1.1" height="1.1" fill="#fff" opacity="0.33"/><rect x="372.3" y="717.3" width="1.0" height="1.0" fill="#fff" opacity="0.61"/><rect x="386.0" y="689.6" width="1.2" height="1.2" fill="#fff" opacity="0.47"/><rect x="384.8" y="702.7" width="0.8" height="0.8" fill="#fff" opacity="0.76"/><rect x="378.9" y="700.8" width="0.8" height="0.8" fill="#fff" opacity="0.52"/><rect x="357.7" y="694.2" width="0.7" height="0.7" fill="#fff" opacity="0.38"/><rect x="378.5" y="703.6" width="0.6" height="0.6" fill="#fff" opacity="0.38"/><rect x="388.8" y="703.6" width="1.2" height="1.2" fill="#fff" opacity="0.80"/><rect x="373.8" y="692.6" width="0.7" height="0.7" fill="#fff" opacity="0.54"/><rect x="372.0" y="702.3" width="1.2" height="1.2" fill="#fff" opacity="0.78"/><rect x="371.5" y="698.4" width="1.2" height="1.2" fill="#fff" opacity="0.38"/><rect x="374.4" y="710.5" width="1.2" height="1.2" fill="#fff" opacity="0.20"/><rect x="366.8" y="708.9" width="0.9" height="0.9" fill="#fff" opacity="0.51"/><rect x="362.6" y="713.8" width="0.8" height="0.8" fill="#fff" opacity="0.70"/><rect x="360.5" y="697.5" width="1.2" height="1.2" fill="#fff" opacity="0.50"/><rect x="374.0" y="714.2" width="1.0" height="1.0" fill="#fff" opacity="0.49"/><rect x="381.6" y="727.5" width="0.9" height="0.9" fill="#fff" opacity="0.26"/><rect x="386.1" y="713.8" width="1.0" height="1.0" fill="#fff" opacity="0.47"/><rect x="376.2" y="700.5" width="1.2" height="1.2" fill="#fff" opacity="0.70"/><rect x="373.1" y="703.7" width="1.0" height="1.0" fill="#fff" opacity="0.75"/><rect x="380.6" y="697.4" width="1.2" height="1.2" fill="#fff" opacity="0.76"/><rect x="374.5" y="694.9" width="0.6" height="0.6" fill="#fff" opacity="0.59"/><rect x="380.5" y="705.9" width="0.8" height="0.8" fill="#fff" opacity="0.42"/><rect x="376.2" y="698.5" width="1.1" height="1.1" fill="#fff" opacity="0.59"/><rect x="384.4" y="706.8" width="1.1" height="1.1" fill="#fff" opacity="0.31"/><rect x="375.2" y="706.3" width="1.0" height="1.0" fill="#fff" opacity="0.54"/><rect x="378.2" y="701.8" width="1.2" height="1.2" fill="#fff" opacity="0.54"/><rect x="374.4" y="698.1" width="1.2" height="1.2" fill="#fff" opacity="0.84"/><rect x="384.9" y="699.6" width="1.2" height="1.2" fill="#fff" opacity="0.54"/><rect x="379.0" y="711.0" width="1.1" height="1.1" fill="#fff" opacity="0.46"/><rect x="377.8" y="708.5" width="0.8" height="0.8" fill="#fff" opacity="0.82"/><rect x="376.3" y="701.3" width="0.8" height="0.8" fill="#fff" opacity="0.88"/><rect x="378.7" y="705.7" width="0.6" height="0.6" fill="#fff" opacity="0.46"/><rect x="378.0" y="698.1" width="1.2" height="1.2" fill="#fff" opacity="0.56"/><rect x="384.2" y="702.8" width="1.2" height="1.2" fill="#fff" opacity="0.77"/><rect x="372.1" y="717.0" width="1.1" height="1.1" fill="#fff" opacity="0.70"/><rect x="377.1" y="702.3" width="1.1" height="1.1" fill="#fff" opacity="0.46"/><rect x="363.0" y="713.5" width="1.0" height="1.0" fill="#fff" opacity="0.46"/><rect x="379.4" y="695.3" width="0.8" height="0.8" fill="#fff" opacity="0.32"/><rect x="393.4" y="695.7" width="1.2" height="1.2" fill="#fff" opacity="0.40"/><rect x="358.1" y="716.5" width="1.3" height="1.3" fill="#fff" opacity="0.46"/><rect x="375.3" y="704.1" width="0.7" height="0.7" fill="#fff" opacity="0.52"/><rect x="375.2" y="714.0" width="0.8" height="0.8" fill="#fff" opacity="0.40"/><rect x="376.6" y="703.3" width="1.1" height="1.1" fill="#fff" opacity="0.45"/><rect x="380.6" y="706.0" width="0.9" height="0.9" fill="#fff" opacity="0.47"/><rect x="376.3" y="702.8" width="0.7" height="0.7" fill="#fff" opacity="0.32"/><rect x="352.2" y="719.3" width="0.8" height="0.8" fill="#fff" opacity="0.14"/><rect x="375.3" y="704.3" width="1.3" height="1.3" fill="#fff" opacity="0.38"/><rect x="376.0" y="698.5" width="1.0" height="1.0" fill="#fff" opacity="0.52"/><rect x="369.5" y="696.2" width="0.9" height="0.9" fill="#fff" opacity="0.67"/><rect x="376.2" y="710.9" width="0.9" height="0.9" fill="#fff" opacity="0.87"/><rect x="378.6" y="702.6" width="1.2" height="1.2" fill="#fff" opacity="0.22"/><rect x="367.6" y="712.4" width="0.8" height="0.8" fill="#fff" opacity="0.62"/><rect x="369.9" y="718.4" width="0.9" height="0.9" fill="#fff" opacity="0.28"/><rect x="373.8" y="689.2" width="0.8" height="0.8" fill="#fff" opacity="0.37"/><rect x="378.4" y="704.4" width="0.8" height="0.8" fill="#fff" opacity="0.76"/><rect x="375.9" y="716.7" width="1.0" height="1.0" fill="#fff" opacity="0.17"/><rect x="372.1" y="696.3" width="0.8" height="0.8" fill="#fff" opacity="0.52"/><rect x="371.3" y="706.8" width="1.2" height="1.2" fill="#fff" opacity="0.88"/><rect x="373.8" y="717.4" width="0.8" height="0.8" fill="#fff" opacity="0.43"/><rect x="375.7" y="703.5" width="1.0" height="1.0" fill="#fff" opacity="0.50"/><rect x="376.7" y="704.7" width="0.6" height="0.6" fill="#fff" opacity="0.23"/><rect x="353.7" y="702.3" width="1.1" height="1.1" fill="#fff" opacity="0.14"/><rect x="394.7" y="705.6" width="1.0" height="1.0" fill="#fff" opacity="0.60"/><rect x="381.5" y="702.1" width="1.1" height="1.1" fill="#fff" opacity="0.35"/><rect x="363.7" y="692.6" width="1.0" height="1.0" fill="#fff" opacity="0.51"/><rect x="375.3" y="704.5" width="0.9" height="0.9" fill="#fff" opacity="0.47"/><rect x="374.3" y="702.8" width="1.2" height="1.2" fill="#fff" opacity="0.39"/><rect x="377.9" y="701.3" width="0.6" height="0.6" fill="#fff" opacity="0.51"/><rect x="381.7" y="696.9" width="0.8" height="0.8" fill="#fff" opacity="0.40"/><rect x="379.3" y="711.0" width="1.1" height="1.1" fill="#fff" opacity="0.65"/><rect x="378.0" y="704.7" width="0.8" height="0.8" fill="#fff" opacity="0.64"/><rect x="393.0" y="697.7" width="0.8" height="0.8" fill="#fff" opacity="0.38"/><rect x="384.2" y="694.1" width="1.0" height="1.0" fill="#fff" opacity="0.78"/><rect x="366.2" y="715.1" width="0.8" height="0.8" fill="#fff" opacity="0.54"/><rect x="380.7" y="702.6" width="1.1" height="1.1" fill="#fff" opacity="0.68"/><rect x="386.0" y="718.7" width="1.3" height="1.3" fill="#fff" opacity="0.46"/><rect x="378.4" y="699.8" width="0.8" height="0.8" fill="#fff" opacity="0.31"/><rect x="376.8" y="696.0" width="0.7" height="0.7" fill="#fff" opacity="0.72"/><rect x="363.3" y="690.9" width="1.2" height="1.2" fill="#fff" opacity="0.42"/><rect x="375.1" y="702.1" width="1.0" height="1.0" fill="#fff" opacity="0.91"/><rect x="374.5" y="702.5" width="1.0" height="1.0" fill="#fff" opacity="0.40"/><rect x="391.3" y="708.2" width="1.3" height="1.3" fill="#fff" opacity="0.62"/><rect x="377.7" y="704.0" width="0.7" height="0.7" fill="#fff" opacity="0.93"/><rect x="370.6" y="723.4" width="1.2" height="1.2" fill="#fff" opacity="0.37"/><rect x="374.8" y="703.6" width="0.6" height="0.6" fill="#fff" opacity="0.94"/><rect x="377.9" y="700.5" width="1.1" height="1.1" fill="#fff" opacity="0.55"/><rect x="363.6" y="715.1" width="1.3" height="1.3" fill="#fff" opacity="0.15"/><rect x="378.5" y="700.1" width="0.8" height="0.8" fill="#fff" opacity="0.57"/><rect x="389.3" y="702.3" width="0.6" height="0.6" fill="#fff" opacity="0.41"/><rect x="357.8" y="694.6" width="0.9" height="0.9" fill="#fff" opacity="0.57"/><rect x="365.2" y="701.8" width="1.1" height="1.1" fill="#fff" opacity="0.43"/><rect x="370.4" y="700.7" width="0.7" height="0.7" fill="#fff" opacity="0.61"/><rect x="376.0" y="703.2" width="0.7" height="0.7" fill="#fff" opacity="0.44"/><rect x="381.1" y="697.7" width="0.7" height="0.7" fill="#fff" opacity="0.82"/><rect x="380.2" y="704.5" width="1.3" height="1.3" fill="#fff" opacity="0.74"/><rect x="377.2" y="691.0" width="1.3" height="1.3" fill="#fff" opacity="0.71"/><rect x="369.9" y="710.2" width="1.1" height="1.1" fill="#fff" opacity="0.39"/><rect x="382.1" y="712.7" width="1.2" height="1.2" fill="#fff" opacity="0.67"/><rect x="367.9" y="732.6" width="1.0" height="1.0" fill="#fff" opacity="0.11"/><rect x="391.6" y="681.4" width="1.1" height="1.1" fill="#fff" opacity="0.48"/><rect x="373.6" y="710.9" width="0.8" height="0.8" fill="#fff" opacity="0.85"/><rect x="374.1" y="704.9" width="0.9" height="0.9" fill="#fff" opacity="0.89"/><rect x="385.2" y="708.6" width="1.2" height="1.2" fill="#fff" opacity="0.20"/><rect x="384.9" y="706.1" width="0.8" height="0.8" fill="#fff" opacity="0.68"/><rect x="376.0" y="702.8" width="0.6" height="0.6" fill="#fff" opacity="0.61"/><rect x="375.8" y="702.4" width="0.8" height="0.8" fill="#fff" opacity="0.60"/><rect x="359.8" y="695.7" width="0.8" height="0.8" fill="#fff" opacity="0.16"/><rect x="375.0" y="697.4" width="1.1" height="1.1" fill="#fff" opacity="0.82"/><rect x="376.6" y="709.3" width="0.9" height="0.9" fill="#fff" opacity="0.61"/><rect x="372.5" y="693.2" width="1.0" height="1.0" fill="#fff" opacity="0.35"/><rect x="385.2" y="701.1" width="1.1" height="1.1" fill="#fff" opacity="0.70"/><rect x="375.9" y="703.0" width="1.3" height="1.3" fill="#fff" opacity="0.84"/><rect x="374.8" y="706.8" width="1.2" height="1.2" fill="#fff" opacity="0.93"/><rect x="371.1" y="700.9" width="0.7" height="0.7" fill="#fff" opacity="0.48"/><rect x="365.7" y="715.9" width="1.1" height="1.1" fill="#fff" opacity="0.67"/><rect x="377.8" y="706.6" width="0.7" height="0.7" fill="#fff" opacity="0.60"/><rect x="387.3" y="696.5" width="1.0" height="1.0" fill="#fff" opacity="0.72"/><rect x="369.2" y="704.8" width="1.3" height="1.3" fill="#fff" opacity="0.73"/><rect x="373.9" y="700.3" width="1.0" height="1.0" fill="#fff" opacity="0.75"/><rect x="363.3" y="697.7" width="0.7" height="0.7" fill="#fff" opacity="0.66"/><rect x="371.8" y="692.3" width="1.1" height="1.1" fill="#fff" opacity="0.70"/><rect x="386.1" y="705.8" width="1.2" height="1.2" fill="#fff" opacity="0.42"/><rect x="387.6" y="726.8" width="1.2" height="1.2" fill="#fff" opacity="0.36"/><rect x="366.3" y="715.9" width="1.3" height="1.3" fill="#fff" opacity="0.22"/><rect x="376.2" y="703.1" width="0.9" height="0.9" fill="#fff" opacity="0.66"/><rect x="381.8" y="705.6" width="1.2" height="1.2" fill="#fff" opacity="0.37"/><rect x="378.0" y="685.1" width="0.8" height="0.8" fill="#fff" opacity="0.21"/><rect x="373.9" y="705.4" width="0.7" height="0.7" fill="#fff" opacity="0.32"/><rect x="372.9" y="702.0" width="1.0" height="1.0" fill="#fff" opacity="0.73"/><rect x="376.1" y="702.0" width="0.8" height="0.8" fill="#fff" opacity="0.77"/><rect x="392.4" y="700.4" width="0.8" height="0.8" fill="#fff" opacity="0.68"/><rect x="375.5" y="702.8" width="1.0" height="1.0" fill="#fff" opacity="0.72"/><rect x="392.6" y="715.9" width="1.2" height="1.2" fill="#fff" opacity="0.28"/><rect x="378.0" y="710.8" width="0.9" height="0.9" fill="#fff" opacity="0.28"/><rect x="366.8" y="688.1" width="0.7" height="0.7" fill="#fff" opacity="0.48"/><rect x="376.9" y="704.6" width="1.2" height="1.2" fill="#fff" opacity="0.28"/><rect x="376.6" y="717.7" width="1.2" height="1.2" fill="#fff" opacity="0.73"/><rect x="385.7" y="712.6" width="0.9" height="0.9" fill="#fff" opacity="0.75"/><rect x="360.0" y="701.1" width="0.9" height="0.9" fill="#fff" opacity="0.36"/><rect x="382.3" y="733.2" width="1.1" height="1.1" fill="#fff" opacity="0.08"/><rect x="375.7" y="695.2" width="0.6" height="0.6" fill="#fff" opacity="0.84"/><rect x="379.0" y="713.9" width="0.9" height="0.9" fill="#fff" opacity="0.40"/><rect x="347.7" y="699.1" width="0.6" height="0.6" fill="#fff" opacity="0.14"/><rect x="372.3" y="691.4" width="0.7" height="0.7" fill="#fff" opacity="0.76"/><rect x="381.4" y="698.8" width="1.3" height="1.3" fill="#fff" opacity="0.22"/><rect x="378.3" y="695.6" width="0.9" height="0.9" fill="#fff" opacity="0.74"/><rect x="375.1" y="703.4" width="1.2" height="1.2" fill="#fff" opacity="0.78"/><rect x="378.4" y="709.3" width="1.2" height="1.2" fill="#fff" opacity="0.71"/><rect x="379.5" y="704.5" width="0.9" height="0.9" fill="#fff" opacity="0.25"/><rect x="372.9" y="702.7" width="1.2" height="1.2" fill="#fff" opacity="0.92"/><rect x="390.3" y="715.4" width="0.9" height="0.9" fill="#fff" opacity="0.56"/><rect x="375.3" y="699.4" width="1.2" height="1.2" fill="#fff" opacity="0.73"/><rect x="375.7" y="702.5" width="0.6" height="0.6" fill="#fff" opacity="0.83"/><rect x="380.3" y="711.6" width="1.0" height="1.0" fill="#fff" opacity="0.25"/><rect x="372.7" y="710.2" width="1.1" height="1.1" fill="#fff" opacity="0.57"/><rect x="350.9" y="692.9" width="1.1" height="1.1" fill="#fff" opacity="0.32"/><rect x="389.1" y="697.6" width="1.2" height="1.2" fill="#fff" opacity="0.48"/><rect x="343.8" y="723.5" width="0.9" height="0.9" fill="#fff" opacity="0.22"/><rect x="385.3" y="707.5" width="1.2" height="1.2" fill="#fff" opacity="0.20"/><rect x="373.4" y="712.5" width="1.0" height="1.0" fill="#fff" opacity="0.23"/><rect x="361.8" y="699.6" width="1.0" height="1.0" fill="#fff" opacity="0.22"/><rect x="391.3" y="715.6" width="0.7" height="0.7" fill="#fff" opacity="0.36"/><rect x="370.1" y="685.4" width="0.6" height="0.6" fill="#fff" opacity="0.44"/><rect x="376.5" y="704.2" width="1.1" height="1.1" fill="#fff" opacity="0.90"/><rect x="390.4" y="688.7" width="0.8" height="0.8" fill="#fff" opacity="0.22"/><rect x="380.3" y="706.9" width="0.6" height="0.6" fill="#fff" opacity="0.81"/><rect x="381.0" y="696.6" width="0.8" height="0.8" fill="#fff" opacity="0.22"/><rect x="381.8" y="703.2" width="0.7" height="0.7" fill="#fff" opacity="0.44"/><rect x="377.2" y="713.5" width="1.2" height="1.2" fill="#fff" opacity="0.66"/><rect x="398.5" y="680.5" width="1.3" height="1.3" fill="#fff" opacity="0.24"/><rect x="378.1" y="700.9" width="1.1" height="1.1" fill="#fff" opacity="0.67"/><rect x="375.2" y="703.6" width="1.2" height="1.2" fill="#fff" opacity="0.70"/><rect x="357.8" y="714.6" width="1.0" height="1.0" fill="#fff" opacity="0.32"/><rect x="371.6" y="696.1" width="1.1" height="1.1" fill="#fff" opacity="0.80"/><rect x="372.0" y="701.7" width="0.9" height="0.9" fill="#fff" opacity="0.75"/><rect x="363.5" y="705.9" width="1.0" height="1.0" fill="#fff" opacity="0.73"/><rect x="377.6" y="697.4" width="1.1" height="1.1" fill="#fff" opacity="0.88"/><rect x="384.3" y="696.1" width="0.8" height="0.8" fill="#fff" opacity="0.49"/><rect x="371.4" y="703.8" width="0.8" height="0.8" fill="#fff" opacity="0.85"/><rect x="370.3" y="699.9" width="0.6" height="0.6" fill="#fff" opacity="0.51"/><rect x="372.8" y="719.6" width="0.9" height="0.9" fill="#fff" opacity="0.64"/><rect x="376.2" y="702.1" width="0.7" height="0.7" fill="#fff" opacity="0.61"/><rect x="374.4" y="703.4" width="0.7" height="0.7" fill="#fff" opacity="0.39"/><rect x="370.9" y="693.3" width="0.8" height="0.8" fill="#fff" opacity="0.70"/><rect x="378.8" y="682.2" width="1.2" height="1.2" fill="#fff" opacity="0.52"/><rect x="382.5" y="690.3" width="0.8" height="0.8" fill="#fff" opacity="0.57"/><rect x="373.7" y="715.1" width="0.8" height="0.8" fill="#fff" opacity="0.67"/><rect x="375.8" y="703.1" width="1.0" height="1.0" fill="#fff" opacity="0.50"/><rect x="371.2" y="705.7" width="1.0" height="1.0" fill="#fff" opacity="0.31"/><rect x="376.4" y="702.3" width="0.7" height="0.7" fill="#fff" opacity="0.60"/><rect x="374.2" y="702.5" width="1.0" height="1.0" fill="#fff" opacity="0.80"/><rect x="376.7" y="704.3" width="0.7" height="0.7" fill="#fff" opacity="0.53"/><rect x="376.1" y="703.6" width="0.7" height="0.7" fill="#fff" opacity="0.95"/><rect x="369.4" y="699.3" width="1.1" height="1.1" fill="#fff" opacity="0.52"/><rect x="375.2" y="704.5" width="0.6" height="0.6" fill="#fff" opacity="0.64"/><rect x="372.1" y="692.7" width="0.9" height="0.9" fill="#fff" opacity="0.46"/><rect x="377.1" y="706.0" width="0.8" height="0.8" fill="#fff" opacity="0.21"/><rect x="372.8" y="699.0" width="0.6" height="0.6" fill="#fff" opacity="0.87"/><rect x="382.8" y="706.6" width="1.0" height="1.0" fill="#fff" opacity="0.36"/><rect x="368.9" y="706.1" width="0.6" height="0.6" fill="#fff" opacity="0.80"/><rect x="388.1" y="710.3" width="0.9" height="0.9" fill="#fff" opacity="0.21"/><rect x="369.1" y="709.3" width="1.1" height="1.1" fill="#fff" opacity="0.43"/><rect x="364.5" y="703.4" width="0.9" height="0.9" fill="#fff" opacity="0.39"/><rect x="376.0" y="703.0" width="0.9" height="0.9" fill="#fff" opacity="0.81"/><rect x="351.1" y="704.4" width="1.1" height="1.1" fill="#fff" opacity="0.32"/><rect x="372.4" y="704.6" width="0.9" height="0.9" fill="#fff" opacity="0.29"/><rect x="381.6" y="704.1" width="0.7" height="0.7" fill="#fff" opacity="0.49"/><rect x="384.0" y="709.9" width="1.1" height="1.1" fill="#fff" opacity="0.39"/><rect x="378.2" y="694.6" width="1.1" height="1.1" fill="#fff" opacity="0.81"/><rect x="380.2" y="694.5" width="1.1" height="1.1" fill="#fff" opacity="0.62"/><rect x="373.3" y="705.2" width="0.9" height="0.9" fill="#fff" opacity="0.80"/><rect x="374.2" y="706.9" width="0.8" height="0.8" fill="#fff" opacity="0.40"/><rect x="379.5" y="690.5" width="0.9" height="0.9" fill="#fff" opacity="0.43"/><rect x="370.0" y="701.7" width="1.1" height="1.1" fill="#fff" opacity="0.91"/><rect x="397.5" y="719.1" width="0.8" height="0.8" fill="#fff" opacity="0.33"/><rect x="379.1" y="684.3" width="0.6" height="0.6" fill="#fff" opacity="0.36"/><rect x="377.2" y="702.9" width="0.7" height="0.7" fill="#fff" opacity="0.41"/><rect x="373.7" y="708.1" width="0.8" height="0.8" fill="#fff" opacity="0.61"/><rect x="375.3" y="702.2" width="0.7" height="0.7" fill="#fff" opacity="0.54"/><rect x="375.7" y="704.1" width="0.9" height="0.9" fill="#fff" opacity="0.71"/><rect x="384.7" y="727.4" width="0.8" height="0.8" fill="#fff" opacity="0.36"/><rect x="375.0" y="691.2" width="0.9" height="0.9" fill="#fff" opacity="0.47"/><rect x="377.0" y="703.3" width="0.9" height="0.9" fill="#fff" opacity="0.44"/><rect x="363.2" y="698.4" width="1.2" height="1.2" fill="#fff" opacity="0.19"/><rect x="377.8" y="704.2" width="0.9" height="0.9" fill="#fff" opacity="0.39"/><rect x="366.1" y="697.5" width="0.9" height="0.9" fill="#fff" opacity="0.26"/><rect x="377.2" y="702.7" width="0.6" height="0.6" fill="#fff" opacity="0.56"/><rect x="375.4" y="705.0" width="1.1" height="1.1" fill="#fff" opacity="0.75"/><rect x="379.0" y="691.5" width="0.8" height="0.8" fill="#fff" opacity="0.71"/><rect x="377.8" y="704.6" width="1.3" height="1.3" fill="#fff" opacity="0.36"/><rect x="370.3" y="707.1" width="1.2" height="1.2" fill="#fff" opacity="0.90"/><rect x="365.0" y="696.6" width="0.8" height="0.8" fill="#fff" opacity="0.81"/><rect x="349.4" y="716.9" width="1.2" height="1.2" fill="#fff" opacity="0.38"/><rect x="375.9" y="704.2" width="0.7" height="0.7" fill="#fff" opacity="0.86"/><rect x="390.1" y="703.5" width="1.3" height="1.3" fill="#fff" opacity="0.24"/><rect x="373.6" y="695.7" width="0.8" height="0.8" fill="#fff" opacity="0.52"/><rect x="398.1" y="702.3" width="0.8" height="0.8" fill="#fff" opacity="0.50"/><rect x="378.0" y="708.7" width="1.3" height="1.3" fill="#fff" opacity="0.30"/><rect x="359.7" y="723.6" width="0.8" height="0.8" fill="#fff" opacity="0.35"/><rect x="373.9" y="703.0" width="1.3" height="1.3" fill="#fff" opacity="0.86"/><rect x="398.5" y="682.8" width="0.6" height="0.6" fill="#fff" opacity="0.31"/><rect x="374.4" y="703.5" width="1.2" height="1.2" fill="#fff" opacity="0.85"/><rect x="378.4" y="701.4" width="1.3" height="1.3" fill="#fff" opacity="0.80"/><rect x="374.3" y="690.5" width="1.0" height="1.0" fill="#fff" opacity="0.57"/><rect x="375.6" y="706.1" width="1.2" height="1.2" fill="#fff" opacity="0.30"/><rect x="388.9" y="708.0" width="1.0" height="1.0" fill="#fff" opacity="0.62"/><rect x="375.4" y="701.2" width="0.8" height="0.8" fill="#fff" opacity="0.26"/><rect x="362.8" y="711.1" width="1.3" height="1.3" fill="#fff" opacity="0.53"/><rect x="376.2" y="703.7" width="0.7" height="0.7" fill="#fff" opacity="0.43"/><rect x="392.6" y="693.6" width="1.0" height="1.0" fill="#fff" opacity="0.58"/><rect x="389.2" y="686.4" width="1.3" height="1.3" fill="#fff" opacity="0.20"/><rect x="376.1" y="704.9" width="0.9" height="0.9" fill="#fff" opacity="0.54"/><rect x="389.6" y="702.0" width="0.7" height="0.7" fill="#fff" opacity="0.17"/><rect x="362.2" y="698.9" width="0.7" height="0.7" fill="#fff" opacity="0.56"/><rect x="373.5" y="694.2" width="0.9" height="0.9" fill="#fff" opacity="0.41"/><rect x="395.6" y="693.5" width="1.3" height="1.3" fill="#fff" opacity="0.26"/><rect x="383.7" y="700.5" width="1.0" height="1.0" fill="#fff" opacity="0.71"/><rect x="368.4" y="702.6" width="1.3" height="1.3" fill="#fff" opacity="0.52"/><rect x="369.7" y="705.5" width="0.9" height="0.9" fill="#fff" opacity="0.35"/><rect x="377.0" y="680.2" width="1.2" height="1.2" fill="#fff" opacity="0.26"/><rect x="373.8" y="695.5" width="0.9" height="0.9" fill="#fff" opacity="0.20"/><rect x="374.7" y="701.2" width="1.2" height="1.2" fill="#fff" opacity="0.50"/><rect x="374.7" y="710.9" width="0.7" height="0.7" fill="#fff" opacity="0.77"/><rect x="380.0" y="685.8" width="0.9" height="0.9" fill="#fff" opacity="0.70"/><rect x="377.1" y="701.5" width="0.9" height="0.9" fill="#fff" opacity="0.22"/><rect x="378.0" y="704.9" width="0.7" height="0.7" fill="#fff" opacity="0.30"/><rect x="391.1" y="671.8" width="1.0" height="1.0" fill="#fff" opacity="0.16"/><rect x="381.4" y="692.3" width="0.7" height="0.7" fill="#fff" opacity="0.18"/><rect x="380.5" y="712.0" width="0.9" height="0.9" fill="#fff" opacity="0.20"/><rect x="377.6" y="690.4" width="0.9" height="0.9" fill="#fff" opacity="0.19"/><rect x="376.0" y="702.8" width="0.8" height="0.8" fill="#fff" opacity="0.58"/><rect x="373.0" y="708.5" width="0.9" height="0.9" fill="#fff" opacity="0.69"/><rect x="382.4" y="701.7" width="1.0" height="1.0" fill="#fff" opacity="0.76"/><rect x="373.4" y="707.3" width="1.2" height="1.2" fill="#fff" opacity="0.64"/><rect x="389.8" y="696.4" width="1.1" height="1.1" fill="#fff" opacity="0.71"/><rect x="367.6" y="698.7" width="0.6" height="0.6" fill="#fff" opacity="0.57"/><rect x="398.0" y="734.3" width="1.1" height="1.1" fill="#fff" opacity="0.17"/><rect x="377.4" y="702.8" width="0.7" height="0.7" fill="#fff" opacity="0.49"/><rect x="381.1" y="712.7" width="1.0" height="1.0" fill="#fff" opacity="0.54"/><rect x="375.0" y="705.6" width="0.9" height="0.9" fill="#fff" opacity="0.86"/><rect x="358.2" y="717.0" width="0.7" height="0.7" fill="#fff" opacity="0.52"/><rect x="369.8" y="724.7" width="1.2" height="1.2" fill="#fff" opacity="0.46"/><rect x="388.6" y="701.6" width="0.8" height="0.8" fill="#fff" opacity="0.57"/><rect x="385.2" y="716.2" width="1.0" height="1.0" fill="#fff" opacity="0.24"/><rect x="375.1" y="697.4" width="0.7" height="0.7" fill="#fff" opacity="0.51"/><rect x="373.3" y="682.1" width="0.6" height="0.6" fill="#fff" opacity="0.57"/><rect x="382.5" y="711.8" width="0.8" height="0.8" fill="#fff" opacity="0.21"/><rect x="380.8" y="707.1" width="0.7" height="0.7" fill="#fff" opacity="0.24"/><rect x="380.6" y="691.4" width="0.9" height="0.9" fill="#fff" opacity="0.33"/><rect x="362.6" y="687.6" width="1.1" height="1.1" fill="#fff" opacity="0.30"/><rect x="372.7" y="699.8" width="1.0" height="1.0" fill="#fff" opacity="0.66"/><rect x="381.2" y="704.5" width="0.6" height="0.6" fill="#fff" opacity="0.52"/><rect x="367.0" y="693.2" width="0.7" height="0.7" fill="#fff" opacity="0.55"/><rect x="386.8" y="691.3" width="1.2" height="1.2" fill="#fff" opacity="0.23"/><rect x="346.2" y="708.7" width="0.6" height="0.6" fill="#fff" opacity="0.23"/><rect x="373.1" y="705.0" width="0.7" height="0.7" fill="#fff" opacity="0.29"/><rect x="355.1" y="698.4" width="1.1" height="1.1" fill="#fff" opacity="0.33"/><rect x="375.1" y="704.1" width="0.7" height="0.7" fill="#fff" opacity="0.59"/><rect x="376.0" y="700.6" width="1.3" height="1.3" fill="#fff" opacity="0.38"/><rect x="377.0" y="709.7" width="0.8" height="0.8" fill="#fff" opacity="0.27"/><rect x="407.5" y="708.7" width="1.1" height="1.1" fill="#fff" opacity="0.09"/><rect x="372.4" y="694.4" width="0.9" height="0.9" fill="#fff" opacity="0.46"/><rect x="408.1" y="699.7" width="1.0" height="1.0" fill="#fff" opacity="0.29"/><rect x="375.8" y="702.3" width="1.1" height="1.1" fill="#fff" opacity="0.39"/><rect x="370.2" y="714.9" width="0.9" height="0.9" fill="#fff" opacity="0.70"/><rect x="377.4" y="704.6" width="0.7" height="0.7" fill="#fff" opacity="0.73"/><rect x="371.4" y="704.0" width="0.7" height="0.7" fill="#fff" opacity="0.68"/><rect x="374.2" y="705.7" width="1.0" height="1.0" fill="#fff" opacity="0.56"/><rect x="366.7" y="692.4" width="0.7" height="0.7" fill="#fff" opacity="0.20"/><rect x="372.9" y="718.2" width="1.3" height="1.3" fill="#fff" opacity="0.19"/><rect x="376.4" y="710.7" width="1.2" height="1.2" fill="#fff" opacity="0.46"/><rect x="369.6" y="692.5" width="0.9" height="0.9" fill="#fff" opacity="0.44"/><rect x="377.5" y="695.6" width="0.7" height="0.7" fill="#fff" opacity="0.39"/><rect x="360.2" y="713.6" width="0.9" height="0.9" fill="#fff" opacity="0.66"/><rect x="367.8" y="724.4" width="1.0" height="1.0" fill="#fff" opacity="0.47"/><circle cx="365.3" cy="689.2" r="2.5" fill="url(#spot)" opacity="0.9"/><circle cx="394.4" cy="681.4" r="1.5" fill="url(#spot)" opacity="0.6"/><circle cx="402.9" cy="697.1" r="1.5" fill="url(#spot)" opacity="0.6"/><circle cx="382.3" cy="721.9" r="2" fill="url(#spot)" opacity="0.8"/><circle cx="344.8" cy="713.4" r="1.6" fill="url(#spot)" opacity="0.7"/><circle cx="353.9" cy="729.2" r="1.6" fill="url(#spot)" opacity="0.7"/><circle cx="382.9" cy="728.6" r="1.5" fill="url(#spot)" opacity="0.6"/><g opacity="0.8"><line x1="370" y1="697" x2="382" y2="709" stroke="#fff" stroke-width="1"/><line x1="370" y1="709" x2="382" y2="697" stroke="#fff" stroke-width="1"/></g>
</g></g>
<rect x="323.8" y="659.7" width="100.2" height="88.8" fill="none" stroke="#c23c3c" stroke-width="2"/>
<rect x="323.0" y="658.9000000000001" width="101.8" height="90.39999999999999" fill="none" stroke="#e27a7a" stroke-width="0.5" opacity="0.8"/>
<circle cx="344.8" cy="713.4" r="3.9" fill="none" stroke="#33c6d2" stroke-width="1.9"/>
<circle cx="344.8" cy="713.4" r="1.1" fill="#fff" opacity="0.9"/>
<circle cx="353.9" cy="729.2" r="3.9" fill="none" stroke="#d22ed2" stroke-width="1.9"/>
<circle cx="353.9" cy="729.2" r="1.1" fill="#fff" opacity="0.9"/>
<circle cx="382.3" cy="721.9" r="3.9" fill="none" stroke="#2ed22e" stroke-width="1.9"/>
<circle cx="382.3" cy="721.9" r="1.1" fill="#fff" opacity="0.9"/>
<text x="324.8 329.9 337.3 344.7 352.2" y="705.6" font-family="'Liberation Serif', 'Times New Roman', serif" font-weight="bold" font-size="14" fill="#33c6d2">(212)</text>
<text x="357.3" y="708.7" font-family="'Liberation Serif', 'Times New Roman', serif" font-weight="bold" font-size="10.1" fill="#33c6d2">o</text>
<line x1="331.0" x2="335.8" y1="693.6" y2="693.6" stroke="#33c6d2" stroke-width="1.19"/>
<text x="388.3 392.8 399.6 406.4 413.3" y="728.6" font-family="'Liberation Serif', 'Times New Roman', serif" font-weight="bold" font-size="14" fill="#2ed22e">(111)</text>
<text x="417.8" y="731.7" font-family="'Liberation Serif', 'Times New Roman', serif" font-weight="bold" font-size="10.1" fill="#2ed22e">o</text>
<line x1="393.9" x2="398.7" y1="716.6" y2="716.6" stroke="#2ed22e" stroke-width="1.19"/>
<line x1="400.7" x2="405.5" y1="716.6" y2="716.6" stroke="#2ed22e" stroke-width="1.19"/>
<line x1="407.6" x2="412.3" y1="716.6" y2="716.6" stroke="#2ed22e" stroke-width="1.19"/>
<text x="356.3 361.4 368.8 376.2 383.7" y="744.9" font-family="'Liberation Serif', 'Times New Roman', serif" font-weight="bold" font-size="14" fill="#d22ed2">(301)</text>
<text x="388.8" y="748.0" font-family="'Liberation Serif', 'Times New Roman', serif" font-weight="bold" font-size="10.1" fill="#d22ed2">o</text>
<line x1="362.5" x2="367.3" y1="732.9" y2="732.9" stroke="#d22ed2" stroke-width="1.19"/>
<text x="328.4" y="679" font-family="'Liberation Serif', 'Times New Roman', serif" font-weight="bold" font-size="21.5" fill="#ffffff" text-anchor="start">(j)</text>
<g clip-path="url(#csn)"><g>
<rect x="739.8" y="656.8" width="104.9" height="95.5" fill="#000"/>
<rect x="741.8" y="658.8" width="100.9" height="91.5" fill="#030303"/><ellipse cx="791.8" cy="714" rx="33.800000000000004" ry="33.800000000000004" fill="url(#glow)" opacity="1.3"/><rect x="786.6" y="711.6" width="0.8" height="0.8" fill="#fff" opacity="0.86"/><rect x="777.6" y="731.4" width="1.0" height="1.0" fill="#fff" opacity="0.53"/><rect x="765.7" y="711.3" width="0.6" height="0.6" fill="#fff" opacity="0.23"/><rect x="783.8" y="726.1" width="1.1" height="1.1" fill="#fff" opacity="0.18"/><rect x="808.1" y="716.1" width="0.9" height="0.9" fill="#fff" opacity="0.49"/><rect x="798.0" y="717.0" width="0.8" height="0.8" fill="#fff" opacity="0.87"/><rect x="780.6" y="721.8" width="0.8" height="0.8" fill="#fff" opacity="0.31"/><rect x="801.2" y="687.9" width="1.2" height="1.2" fill="#fff" opacity="0.46"/><rect x="791.1" y="716.4" width="1.1" height="1.1" fill="#fff" opacity="0.60"/><rect x="805.3" y="693.4" width="1.0" height="1.0" fill="#fff" opacity="0.49"/><rect x="792.6" y="705.1" width="1.3" height="1.3" fill="#fff" opacity="0.32"/><rect x="789.0" y="710.8" width="1.1" height="1.1" fill="#fff" opacity="0.69"/><rect x="804.3" y="720.5" width="0.7" height="0.7" fill="#fff" opacity="0.37"/><rect x="770.1" y="717.8" width="0.9" height="0.9" fill="#fff" opacity="0.24"/><rect x="791.7" y="704.3" width="1.2" height="1.2" fill="#fff" opacity="0.47"/><rect x="777.1" y="717.3" width="1.3" height="1.3" fill="#fff" opacity="0.53"/><rect x="778.1" y="721.0" width="1.2" height="1.2" fill="#fff" opacity="0.42"/><rect x="791.5" y="713.2" width="0.9" height="0.9" fill="#fff" opacity="0.32"/><rect x="789.1" y="713.4" width="1.1" height="1.1" fill="#fff" opacity="0.21"/><rect x="794.2" y="715.2" width="0.9" height="0.9" fill="#fff" opacity="0.32"/><rect x="791.6" y="742.3" width="1.0" height="1.0" fill="#fff" opacity="0.37"/><rect x="777.5" y="727.0" width="0.9" height="0.9" fill="#fff" opacity="0.68"/><rect x="787.7" y="704.9" width="1.2" height="1.2" fill="#fff" opacity="0.64"/><rect x="784.6" y="711.6" width="1.0" height="1.0" fill="#fff" opacity="0.84"/><rect x="792.9" y="713.6" width="0.9" height="0.9" fill="#fff" opacity="0.75"/><rect x="802.1" y="715.4" width="1.2" height="1.2" fill="#fff" opacity="0.83"/><rect x="792.0" y="714.3" width="0.7" height="0.7" fill="#fff" opacity="0.73"/><rect x="783.1" y="724.1" width="1.1" height="1.1" fill="#fff" opacity="0.56"/><rect x="789.5" y="721.1" width="1.3" height="1.3" fill="#fff" opacity="0.33"/><rect x="797.3" y="716.4" width="1.1" height="1.1" fill="#fff" opacity="0.56"/><rect x="790.8" y="716.0" width="1.1" height="1.1" fill="#fff" opacity="0.79"/><rect x="786.9" y="722.4" width="0.6" height="0.6" fill="#fff" opacity="0.33"/><rect x="783.1" y="708.0" width="1.2" height="1.2" fill="#fff" opacity="0.46"/><rect x="807.3" y="673.6" width="0.9" height="0.9" fill="#fff" opacity="0.22"/><rect x="781.7" y="708.7" width="1.3" height="1.3" fill="#fff" opacity="0.63"/><rect x="763.4" y="722.9" width="0.7" height="0.7" fill="#fff" opacity="0.37"/><rect x="793.8" y="704.9" width="0.8" height="0.8" fill="#fff" opacity="0.56"/><rect x="790.4" y="714.5" width="1.2" height="1.2" fill="#fff" opacity="0.44"/><rect x="804.9" y="715.6" width="0.9" height="0.9" fill="#fff" opacity="0.37"/><rect x="791.3" y="709.4" width="0.7" height="0.7" fill="#fff" opacity="0.44"/><rect x="798.2" y="699.1" width="1.0" height="1.0" fill="#fff" opacity="0.24"/><rect x="791.7" y="714.3" width="1.1" height="1.1" fill="#fff" opacity="0.82"/><rect x="784.5" y="730.8" width="1.0" height="1.0" fill="#fff" opacity="0.59"/><rect x="793.6" y="699.7" width="1.0" height="1.0" fill="#fff" opacity="0.40"/><rect x="816.1" y="731.5" width="0.8" height="0.8" fill="#fff" opacity="0.46"/><rect x="792.0" y="714.3" width="1.0" height="1.0" fill="#fff" opacity="0.94"/><rect x="782.8" y="720.6" width="1.1" height="1.1" fill="#fff" opacity="0.62"/><rect x="800.8" y="711.1" width="0.7" height="0.7" fill="#fff" opacity="0.48"/><rect x="802.7" y="709.3" width="0.8" height="0.8" fill="#fff" opacity="0.67"/><rect x="790.8" y="692.2" width="0.8" height="0.8" fill="#fff" opacity="0.16"/><rect x="797.5" y="723.0" width="1.2" height="1.2" fill="#fff" opacity="0.78"/><rect x="774.7" y="744.1" width="1.1" height="1.1" fill="#fff" opacity="0.35"/><rect x="796.5" y="728.6" width="1.0" height="1.0" fill="#fff" opacity="0.21"/><rect x="777.6" y="707.0" width="1.1" height="1.1" fill="#fff" opacity="0.18"/><rect x="792.1" y="713.5" width="1.1" height="1.1" fill="#fff" opacity="0.84"/><rect x="794.6" y="728.7" width="1.1" height="1.1" fill="#fff" opacity="0.63"/><rect x="776.3" y="717.0" width="0.6" height="0.6" fill="#fff" opacity="0.61"/><rect x="785.5" y="722.5" width="1.0" height="1.0" fill="#fff" opacity="0.80"/><rect x="784.4" y="725.9" width="1.3" height="1.3" fill="#fff" opacity="0.40"/><rect x="777.5" y="724.6" width="1.2" height="1.2" fill="#fff" opacity="0.67"/><rect x="789.0" y="719.5" width="0.8" height="0.8" fill="#fff" opacity="0.23"/><rect x="797.4" y="725.6" width="0.6" height="0.6" fill="#fff" opacity="0.83"/><rect x="779.5" y="696.3" width="1.0" height="1.0" fill="#fff" opacity="0.41"/><rect x="788.7" y="717.9" width="0.7" height="0.7" fill="#fff" opacity="0.57"/><rect x="784.4" y="712.6" width="1.0" height="1.0" fill="#fff" opacity="0.52"/><rect x="784.9" y="711.0" width="0.8" height="0.8" fill="#fff" opacity="0.79"/><rect x="782.3" y="738.0" width="1.3" height="1.3" fill="#fff" opacity="0.21"/><rect x="800.2" y="714.6" width="0.7" height="0.7" fill="#fff" opacity="0.37"/><rect x="786.5" y="716.5" width="1.0" height="1.0" fill="#fff" opacity="0.48"/><rect x="789.5" y="731.5" width="0.8" height="0.8" fill="#fff" opacity="0.27"/><rect x="789.4" y="749.7" width="1.3" height="1.3" fill="#fff" opacity="0.16"/><rect x="799.7" y="691.2" width="1.0" height="1.0" fill="#fff" opacity="0.35"/><rect x="780.5" y="717.6" width="0.8" height="0.8" fill="#fff" opacity="0.76"/><rect x="797.0" y="715.8" width="0.7" height="0.7" fill="#fff" opacity="0.51"/><rect x="793.8" y="709.2" width="1.0" height="1.0" fill="#fff" opacity="0.83"/><rect x="789.5" y="714.7" width="1.2" height="1.2" fill="#fff" opacity="0.69"/><rect x="800.4" y="712.6" width="1.0" height="1.0" fill="#fff" opacity="0.53"/><rect x="793.0" y="721.3" width="1.1" height="1.1" fill="#fff" opacity="0.63"/><rect x="784.1" y="710.6" width="0.7" height="0.7" fill="#fff" opacity="0.32"/><rect x="790.7" y="713.5" width="0.7" height="0.7" fill="#fff" opacity="0.66"/><rect x="786.9" y="710.0" width="0.7" height="0.7" fill="#fff" opacity="0.86"/><rect x="797.4" y="692.8" width="1.1" height="1.1" fill="#fff" opacity="0.17"/><rect x="781.3" y="708.4" width="1.1" height="1.1" fill="#fff" opacity="0.48"/><rect x="779.5" y="710.5" width="0.8" height="0.8" fill="#fff" opacity="0.65"/><rect x="784.7" y="724.2" width="1.2" height="1.2" fill="#fff" opacity="0.30"/><rect x="796.7" y="715.2" width="1.2" height="1.2" fill="#fff" opacity="0.73"/><rect x="791.1" y="710.2" width="0.8" height="0.8" fill="#fff" opacity="0.44"/><rect x="786.7" y="716.1" width="0.6" height="0.6" fill="#fff" opacity="0.23"/><rect x="784.6" y="717.3" width="0.6" height="0.6" fill="#fff" opacity="0.84"/><rect x="799.9" y="729.1" width="0.7" height="0.7" fill="#fff" opacity="0.60"/><rect x="787.0" y="711.5" width="0.7" height="0.7" fill="#fff" opacity="0.77"/><rect x="788.6" y="708.2" width="0.7" height="0.7" fill="#fff" opacity="0.41"/><rect x="777.0" y="716.6" width="1.0" height="1.0" fill="#fff" opacity="0.26"/><rect x="790.7" y="715.6" width="1.3" height="1.3" fill="#fff" opacity="0.64"/><rect x="793.4" y="707.6" width="1.2" height="1.2" fill="#fff" opacity="0.88"/><rect x="795.3" y="717.8" width="1.0" height="1.0" fill="#fff" opacity="0.82"/><rect x="781.3" y="716.8" width="1.0" height="1.0" fill="#fff" opacity="0.54"/><rect x="799.0" y="704.5" width="0.7" height="0.7" fill="#fff" opacity="0.58"/><rect x="801.2" y="727.9" width="0.7" height="0.7" fill="#fff" opacity="0.67"/><rect x="793.5" y="714.6" width="0.8" height="0.8" fill="#fff" opacity="0.76"/><rect x="792.5" y="715.5" width="1.1" height="1.1" fill="#fff" opacity="0.57"/><rect x="809.4" y="699.7" width="1.0" height="1.0" fill="#fff" opacity="0.16"/><rect x="771.4" y="727.0" width="0.8" height="0.8" fill="#fff" opacity="0.38"/><rect x="783.9" y="713.0" width="0.8" height="0.8" fill="#fff" opacity="0.26"/><rect x="791.7" y="715.3" width="1.2" height="1.2" fill="#fff" opacity="0.71"/><rect x="788.9" y="718.0" width="0.9" height="0.9" fill="#fff" opacity="0.41"/><rect x="785.2" y="724.7" width="0.9" height="0.9" fill="#fff" opacity="0.80"/><rect x="796.2" y="713.2" width="0.9" height="0.9" fill="#fff" opacity="0.30"/><rect x="784.0" y="697.8" width="0.9" height="0.9" fill="#fff" opacity="0.57"/><rect x="795.3" y="716.7" width="1.1" height="1.1" fill="#fff" opacity="0.63"/><rect x="779.8" y="728.2" width="0.8" height="0.8" fill="#fff" opacity="0.17"/><rect x="810.4" y="715.6" width="1.2" height="1.2" fill="#fff" opacity="0.34"/><rect x="802.8" y="719.8" width="0.7" height="0.7" fill="#fff" opacity="0.22"/><rect x="793.7" y="710.9" width="0.7" height="0.7" fill="#fff" opacity="0.63"/><rect x="813.1" y="715.2" width="1.2" height="1.2" fill="#fff" opacity="0.58"/><rect x="784.3" y="708.9" width="0.9" height="0.9" fill="#fff" opacity="0.34"/><rect x="787.8" y="714.7" width="0.8" height="0.8" fill="#fff" opacity="0.33"/><rect x="803.1" y="719.0" width="1.3" height="1.3" fill="#fff" opacity="0.69"/><rect x="795.7" y="718.4" width="1.0" height="1.0" fill="#fff" opacity="0.49"/><rect x="795.8" y="707.5" width="1.1" height="1.1" fill="#fff" opacity="0.38"/><rect x="792.4" y="715.2" width="1.1" height="1.1" fill="#fff" opacity="0.80"/><rect x="768.0" y="728.3" width="0.9" height="0.9" fill="#fff" opacity="0.44"/><rect x="793.4" y="713.1" width="0.6" height="0.6" fill="#fff" opacity="0.46"/><rect x="781.9" y="710.5" width="1.3" height="1.3" fill="#fff" opacity="0.87"/><rect x="797.5" y="728.9" width="1.1" height="1.1" fill="#fff" opacity="0.63"/><rect x="784.7" y="703.9" width="0.8" height="0.8" fill="#fff" opacity="0.52"/><rect x="784.8" y="682.4" width="1.2" height="1.2" fill="#fff" opacity="0.40"/><rect x="779.7" y="699.0" width="0.8" height="0.8" fill="#fff" opacity="0.26"/><rect x="798.6" y="691.4" width="0.7" height="0.7" fill="#fff" opacity="0.38"/><rect x="790.6" y="715.8" width="1.2" height="1.2" fill="#fff" opacity="0.83"/><rect x="788.9" y="712.6" width="0.7" height="0.7" fill="#fff" opacity="0.90"/><rect x="781.8" y="715.7" width="1.3" height="1.3" fill="#fff" opacity="0.70"/><rect x="800.6" y="701.2" width="1.1" height="1.1" fill="#fff" opacity="0.51"/><rect x="779.1" y="706.2" width="0.6" height="0.6" fill="#fff" opacity="0.35"/><rect x="779.0" y="719.1" width="0.7" height="0.7" fill="#fff" opacity="0.35"/><rect x="785.5" y="712.8" width="1.3" height="1.3" fill="#fff" opacity="0.65"/><rect x="792.2" y="716.6" width="1.0" height="1.0" fill="#fff" opacity="0.38"/><rect x="790.2" y="710.9" width="1.2" height="1.2" fill="#fff" opacity="0.23"/><rect x="795.0" y="728.2" width="0.8" height="0.8" fill="#fff" opacity="0.57"/><rect x="767.9" y="722.9" width="1.2" height="1.2" fill="#fff" opacity="0.24"/><rect x="806.8" y="705.7" width="0.8" height="0.8" fill="#fff" opacity="0.36"/><rect x="791.9" y="714.0" width="0.9" height="0.9" fill="#fff" opacity="0.66"/><rect x="785.1" y="724.1" width="0.9" height="0.9" fill="#fff" opacity="0.30"/><rect x="789.1" y="715.0" width="0.7" height="0.7" fill="#fff" opacity="0.62"/><rect x="789.9" y="720.8" width="1.3" height="1.3" fill="#fff" opacity="0.37"/><rect x="780.8" y="708.8" width="0.8" height="0.8" fill="#fff" opacity="0.48"/><rect x="786.3" y="696.2" width="1.1" height="1.1" fill="#fff" opacity="0.34"/><rect x="785.7" y="716.8" width="0.8" height="0.8" fill="#fff" opacity="0.91"/><rect x="785.3" y="715.3" width="1.0" height="1.0" fill="#fff" opacity="0.21"/><rect x="791.5" y="708.2" width="1.0" height="1.0" fill="#fff" opacity="0.60"/><rect x="789.1" y="730.7" width="1.2" height="1.2" fill="#fff" opacity="0.49"/><rect x="782.4" y="705.8" width="1.1" height="1.1" fill="#fff" opacity="0.22"/><rect x="804.1" y="718.4" width="1.0" height="1.0" fill="#fff" opacity="0.31"/><rect x="791.1" y="710.2" width="1.1" height="1.1" fill="#fff" opacity="0.89"/><rect x="796.2" y="708.1" width="0.8" height="0.8" fill="#fff" opacity="0.52"/><rect x="773.7" y="728.4" width="0.9" height="0.9" fill="#fff" opacity="0.61"/><rect x="778.7" y="738.2" width="1.1" height="1.1" fill="#fff" opacity="0.37"/><rect x="791.9" y="717.3" width="0.9" height="0.9" fill="#fff" opacity="0.53"/><rect x="785.8" y="728.1" width="0.8" height="0.8" fill="#fff" opacity="0.63"/><rect x="777.3" y="716.1" width="1.2" height="1.2" fill="#fff" opacity="0.22"/><rect x="808.6" y="719.0" width="1.3" height="1.3" fill="#fff" opacity="0.61"/><rect x="780.2" y="715.1" width="0.8" height="0.8" fill="#fff" opacity="0.51"/><rect x="789.3" y="723.4" width="1.1" height="1.1" fill="#fff" opacity="0.39"/><rect x="814.4" y="694.0" width="1.1" height="1.1" fill="#fff" opacity="0.38"/><rect x="784.5" y="692.4" width="0.7" height="0.7" fill="#fff" opacity="0.28"/><rect x="791.0" y="715.1" width="0.7" height="0.7" fill="#fff" opacity="0.39"/><rect x="791.5" y="707.9" width="0.9" height="0.9" fill="#fff" opacity="0.70"/><rect x="798.8" y="707.1" width="0.9" height="0.9" fill="#fff" opacity="0.85"/><rect x="796.3" y="722.8" width="0.6" height="0.6" fill="#fff" opacity="0.72"/><rect x="790.0" y="716.3" width="1.3" height="1.3" fill="#fff" opacity="0.55"/><rect x="787.7" y="724.4" width="1.2" height="1.2" fill="#fff" opacity="0.71"/><rect x="800.2" y="714.8" width="0.7" height="0.7" fill="#fff" opacity="0.38"/><rect x="797.0" y="725.3" width="0.7" height="0.7" fill="#fff" opacity="0.28"/><rect x="780.8" y="725.6" width="0.7" height="0.7" fill="#fff" opacity="0.21"/><rect x="806.2" y="718.4" width="1.1" height="1.1" fill="#fff" opacity="0.18"/><rect x="782.2" y="726.6" width="0.8" height="0.8" fill="#fff" opacity="0.63"/><rect x="791.0" y="707.8" width="1.2" height="1.2" fill="#fff" opacity="0.90"/><rect x="775.5" y="707.3" width="1.0" height="1.0" fill="#fff" opacity="0.22"/><rect x="800.0" y="689.2" width="0.6" height="0.6" fill="#fff" opacity="0.15"/><rect x="790.9" y="714.9" width="0.7" height="0.7" fill="#fff" opacity="0.67"/><rect x="809.3" y="715.9" width="0.9" height="0.9" fill="#fff" opacity="0.75"/><rect x="787.2" y="722.4" width="0.6" height="0.6" fill="#fff" opacity="0.45"/><rect x="810.4" y="720.4" width="0.7" height="0.7" fill="#fff" opacity="0.25"/><rect x="788.9" y="715.6" width="1.1" height="1.1" fill="#fff" opacity="0.91"/><rect x="813.5" y="699.1" width="0.8" height="0.8" fill="#fff" opacity="0.28"/><rect x="792.7" y="713.0" width="0.8" height="0.8" fill="#fff" opacity="0.41"/><rect x="798.1" y="721.5" width="0.8" height="0.8" fill="#fff" opacity="0.45"/><rect x="794.3" y="703.4" width="0.8" height="0.8" fill="#fff" opacity="0.74"/><rect x="795.8" y="710.5" width="1.2" height="1.2" fill="#fff" opacity="0.68"/><rect x="785.7" y="723.6" width="1.1" height="1.1" fill="#fff" opacity="0.21"/><rect x="787.6" y="715.3" width="1.3" height="1.3" fill="#fff" opacity="0.67"/><rect x="790.5" y="712.5" width="0.9" height="0.9" fill="#fff" opacity="0.40"/><rect x="791.3" y="702.1" width="0.7" height="0.7" fill="#fff" opacity="0.80"/><rect x="798.0" y="701.6" width="1.1" height="1.1" fill="#fff" opacity="0.61"/><rect x="804.0" y="716.5" width="1.2" height="1.2" fill="#fff" opacity="0.69"/><rect x="794.9" y="714.1" width="1.0" height="1.0" fill="#fff" opacity="0.55"/><rect x="793.1" y="712.9" width="0.7" height="0.7" fill="#fff" opacity="0.24"/><rect x="803.3" y="714.6" width="1.3" height="1.3" fill="#fff" opacity="0.65"/><rect x="778.2" y="710.5" width="1.2" height="1.2" fill="#fff" opacity="0.43"/><rect x="787.3" y="709.9" width="1.3" height="1.3" fill="#fff" opacity="0.79"/><rect x="785.5" y="726.1" width="0.8" height="0.8" fill="#fff" opacity="0.77"/><rect x="805.4" y="703.2" width="0.7" height="0.7" fill="#fff" opacity="0.39"/><rect x="788.4" y="720.1" width="0.8" height="0.8" fill="#fff" opacity="0.30"/><rect x="792.6" y="713.8" width="0.9" height="0.9" fill="#fff" opacity="0.20"/><rect x="797.5" y="720.3" width="0.9" height="0.9" fill="#fff" opacity="0.39"/><rect x="791.4" y="712.2" width="0.7" height="0.7" fill="#fff" opacity="0.61"/><rect x="804.4" y="717.4" width="0.8" height="0.8" fill="#fff" opacity="0.24"/><rect x="790.0" y="712.5" width="0.7" height="0.7" fill="#fff" opacity="0.32"/><rect x="776.2" y="711.6" width="0.6" height="0.6" fill="#fff" opacity="0.58"/><rect x="819.8" y="705.5" width="1.0" height="1.0" fill="#fff" opacity="0.40"/><rect x="801.7" y="717.2" width="0.9" height="0.9" fill="#fff" opacity="0.20"/><rect x="813.4" y="705.1" width="1.1" height="1.1" fill="#fff" opacity="0.16"/><rect x="788.0" y="707.1" width="1.2" height="1.2" fill="#fff" opacity="0.42"/><rect x="775.9" y="731.5" width="0.8" height="0.8" fill="#fff" opacity="0.42"/><rect x="787.2" y="721.1" width="0.8" height="0.8" fill="#fff" opacity="0.20"/><rect x="792.6" y="721.0" width="0.8" height="0.8" fill="#fff" opacity="0.74"/><rect x="804.0" y="710.3" width="1.2" height="1.2" fill="#fff" opacity="0.23"/><rect x="792.4" y="731.3" width="1.3" height="1.3" fill="#fff" opacity="0.25"/><rect x="790.9" y="713.3" width="0.6" height="0.6" fill="#fff" opacity="0.47"/><rect x="770.9" y="703.9" width="1.1" height="1.1" fill="#fff" opacity="0.18"/><rect x="793.8" y="714.5" width="1.0" height="1.0" fill="#fff" opacity="0.92"/><rect x="793.8" y="713.7" width="0.9" height="0.9" fill="#fff" opacity="0.30"/><rect x="786.4" y="713.5" width="0.8" height="0.8" fill="#fff" opacity="0.22"/><rect x="788.8" y="704.9" width="1.1" height="1.1" fill="#fff" opacity="0.31"/><rect x="785.7" y="713.6" width="0.9" height="0.9" fill="#fff" opacity="0.61"/><rect x="789.3" y="716.7" width="1.2" height="1.2" fill="#fff" opacity="0.80"/><rect x="800.7" y="720.0" width="1.3" height="1.3" fill="#fff" opacity="0.72"/><rect x="806.3" y="696.7" width="1.2" height="1.2" fill="#fff" opacity="0.53"/><rect x="790.6" y="714.4" width="0.8" height="0.8" fill="#fff" opacity="0.42"/><rect x="790.6" y="711.8" width="0.9" height="0.9" fill="#fff" opacity="0.57"/><rect x="791.6" y="724.2" width="0.8" height="0.8" fill="#fff" opacity="0.80"/><rect x="790.0" y="702.5" width="0.9" height="0.9" fill="#fff" opacity="0.20"/><rect x="811.0" y="726.8" width="0.7" height="0.7" fill="#fff" opacity="0.35"/><rect x="797.0" y="686.0" width="1.0" height="1.0" fill="#fff" opacity="0.48"/><rect x="797.7" y="728.0" width="1.2" height="1.2" fill="#fff" opacity="0.37"/><rect x="791.7" y="722.1" width="1.1" height="1.1" fill="#fff" opacity="0.64"/><rect x="783.7" y="715.8" width="1.0" height="1.0" fill="#fff" opacity="0.87"/><rect x="798.2" y="713.0" width="0.9" height="0.9" fill="#fff" opacity="0.25"/><rect x="781.9" y="729.0" width="0.9" height="0.9" fill="#fff" opacity="0.20"/><rect x="788.5" y="712.3" width="1.1" height="1.1" fill="#fff" opacity="0.41"/><rect x="792.0" y="713.5" width="0.8" height="0.8" fill="#fff" opacity="0.43"/><rect x="785.5" y="696.0" width="0.8" height="0.8" fill="#fff" opacity="0.36"/><rect x="798.1" y="722.5" width="0.7" height="0.7" fill="#fff" opacity="0.68"/><rect x="791.3" y="717.5" width="0.6" height="0.6" fill="#fff" opacity="0.87"/><rect x="791.2" y="714.1" width="1.1" height="1.1" fill="#fff" opacity="0.80"/><rect x="785.5" y="729.0" width="1.0" height="1.0" fill="#fff" opacity="0.17"/><rect x="818.0" y="733.6" width="0.7" height="0.7" fill="#fff" opacity="0.34"/><rect x="792.0" y="713.0" width="1.0" height="1.0" fill="#fff" opacity="0.75"/><rect x="783.4" y="732.0" width="0.9" height="0.9" fill="#fff" opacity="0.68"/><rect x="798.3" y="734.0" width="0.7" height="0.7" fill="#fff" opacity="0.50"/><rect x="798.6" y="708.5" width="0.9" height="0.9" fill="#fff" opacity="0.89"/><rect x="792.8" y="719.3" width="0.8" height="0.8" fill="#fff" opacity="0.88"/><rect x="755.4" y="733.1" width="0.6" height="0.6" fill="#fff" opacity="0.06"/><rect x="824.6" y="721.4" width="0.7" height="0.7" fill="#fff" opacity="0.30"/><rect x="784.4" y="710.9" width="1.2" height="1.2" fill="#fff" opacity="0.79"/><rect x="787.8" y="723.7" width="0.7" height="0.7" fill="#fff" opacity="0.36"/><rect x="794.9" y="716.4" width="0.6" height="0.6" fill="#fff" opacity="0.49"/><rect x="775.8" y="702.9" width="1.1" height="1.1" fill="#fff" opacity="0.53"/><rect x="795.4" y="699.4" width="0.8" height="0.8" fill="#fff" opacity="0.27"/><rect x="795.9" y="720.3" width="0.9" height="0.9" fill="#fff" opacity="0.86"/><rect x="778.5" y="696.7" width="0.8" height="0.8" fill="#fff" opacity="0.54"/><rect x="778.8" y="701.7" width="1.1" height="1.1" fill="#fff" opacity="0.39"/><rect x="794.4" y="726.2" width="1.0" height="1.0" fill="#fff" opacity="0.45"/><rect x="794.9" y="729.4" width="0.9" height="0.9" fill="#fff" opacity="0.57"/><rect x="797.0" y="709.5" width="1.3" height="1.3" fill="#fff" opacity="0.51"/><rect x="795.5" y="713.7" width="0.7" height="0.7" fill="#fff" opacity="0.47"/><rect x="796.3" y="704.4" width="0.8" height="0.8" fill="#fff" opacity="0.38"/><rect x="804.7" y="718.9" width="0.6" height="0.6" fill="#fff" opacity="0.67"/><rect x="775.0" y="721.1" width="0.7" height="0.7" fill="#fff" opacity="0.37"/><rect x="796.7" y="710.5" width="1.2" height="1.2" fill="#fff" opacity="0.35"/><rect x="770.0" y="704.8" width="0.7" height="0.7" fill="#fff" opacity="0.34"/><rect x="781.7" y="702.8" width="1.3" height="1.3" fill="#fff" opacity="0.28"/><rect x="789.0" y="718.7" width="1.1" height="1.1" fill="#fff" opacity="0.58"/><rect x="792.3" y="713.6" width="0.6" height="0.6" fill="#fff" opacity="0.73"/><rect x="789.0" y="735.0" width="0.9" height="0.9" fill="#fff" opacity="0.32"/><rect x="794.9" y="712.7" width="0.8" height="0.8" fill="#fff" opacity="0.69"/><rect x="813.2" y="720.8" width="0.7" height="0.7" fill="#fff" opacity="0.25"/><rect x="784.3" y="707.7" width="1.2" height="1.2" fill="#fff" opacity="0.46"/><rect x="798.0" y="711.6" width="1.1" height="1.1" fill="#fff" opacity="0.34"/><rect x="784.4" y="711.1" width="0.9" height="0.9" fill="#fff" opacity="0.85"/><rect x="800.1" y="712.1" width="0.8" height="0.8" fill="#fff" opacity="0.82"/><rect x="788.5" y="701.0" width="1.0" height="1.0" fill="#fff" opacity="0.79"/><rect x="801.2" y="702.4" width="0.8" height="0.8" fill="#fff" opacity="0.17"/><rect x="789.5" y="721.0" width="0.8" height="0.8" fill="#fff" opacity="0.61"/><rect x="792.7" y="714.7" width="0.8" height="0.8" fill="#fff" opacity="0.48"/><rect x="812.2" y="682.5" width="1.0" height="1.0" fill="#fff" opacity="0.12"/><rect x="792.2" y="714.1" width="1.0" height="1.0" fill="#fff" opacity="0.32"/><rect x="787.9" y="711.4" width="0.7" height="0.7" fill="#fff" opacity="0.89"/><rect x="780.2" y="706.8" width="0.9" height="0.9" fill="#fff" opacity="0.48"/><rect x="808.3" y="702.6" width="1.0" height="1.0" fill="#fff" opacity="0.66"/><rect x="789.9" y="711.8" width="1.2" height="1.2" fill="#fff" opacity="0.81"/><rect x="787.9" y="714.8" width="0.9" height="0.9" fill="#fff" opacity="0.57"/><rect x="793.3" y="714.2" width="0.8" height="0.8" fill="#fff" opacity="0.70"/><rect x="772.7" y="718.2" width="1.1" height="1.1" fill="#fff" opacity="0.41"/><rect x="796.1" y="715.1" width="1.2" height="1.2" fill="#fff" opacity="0.44"/><rect x="801.6" y="707.0" width="1.1" height="1.1" fill="#fff" opacity="0.27"/><rect x="811.2" y="695.3" width="1.0" height="1.0" fill="#fff" opacity="0.38"/><rect x="783.5" y="713.6" width="1.2" height="1.2" fill="#fff" opacity="0.27"/><rect x="787.8" y="716.9" width="1.0" height="1.0" fill="#fff" opacity="0.47"/><rect x="790.4" y="713.9" width="1.2" height="1.2" fill="#fff" opacity="0.73"/><rect x="782.7" y="726.5" width="0.9" height="0.9" fill="#fff" opacity="0.47"/><rect x="791.7" y="713.7" width="1.1" height="1.1" fill="#fff" opacity="0.51"/><rect x="793.2" y="720.2" width="1.2" height="1.2" fill="#fff" opacity="0.37"/><rect x="787.8" y="705.8" width="1.0" height="1.0" fill="#fff" opacity="0.38"/><rect x="797.0" y="728.2" width="1.3" height="1.3" fill="#fff" opacity="0.17"/><rect x="789.0" y="698.1" width="1.2" height="1.2" fill="#fff" opacity="0.59"/><rect x="798.6" y="726.1" width="0.8" height="0.8" fill="#fff" opacity="0.48"/><rect x="791.9" y="713.9" width="0.9" height="0.9" fill="#fff" opacity="0.52"/><rect x="792.3" y="711.3" width="0.8" height="0.8" fill="#fff" opacity="0.90"/><rect x="806.2" y="725.6" width="0.7" height="0.7" fill="#fff" opacity="0.26"/><rect x="804.0" y="701.3" width="1.1" height="1.1" fill="#fff" opacity="0.55"/><rect x="793.2" y="717.8" width="1.0" height="1.0" fill="#fff" opacity="0.47"/><rect x="807.0" y="716.6" width="0.7" height="0.7" fill="#fff" opacity="0.61"/><rect x="802.5" y="697.2" width="1.0" height="1.0" fill="#fff" opacity="0.68"/><rect x="793.7" y="706.6" width="0.9" height="0.9" fill="#fff" opacity="0.87"/><rect x="805.6" y="692.6" width="0.9" height="0.9" fill="#fff" opacity="0.19"/><rect x="784.7" y="694.4" width="1.3" height="1.3" fill="#fff" opacity="0.34"/><rect x="796.0" y="715.3" width="1.0" height="1.0" fill="#fff" opacity="0.45"/><rect x="796.0" y="710.7" width="0.8" height="0.8" fill="#fff" opacity="0.25"/><rect x="771.7" y="713.7" width="0.7" height="0.7" fill="#fff" opacity="0.36"/><rect x="791.9" y="714.9" width="1.2" height="1.2" fill="#fff" opacity="0.42"/><rect x="804.2" y="709.7" width="1.1" height="1.1" fill="#fff" opacity="0.59"/><rect x="787.0" y="690.2" width="1.1" height="1.1" fill="#fff" opacity="0.14"/><rect x="773.5" y="732.1" width="0.6" height="0.6" fill="#fff" opacity="0.28"/><rect x="795.6" y="719.5" width="0.6" height="0.6" fill="#fff" opacity="0.45"/><rect x="791.5" y="713.9" width="1.1" height="1.1" fill="#fff" opacity="0.41"/><rect x="790.2" y="716.2" width="1.2" height="1.2" fill="#fff" opacity="0.71"/><rect x="792.9" y="714.4" width="1.0" height="1.0" fill="#fff" opacity="0.29"/><rect x="794.6" y="679.5" width="0.8" height="0.8" fill="#fff" opacity="0.15"/><rect x="789.1" y="712.5" width="1.2" height="1.2" fill="#fff" opacity="0.81"/><rect x="781.3" y="710.1" width="1.0" height="1.0" fill="#fff" opacity="0.42"/><rect x="793.1" y="710.5" width="1.3" height="1.3" fill="#fff" opacity="0.66"/><rect x="791.2" y="716.6" width="1.1" height="1.1" fill="#fff" opacity="0.77"/><rect x="819.6" y="714.1" width="0.7" height="0.7" fill="#fff" opacity="0.36"/><rect x="787.1" y="716.4" width="1.1" height="1.1" fill="#fff" opacity="0.37"/><rect x="791.6" y="713.3" width="1.0" height="1.0" fill="#fff" opacity="0.60"/><rect x="790.7" y="719.4" width="0.8" height="0.8" fill="#fff" opacity="0.21"/><rect x="791.0" y="713.0" width="1.1" height="1.1" fill="#fff" opacity="0.45"/><rect x="801.8" y="708.9" width="0.8" height="0.8" fill="#fff" opacity="0.81"/><rect x="790.3" y="719.5" width="1.3" height="1.3" fill="#fff" opacity="0.27"/><rect x="771.9" y="735.8" width="1.1" height="1.1" fill="#fff" opacity="0.44"/><rect x="803.1" y="687.4" width="0.6" height="0.6" fill="#fff" opacity="0.11"/><rect x="783.1" y="704.8" width="1.3" height="1.3" fill="#fff" opacity="0.22"/><rect x="797.1" y="682.0" width="0.9" height="0.9" fill="#fff" opacity="0.33"/><rect x="799.3" y="701.9" width="0.7" height="0.7" fill="#fff" opacity="0.54"/><rect x="792.2" y="706.5" width="0.7" height="0.7" fill="#fff" opacity="0.45"/><rect x="786.3" y="714.4" width="1.2" height="1.2" fill="#fff" opacity="0.74"/><rect x="780.8" y="735.9" width="1.1" height="1.1" fill="#fff" opacity="0.36"/><rect x="796.5" y="702.2" width="1.1" height="1.1" fill="#fff" opacity="0.42"/><rect x="794.8" y="724.0" width="0.7" height="0.7" fill="#fff" opacity="0.29"/><rect x="790.5" y="707.4" width="0.8" height="0.8" fill="#fff" opacity="0.81"/><rect x="788.7" y="729.4" width="1.3" height="1.3" fill="#fff" opacity="0.31"/><rect x="807.4" y="707.6" width="0.6" height="0.6" fill="#fff" opacity="0.22"/><rect x="803.7" y="719.6" width="0.9" height="0.9" fill="#fff" opacity="0.55"/><rect x="798.3" y="711.6" width="1.0" height="1.0" fill="#fff" opacity="0.60"/><rect x="794.0" y="710.5" width="0.8" height="0.8" fill="#fff" opacity="0.40"/><rect x="777.3" y="728.1" width="0.9" height="0.9" fill="#fff" opacity="0.43"/><rect x="780.3" y="706.6" width="0.8" height="0.8" fill="#fff" opacity="0.49"/><rect x="788.9" y="726.1" width="1.0" height="1.0" fill="#fff" opacity="0.42"/><rect x="781.5" y="720.4" width="0.8" height="0.8" fill="#fff" opacity="0.79"/><rect x="803.1" y="714.2" width="0.9" height="0.9" fill="#fff" opacity="0.67"/><rect x="794.2" y="714.3" width="0.7" height="0.7" fill="#fff" opacity="0.85"/><rect x="786.0" y="726.7" width="0.7" height="0.7" fill="#fff" opacity="0.36"/><rect x="800.3" y="713.0" width="1.2" height="1.2" fill="#fff" opacity="0.31"/><rect x="797.2" y="690.6" width="0.8" height="0.8" fill="#fff" opacity="0.56"/><rect x="803.8" y="723.1" width="1.1" height="1.1" fill="#fff" opacity="0.69"/><rect x="809.0" y="725.6" width="1.0" height="1.0" fill="#fff" opacity="0.33"/><rect x="835.4" y="716.7" width="1.0" height="1.0" fill="#fff" opacity="0.15"/><rect x="786.5" y="719.4" width="0.8" height="0.8" fill="#fff" opacity="0.85"/><rect x="781.3" y="704.3" width="0.7" height="0.7" fill="#fff" opacity="0.31"/><rect x="766.7" y="726.3" width="1.1" height="1.1" fill="#fff" opacity="0.23"/><rect x="791.3" y="693.4" width="1.0" height="1.0" fill="#fff" opacity="0.63"/><rect x="766.9" y="694.1" width="1.0" height="1.0" fill="#fff" opacity="0.23"/><rect x="777.6" y="712.7" width="0.7" height="0.7" fill="#fff" opacity="0.59"/><rect x="791.3" y="707.4" width="0.6" height="0.6" fill="#fff" opacity="0.53"/><rect x="801.3" y="719.1" width="1.2" height="1.2" fill="#fff" opacity="0.33"/><rect x="783.4" y="703.9" width="0.6" height="0.6" fill="#fff" opacity="0.83"/><rect x="789.4" y="713.2" width="0.7" height="0.7" fill="#fff" opacity="0.57"/><rect x="798.1" y="708.7" width="0.7" height="0.7" fill="#fff" opacity="0.64"/><rect x="803.4" y="711.8" width="1.3" height="1.3" fill="#fff" opacity="0.47"/><rect x="790.1" y="712.1" width="1.1" height="1.1" fill="#fff" opacity="0.57"/><rect x="792.7" y="716.1" width="0.9" height="0.9" fill="#fff" opacity="0.26"/><rect x="783.3" y="733.8" width="1.2" height="1.2" fill="#fff" opacity="0.60"/><rect x="799.7" y="717.0" width="1.3" height="1.3" fill="#fff" opacity="0.84"/><rect x="806.9" y="726.3" width="1.2" height="1.2" fill="#fff" opacity="0.42"/><rect x="791.0" y="712.8" width="0.9" height="0.9" fill="#fff" opacity="0.88"/><rect x="768.9" y="724.5" width="1.3" height="1.3" fill="#fff" opacity="0.59"/><rect x="789.1" y="715.6" width="0.8" height="0.8" fill="#fff" opacity="0.94"/><rect x="797.7" y="721.5" width="1.1" height="1.1" fill="#fff" opacity="0.42"/><rect x="804.5" y="703.3" width="0.8" height="0.8" fill="#fff" opacity="0.62"/><rect x="790.2" y="717.1" width="0.8" height="0.8" fill="#fff" opacity="0.62"/><rect x="802.9" y="709.0" width="0.9" height="0.9" fill="#fff" opacity="0.31"/><rect x="792.1" y="711.8" width="0.7" height="0.7" fill="#fff" opacity="0.69"/><rect x="779.8" y="739.0" width="0.7" height="0.7" fill="#fff" opacity="0.18"/><rect x="773.9" y="724.4" width="1.3" height="1.3" fill="#fff" opacity="0.61"/><rect x="791.3" y="711.0" width="0.9" height="0.9" fill="#fff" opacity="0.61"/><rect x="794.9" y="714.3" width="0.8" height="0.8" fill="#fff" opacity="0.92"/><rect x="785.4" y="705.7" width="0.9" height="0.9" fill="#fff" opacity="0.48"/><rect x="800.6" y="716.7" width="1.3" height="1.3" fill="#fff" opacity="0.60"/><rect x="792.1" y="714.8" width="1.2" height="1.2" fill="#fff" opacity="0.26"/><rect x="787.3" y="710.3" width="1.0" height="1.0" fill="#fff" opacity="0.69"/><rect x="792.0" y="717.2" width="1.0" height="1.0" fill="#fff" opacity="0.93"/><rect x="795.6" y="712.7" width="1.3" height="1.3" fill="#fff" opacity="0.28"/><rect x="793.7" y="719.4" width="0.7" height="0.7" fill="#fff" opacity="0.82"/><rect x="785.6" y="703.6" width="1.1" height="1.1" fill="#fff" opacity="0.34"/><rect x="788.0" y="718.7" width="1.2" height="1.2" fill="#fff" opacity="0.23"/><rect x="810.4" y="720.7" width="0.8" height="0.8" fill="#fff" opacity="0.58"/><rect x="781.1" y="701.4" width="1.3" height="1.3" fill="#fff" opacity="0.61"/><rect x="779.4" y="701.1" width="0.8" height="0.8" fill="#fff" opacity="0.63"/><rect x="793.8" y="706.7" width="0.9" height="0.9" fill="#fff" opacity="0.75"/><rect x="796.0" y="718.2" width="1.1" height="1.1" fill="#fff" opacity="0.73"/><rect x="794.9" y="710.4" width="0.9" height="0.9" fill="#fff" opacity="0.30"/><rect x="789.5" y="715.2" width="1.1" height="1.1" fill="#fff" opacity="0.44"/><rect x="797.8" y="711.9" width="0.9" height="0.9" fill="#fff" opacity="0.30"/><rect x="788.1" y="715.0" width="1.1" height="1.1" fill="#fff" opacity="0.32"/><rect x="792.1" y="713.5" width="0.7" height="0.7" fill="#fff" opacity="0.39"/><rect x="797.1" y="714.1" width="1.3" height="1.3" fill="#fff" opacity="0.20"/><rect x="778.5" y="727.6" width="1.3" height="1.3" fill="#fff" opacity="0.15"/><rect x="786.1" y="708.6" width="0.6" height="0.6" fill="#fff" opacity="0.85"/><rect x="784.8" y="709.3" width="0.8" height="0.8" fill="#fff" opacity="0.51"/><rect x="792.6" y="703.9" width="1.1" height="1.1" fill="#fff" opacity="0.33"/><rect x="783.1" y="706.7" width="0.8" height="0.8" fill="#fff" opacity="0.34"/><rect x="797.7" y="714.2" width="1.0" height="1.0" fill="#fff" opacity="0.56"/><rect x="810.9" y="703.6" width="1.0" height="1.0" fill="#fff" opacity="0.34"/><rect x="795.0" y="710.9" width="0.8" height="0.8" fill="#fff" opacity="0.60"/><rect x="789.0" y="710.4" width="0.8" height="0.8" fill="#fff" opacity="0.30"/><rect x="798.7" y="712.0" width="0.8" height="0.8" fill="#fff" opacity="0.66"/><rect x="799.4" y="736.1" width="1.2" height="1.2" fill="#fff" opacity="0.14"/><rect x="797.4" y="704.7" width="0.9" height="0.9" fill="#fff" opacity="0.28"/><rect x="793.9" y="715.0" width="1.0" height="1.0" fill="#fff" opacity="0.81"/><rect x="794.7" y="715.6" width="1.0" height="1.0" fill="#fff" opacity="0.41"/><rect x="797.1" y="702.5" width="1.1" height="1.1" fill="#fff" opacity="0.36"/><rect x="804.5" y="725.0" width="0.6" height="0.6" fill="#fff" opacity="0.33"/><rect x="803.3" y="701.2" width="0.7" height="0.7" fill="#fff" opacity="0.59"/><rect x="794.6" y="710.2" width="1.2" height="1.2" fill="#fff" opacity="0.65"/><rect x="786.8" y="720.4" width="0.6" height="0.6" fill="#fff" opacity="0.38"/><rect x="793.5" y="714.8" width="1.2" height="1.2" fill="#fff" opacity="0.78"/><rect x="786.7" y="701.7" width="0.7" height="0.7" fill="#fff" opacity="0.45"/><rect x="788.2" y="702.3" width="1.0" height="1.0" fill="#fff" opacity="0.80"/><rect x="786.1" y="707.8" width="0.7" height="0.7" fill="#fff" opacity="0.55"/><rect x="791.0" y="713.0" width="0.8" height="0.8" fill="#fff" opacity="0.37"/><rect x="799.1" y="718.8" width="1.0" height="1.0" fill="#fff" opacity="0.69"/><rect x="782.4" y="704.5" width="0.7" height="0.7" fill="#fff" opacity="0.27"/><rect x="798.4" y="711.3" width="1.1" height="1.1" fill="#fff" opacity="0.62"/><rect x="800.7" y="733.2" width="1.0" height="1.0" fill="#fff" opacity="0.46"/><rect x="780.4" y="730.7" width="0.9" height="0.9" fill="#fff" opacity="0.17"/><rect x="803.2" y="713.6" width="1.2" height="1.2" fill="#fff" opacity="0.30"/><rect x="776.8" y="711.1" width="1.1" height="1.1" fill="#fff" opacity="0.33"/><rect x="797.3" y="707.1" width="1.2" height="1.2" fill="#fff" opacity="0.26"/><rect x="804.1" y="717.7" width="0.8" height="0.8" fill="#fff" opacity="0.60"/><rect x="785.7" y="723.4" width="0.8" height="0.8" fill="#fff" opacity="0.38"/><rect x="797.2" y="714.8" width="0.7" height="0.7" fill="#fff" opacity="0.40"/><rect x="798.5" y="716.9" width="0.6" height="0.6" fill="#fff" opacity="0.26"/><rect x="794.2" y="709.0" width="1.0" height="1.0" fill="#fff" opacity="0.59"/><rect x="794.9" y="709.2" width="1.1" height="1.1" fill="#fff" opacity="0.69"/><rect x="781.0" y="727.3" width="1.3" height="1.3" fill="#fff" opacity="0.73"/><rect x="795.0" y="714.2" width="1.2" height="1.2" fill="#fff" opacity="0.67"/><rect x="792.6" y="719.1" width="0.7" height="0.7" fill="#fff" opacity="0.42"/><rect x="812.2" y="721.9" width="0.7" height="0.7" fill="#fff" opacity="0.37"/><rect x="803.8" y="712.6" width="1.2" height="1.2" fill="#fff" opacity="0.24"/><rect x="795.2" y="709.4" width="0.9" height="0.9" fill="#fff" opacity="0.40"/><rect x="799.4" y="712.5" width="1.2" height="1.2" fill="#fff" opacity="0.58"/><rect x="776.2" y="734.8" width="0.8" height="0.8" fill="#fff" opacity="0.50"/><rect x="794.1" y="711.3" width="0.7" height="0.7" fill="#fff" opacity="0.21"/><rect x="785.0" y="714.4" width="0.8" height="0.8" fill="#fff" opacity="0.68"/><rect x="774.8" y="704.8" width="1.1" height="1.1" fill="#fff" opacity="0.23"/><rect x="791.0" y="713.7" width="1.2" height="1.2" fill="#fff" opacity="0.70"/><rect x="800.5" y="677.0" width="1.2" height="1.2" fill="#fff" opacity="0.24"/><rect x="789.7" y="713.3" width="0.7" height="0.7" fill="#fff" opacity="0.64"/><rect x="798.8" y="720.0" width="1.1" height="1.1" fill="#fff" opacity="0.28"/><rect x="781.7" y="725.5" width="0.7" height="0.7" fill="#fff" opacity="0.62"/><rect x="795.0" y="718.7" width="1.0" height="1.0" fill="#fff" opacity="0.36"/><rect x="808.1" y="703.8" width="0.8" height="0.8" fill="#fff" opacity="0.58"/><rect x="774.6" y="726.7" width="0.9" height="0.9" fill="#fff" opacity="0.25"/><rect x="807.2" y="726.4" width="0.8" height="0.8" fill="#fff" opacity="0.42"/><rect x="791.8" y="717.3" width="1.2" height="1.2" fill="#fff" opacity="0.29"/><rect x="791.9" y="701.0" width="1.0" height="1.0" fill="#fff" opacity="0.47"/><rect x="797.5" y="700.6" width="0.8" height="0.8" fill="#fff" opacity="0.29"/><rect x="815.0" y="719.1" width="1.2" height="1.2" fill="#fff" opacity="0.56"/><rect x="804.5" y="703.5" width="1.2" height="1.2" fill="#fff" opacity="0.51"/><rect x="787.9" y="714.8" width="0.9" height="0.9" fill="#fff" opacity="0.37"/><rect x="791.1" y="721.9" width="1.1" height="1.1" fill="#fff" opacity="0.56"/><rect x="789.7" y="713.9" width="0.6" height="0.6" fill="#fff" opacity="0.39"/><rect x="778.9" y="703.1" width="0.7" height="0.7" fill="#fff" opacity="0.62"/><rect x="777.7" y="680.7" width="0.9" height="0.9" fill="#fff" opacity="0.26"/><rect x="787.8" y="703.4" width="1.0" height="1.0" fill="#fff" opacity="0.19"/><rect x="792.7" y="720.0" width="0.9" height="0.9" fill="#fff" opacity="0.57"/><rect x="788.0" y="716.7" width="0.7" height="0.7" fill="#fff" opacity="0.58"/><rect x="790.6" y="717.9" width="1.2" height="1.2" fill="#fff" opacity="0.88"/><rect x="770.2" y="718.4" width="1.2" height="1.2" fill="#fff" opacity="0.66"/><rect x="790.8" y="700.7" width="1.2" height="1.2" fill="#fff" opacity="0.58"/><rect x="788.4" y="716.2" width="0.8" height="0.8" fill="#fff" opacity="0.74"/><rect x="797.8" y="706.4" width="1.3" height="1.3" fill="#fff" opacity="0.53"/><rect x="816.3" y="725.8" width="1.3" height="1.3" fill="#fff" opacity="0.43"/><rect x="796.3" y="695.5" width="1.1" height="1.1" fill="#fff" opacity="0.64"/><rect x="790.2" y="720.6" width="0.7" height="0.7" fill="#fff" opacity="0.71"/><rect x="781.8" y="698.8" width="0.8" height="0.8" fill="#fff" opacity="0.72"/><rect x="789.5" y="708.3" width="0.6" height="0.6" fill="#fff" opacity="0.54"/><rect x="793.5" y="727.2" width="1.0" height="1.0" fill="#fff" opacity="0.42"/><rect x="786.0" y="707.1" width="1.1" height="1.1" fill="#fff" opacity="0.70"/><rect x="784.0" y="745.1" width="0.7" height="0.7" fill="#fff" opacity="0.15"/><rect x="796.2" y="706.6" width="0.6" height="0.6" fill="#fff" opacity="0.27"/><rect x="780.6" y="730.2" width="1.0" height="1.0" fill="#fff" opacity="0.53"/><rect x="782.5" y="720.9" width="0.7" height="0.7" fill="#fff" opacity="0.21"/><rect x="791.8" y="714.3" width="0.6" height="0.6" fill="#fff" opacity="0.23"/><rect x="780.9" y="702.3" width="1.1" height="1.1" fill="#fff" opacity="0.66"/><rect x="784.5" y="719.9" width="0.9" height="0.9" fill="#fff" opacity="0.80"/><rect x="785.2" y="709.2" width="1.1" height="1.1" fill="#fff" opacity="0.63"/><rect x="785.8" y="706.2" width="1.0" height="1.0" fill="#fff" opacity="0.74"/><rect x="789.8" y="714.8" width="1.2" height="1.2" fill="#fff" opacity="0.93"/><rect x="768.2" y="710.3" width="1.0" height="1.0" fill="#fff" opacity="0.57"/><rect x="774.7" y="683.7" width="1.3" height="1.3" fill="#fff" opacity="0.23"/><rect x="792.7" y="714.8" width="1.2" height="1.2" fill="#fff" opacity="0.39"/><rect x="775.8" y="707.4" width="0.9" height="0.9" fill="#fff" opacity="0.29"/><rect x="787.6" y="712.5" width="1.0" height="1.0" fill="#fff" opacity="0.54"/><rect x="793.7" y="716.4" width="1.1" height="1.1" fill="#fff" opacity="0.61"/><rect x="760.5" y="716.8" width="1.0" height="1.0" fill="#fff" opacity="0.32"/><rect x="794.1" y="718.0" width="1.1" height="1.1" fill="#fff" opacity="0.84"/><rect x="791.7" y="714.0" width="0.6" height="0.6" fill="#fff" opacity="0.94"/><rect x="795.0" y="710.4" width="0.9" height="0.9" fill="#fff" opacity="0.69"/><rect x="781.8" y="711.8" width="1.2" height="1.2" fill="#fff" opacity="0.87"/><rect x="795.1" y="715.0" width="1.3" height="1.3" fill="#fff" opacity="0.66"/><rect x="799.5" y="726.3" width="0.7" height="0.7" fill="#fff" opacity="0.76"/><rect x="797.3" y="706.0" width="1.2" height="1.2" fill="#fff" opacity="0.63"/><rect x="794.7" y="715.7" width="0.6" height="0.6" fill="#fff" opacity="0.86"/><rect x="787.7" y="712.8" width="1.1" height="1.1" fill="#fff" opacity="0.44"/><rect x="785.4" y="715.2" width="1.1" height="1.1" fill="#fff" opacity="0.89"/><rect x="792.2" y="714.1" width="1.1" height="1.1" fill="#fff" opacity="0.40"/><rect x="798.1" y="695.4" width="0.8" height="0.8" fill="#fff" opacity="0.17"/><rect x="808.5" y="703.8" width="0.6" height="0.6" fill="#fff" opacity="0.43"/><rect x="793.9" y="715.4" width="1.2" height="1.2" fill="#fff" opacity="0.39"/><rect x="796.6" y="712.0" width="1.2" height="1.2" fill="#fff" opacity="0.27"/><rect x="792.8" y="705.6" width="1.0" height="1.0" fill="#fff" opacity="0.67"/><rect x="783.2" y="722.0" width="0.8" height="0.8" fill="#fff" opacity="0.52"/><rect x="772.6" y="716.0" width="0.7" height="0.7" fill="#fff" opacity="0.20"/><rect x="780.6" y="716.9" width="0.8" height="0.8" fill="#fff" opacity="0.73"/><rect x="785.0" y="695.4" width="1.0" height="1.0" fill="#fff" opacity="0.52"/><rect x="770.4" y="701.4" width="0.9" height="0.9" fill="#fff" opacity="0.57"/><rect x="800.2" y="729.7" width="1.1" height="1.1" fill="#fff" opacity="0.40"/><rect x="799.0" y="710.9" width="1.1" height="1.1" fill="#fff" opacity="0.75"/><rect x="789.6" y="719.8" width="0.8" height="0.8" fill="#fff" opacity="0.32"/><rect x="796.7" y="738.8" width="0.7" height="0.7" fill="#fff" opacity="0.46"/><rect x="782.1" y="716.1" width="1.1" height="1.1" fill="#fff" opacity="0.35"/><rect x="794.9" y="714.5" width="1.3" height="1.3" fill="#fff" opacity="0.90"/><rect x="792.9" y="698.9" width="1.1" height="1.1" fill="#fff" opacity="0.34"/><rect x="788.3" y="719.6" width="1.2" height="1.2" fill="#fff" opacity="0.78"/><rect x="800.7" y="715.8" width="1.1" height="1.1" fill="#fff" opacity="0.34"/><rect x="791.9" y="711.9" width="0.6" height="0.6" fill="#fff" opacity="0.60"/><rect x="771.2" y="717.4" width="1.0" height="1.0" fill="#fff" opacity="0.40"/><rect x="794.6" y="715.3" width="0.7" height="0.7" fill="#fff" opacity="0.61"/><rect x="790.0" y="718.9" width="1.1" height="1.1" fill="#fff" opacity="0.71"/><rect x="808.4" y="704.5" width="0.7" height="0.7" fill="#fff" opacity="0.68"/><rect x="788.7" y="701.3" width="1.3" height="1.3" fill="#fff" opacity="0.54"/><rect x="794.8" y="705.5" width="0.9" height="0.9" fill="#fff" opacity="0.64"/><rect x="815.6" y="715.8" width="0.9" height="0.9" fill="#fff" opacity="0.55"/><rect x="788.8" y="729.7" width="0.7" height="0.7" fill="#fff" opacity="0.31"/><rect x="792.1" y="714.6" width="1.2" height="1.2" fill="#fff" opacity="0.84"/><rect x="783.8" y="724.0" width="0.9" height="0.9" fill="#fff" opacity="0.26"/><rect x="761.2" y="724.7" width="0.7" height="0.7" fill="#fff" opacity="0.12"/><rect x="810.9" y="726.2" width="1.2" height="1.2" fill="#fff" opacity="0.50"/><rect x="795.5" y="718.2" width="0.9" height="0.9" fill="#fff" opacity="0.68"/><rect x="791.4" y="706.5" width="1.1" height="1.1" fill="#fff" opacity="0.32"/><rect x="793.7" y="713.6" width="0.6" height="0.6" fill="#fff" opacity="0.75"/><rect x="792.7" y="702.1" width="0.9" height="0.9" fill="#fff" opacity="0.55"/><rect x="799.2" y="700.7" width="0.9" height="0.9" fill="#fff" opacity="0.47"/><rect x="792.0" y="714.4" width="1.0" height="1.0" fill="#fff" opacity="0.35"/><rect x="773.0" y="690.1" width="1.0" height="1.0" fill="#fff" opacity="0.28"/><rect x="785.1" y="707.9" width="0.8" height="0.8" fill="#fff" opacity="0.49"/><rect x="790.8" y="719.0" width="1.3" height="1.3" fill="#fff" opacity="0.62"/><rect x="808.0" y="690.9" width="0.9" height="0.9" fill="#fff" opacity="0.42"/><rect x="785.2" y="726.7" width="0.8" height="0.8" fill="#fff" opacity="0.45"/><rect x="787.5" y="715.0" width="1.3" height="1.3" fill="#fff" opacity="0.43"/><rect x="791.0" y="719.8" width="0.9" height="0.9" fill="#fff" opacity="0.44"/><rect x="792.9" y="714.8" width="0.7" height="0.7" fill="#fff" opacity="0.62"/><rect x="800.1" y="697.0" width="0.6" height="0.6" fill="#fff" opacity="0.46"/><rect x="794.6" y="715.6" width="0.9" height="0.9" fill="#fff" opacity="0.30"/><rect x="789.1" y="716.3" width="1.1" height="1.1" fill="#fff" opacity="0.49"/><rect x="805.2" y="692.6" width="1.2" height="1.2" fill="#fff" opacity="0.56"/><rect x="779.7" y="715.3" width="0.7" height="0.7" fill="#fff" opacity="0.47"/><rect x="779.0" y="702.7" width="0.8" height="0.8" fill="#fff" opacity="0.67"/><rect x="791.8" y="697.9" width="1.0" height="1.0" fill="#fff" opacity="0.49"/><rect x="791.6" y="717.5" width="0.6" height="0.6" fill="#fff" opacity="0.43"/><rect x="779.7" y="721.7" width="0.8" height="0.8" fill="#fff" opacity="0.26"/><rect x="778.9" y="716.5" width="1.1" height="1.1" fill="#fff" opacity="0.28"/><rect x="787.7" y="712.6" width="1.1" height="1.1" fill="#fff" opacity="0.41"/><rect x="798.5" y="723.2" width="0.7" height="0.7" fill="#fff" opacity="0.18"/><rect x="788.9" y="733.1" width="1.2" height="1.2" fill="#fff" opacity="0.26"/><rect x="773.0" y="709.1" width="0.7" height="0.7" fill="#fff" opacity="0.19"/><rect x="792.4" y="715.5" width="0.9" height="0.9" fill="#fff" opacity="0.52"/><rect x="795.8" y="718.2" width="1.0" height="1.0" fill="#fff" opacity="0.58"/><rect x="788.4" y="718.5" width="0.9" height="0.9" fill="#fff" opacity="0.73"/><rect x="809.5" y="722.4" width="1.2" height="1.2" fill="#fff" opacity="0.60"/><rect x="792.2" y="728.3" width="0.6" height="0.6" fill="#fff" opacity="0.69"/><rect x="796.0" y="709.7" width="1.2" height="1.2" fill="#fff" opacity="0.58"/><rect x="766.4" y="700.8" width="1.2" height="1.2" fill="#fff" opacity="0.17"/><rect x="811.5" y="706.2" width="0.8" height="0.8" fill="#fff" opacity="0.20"/><rect x="799.6" y="722.8" width="1.2" height="1.2" fill="#fff" opacity="0.66"/><rect x="786.6" y="714.1" width="1.0" height="1.0" fill="#fff" opacity="0.49"/><rect x="801.1" y="710.4" width="0.8" height="0.8" fill="#fff" opacity="0.74"/><rect x="792.9" y="711.3" width="0.7" height="0.7" fill="#fff" opacity="0.77"/><rect x="779.7" y="700.8" width="1.3" height="1.3" fill="#fff" opacity="0.71"/><rect x="793.2" y="724.5" width="0.8" height="0.8" fill="#fff" opacity="0.22"/><rect x="808.1" y="702.9" width="0.8" height="0.8" fill="#fff" opacity="0.59"/><rect x="798.4" y="729.3" width="0.6" height="0.6" fill="#fff" opacity="0.48"/><rect x="795.5" y="707.8" width="1.2" height="1.2" fill="#fff" opacity="0.66"/><rect x="809.8" y="733.0" width="0.6" height="0.6" fill="#fff" opacity="0.15"/><rect x="788.5" y="714.6" width="0.7" height="0.7" fill="#fff" opacity="0.76"/><rect x="802.6" y="697.0" width="0.7" height="0.7" fill="#fff" opacity="0.70"/><rect x="793.2" y="703.0" width="1.0" height="1.0" fill="#fff" opacity="0.29"/><rect x="793.4" y="714.5" width="0.9" height="0.9" fill="#fff" opacity="0.60"/><rect x="788.7" y="716.5" width="1.2" height="1.2" fill="#fff" opacity="0.93"/><rect x="788.2" y="718.3" width="1.2" height="1.2" fill="#fff" opacity="0.52"/><rect x="792.6" y="711.7" width="1.1" height="1.1" fill="#fff" opacity="0.29"/><rect x="781.6" y="704.4" width="1.2" height="1.2" fill="#fff" opacity="0.58"/><rect x="789.7" y="720.7" width="0.6" height="0.6" fill="#fff" opacity="0.75"/><rect x="774.6" y="718.8" width="0.6" height="0.6" fill="#fff" opacity="0.39"/><rect x="791.9" y="709.4" width="0.7" height="0.7" fill="#fff" opacity="0.21"/><rect x="793.8" y="720.3" width="0.7" height="0.7" fill="#fff" opacity="0.74"/><rect x="791.9" y="713.9" width="0.7" height="0.7" fill="#fff" opacity="0.26"/><rect x="808.2" y="718.6" width="0.8" height="0.8" fill="#fff" opacity="0.58"/><rect x="776.2" y="729.0" width="1.3" height="1.3" fill="#fff" opacity="0.52"/><rect x="798.2" y="719.4" width="0.8" height="0.8" fill="#fff" opacity="0.64"/><rect x="782.2" y="705.9" width="0.9" height="0.9" fill="#fff" opacity="0.84"/><rect x="790.7" y="702.3" width="0.9" height="0.9" fill="#fff" opacity="0.29"/><rect x="827.7" y="728.3" width="0.8" height="0.8" fill="#fff" opacity="0.22"/><rect x="793.7" y="719.5" width="1.1" height="1.1" fill="#fff" opacity="0.79"/><rect x="787.2" y="717.8" width="1.2" height="1.2" fill="#fff" opacity="0.72"/><rect x="802.3" y="719.5" width="1.1" height="1.1" fill="#fff" opacity="0.42"/><rect x="785.9" y="716.3" width="0.8" height="0.8" fill="#fff" opacity="0.22"/><rect x="802.1" y="731.3" width="0.6" height="0.6" fill="#fff" opacity="0.25"/><rect x="788.3" y="712.9" width="0.7" height="0.7" fill="#fff" opacity="0.28"/><rect x="794.2" y="717.9" width="1.1" height="1.1" fill="#fff" opacity="0.76"/><rect x="791.6" y="713.9" width="1.0" height="1.0" fill="#fff" opacity="0.88"/><rect x="795.6" y="721.2" width="1.2" height="1.2" fill="#fff" opacity="0.43"/><rect x="789.7" y="734.0" width="1.1" height="1.1" fill="#fff" opacity="0.64"/><rect x="781.9" y="704.5" width="0.6" height="0.6" fill="#fff" opacity="0.50"/><rect x="791.9" y="711.7" width="0.9" height="0.9" fill="#fff" opacity="0.92"/><rect x="788.2" y="715.8" width="1.2" height="1.2" fill="#fff" opacity="0.81"/><rect x="792.5" y="713.5" width="0.6" height="0.6" fill="#fff" opacity="0.53"/><rect x="793.6" y="714.8" width="0.7" height="0.7" fill="#fff" opacity="0.66"/><rect x="788.5" y="704.6" width="0.6" height="0.6" fill="#fff" opacity="0.72"/><rect x="782.3" y="711.1" width="0.9" height="0.9" fill="#fff" opacity="0.40"/><rect x="792.5" y="715.9" width="0.8" height="0.8" fill="#fff" opacity="0.86"/><rect x="790.9" y="712.4" width="1.3" height="1.3" fill="#fff" opacity="0.68"/><rect x="788.0" y="711.7" width="1.0" height="1.0" fill="#fff" opacity="0.51"/><rect x="791.8" y="714.6" width="1.0" height="1.0" fill="#fff" opacity="0.92"/><rect x="793.2" y="715.7" width="1.0" height="1.0" fill="#fff" opacity="0.44"/><rect x="801.9" y="706.2" width="1.0" height="1.0" fill="#fff" opacity="0.45"/><rect x="791.1" y="727.0" width="0.7" height="0.7" fill="#fff" opacity="0.25"/><rect x="792.8" y="712.5" width="0.8" height="0.8" fill="#fff" opacity="0.92"/><rect x="782.3" y="723.1" width="0.7" height="0.7" fill="#fff" opacity="0.45"/><rect x="791.7" y="714.0" width="0.7" height="0.7" fill="#fff" opacity="0.56"/><rect x="771.4" y="720.7" width="1.3" height="1.3" fill="#fff" opacity="0.45"/><rect x="794.8" y="689.3" width="1.0" height="1.0" fill="#fff" opacity="0.35"/><rect x="783.7" y="721.7" width="0.6" height="0.6" fill="#fff" opacity="0.85"/><rect x="776.8" y="709.4" width="0.6" height="0.6" fill="#fff" opacity="0.48"/><rect x="791.1" y="713.6" width="1.1" height="1.1" fill="#fff" opacity="0.86"/><rect x="810.5" y="710.7" width="1.0" height="1.0" fill="#fff" opacity="0.37"/><rect x="783.3" y="712.0" width="0.9" height="0.9" fill="#fff" opacity="0.35"/><rect x="792.2" y="714.5" width="0.9" height="0.9" fill="#fff" opacity="0.84"/><rect x="779.1" y="707.7" width="1.2" height="1.2" fill="#fff" opacity="0.25"/><rect x="798.2" y="725.0" width="1.3" height="1.3" fill="#fff" opacity="0.30"/><rect x="789.9" y="710.7" width="1.0" height="1.0" fill="#fff" opacity="0.25"/><rect x="798.4" y="691.4" width="0.9" height="0.9" fill="#fff" opacity="0.49"/><rect x="795.4" y="723.9" width="1.2" height="1.2" fill="#fff" opacity="0.69"/><rect x="798.0" y="729.6" width="1.2" height="1.2" fill="#fff" opacity="0.75"/><rect x="799.1" y="707.4" width="1.2" height="1.2" fill="#fff" opacity="0.24"/><rect x="780.4" y="710.8" width="1.2" height="1.2" fill="#fff" opacity="0.18"/><rect x="794.7" y="714.0" width="0.7" height="0.7" fill="#fff" opacity="0.52"/><rect x="799.6" y="731.6" width="1.1" height="1.1" fill="#fff" opacity="0.30"/><rect x="785.7" y="683.8" width="1.0" height="1.0" fill="#fff" opacity="0.16"/><rect x="778.3" y="723.1" width="0.9" height="0.9" fill="#fff" opacity="0.77"/><rect x="795.4" y="697.4" width="0.7" height="0.7" fill="#fff" opacity="0.74"/><rect x="772.3" y="720.9" width="1.1" height="1.1" fill="#fff" opacity="0.59"/><rect x="777.1" y="710.9" width="1.1" height="1.1" fill="#fff" opacity="0.70"/><rect x="790.0" y="701.7" width="1.1" height="1.1" fill="#fff" opacity="0.76"/><rect x="789.9" y="712.4" width="0.6" height="0.6" fill="#fff" opacity="0.41"/><rect x="782.1" y="707.3" width="0.6" height="0.6" fill="#fff" opacity="0.28"/><rect x="784.9" y="712.8" width="0.9" height="0.9" fill="#fff" opacity="0.68"/><rect x="793.2" y="712.4" width="1.2" height="1.2" fill="#fff" opacity="0.94"/><rect x="813.9" y="724.6" width="1.1" height="1.1" fill="#fff" opacity="0.50"/><rect x="795.0" y="717.8" width="0.7" height="0.7" fill="#fff" opacity="0.33"/><rect x="792.0" y="714.1" width="1.1" height="1.1" fill="#fff" opacity="0.38"/><rect x="787.7" y="706.7" width="0.8" height="0.8" fill="#fff" opacity="0.84"/><rect x="778.3" y="715.1" width="0.9" height="0.9" fill="#fff" opacity="0.79"/><rect x="792.2" y="714.4" width="0.6" height="0.6" fill="#fff" opacity="0.73"/><rect x="786.0" y="693.1" width="1.2" height="1.2" fill="#fff" opacity="0.58"/><rect x="793.6" y="715.3" width="0.6" height="0.6" fill="#fff" opacity="0.25"/><rect x="789.3" y="716.3" width="0.9" height="0.9" fill="#fff" opacity="0.92"/><rect x="793.4" y="715.2" width="1.2" height="1.2" fill="#fff" opacity="0.76"/><rect x="790.9" y="727.6" width="1.0" height="1.0" fill="#fff" opacity="0.19"/><rect x="809.0" y="726.6" width="0.9" height="0.9" fill="#fff" opacity="0.25"/><rect x="792.3" y="718.0" width="0.9" height="0.9" fill="#fff" opacity="0.86"/><rect x="788.2" y="695.1" width="0.8" height="0.8" fill="#fff" opacity="0.20"/><rect x="791.7" y="699.2" width="1.1" height="1.1" fill="#fff" opacity="0.37"/><rect x="792.2" y="713.8" width="1.3" height="1.3" fill="#fff" opacity="0.80"/><rect x="793.8" y="706.3" width="1.1" height="1.1" fill="#fff" opacity="0.22"/><rect x="811.4" y="718.6" width="1.0" height="1.0" fill="#fff" opacity="0.69"/><rect x="791.0" y="714.8" width="0.9" height="0.9" fill="#fff" opacity="0.60"/><rect x="789.7" y="713.6" width="1.1" height="1.1" fill="#fff" opacity="0.34"/><rect x="786.5" y="717.9" width="0.8" height="0.8" fill="#fff" opacity="0.67"/><rect x="792.5" y="710.2" width="0.7" height="0.7" fill="#fff" opacity="0.34"/><rect x="773.4" y="687.4" width="0.9" height="0.9" fill="#fff" opacity="0.37"/><rect x="782.2" y="709.5" width="0.7" height="0.7" fill="#fff" opacity="0.77"/><rect x="784.0" y="715.0" width="1.1" height="1.1" fill="#fff" opacity="0.22"/><rect x="794.1" y="725.3" width="1.2" height="1.2" fill="#fff" opacity="0.53"/><rect x="827.8" y="707.9" width="1.1" height="1.1" fill="#fff" opacity="0.11"/><rect x="787.1" y="691.7" width="1.0" height="1.0" fill="#fff" opacity="0.17"/><rect x="802.4" y="711.5" width="1.2" height="1.2" fill="#fff" opacity="0.49"/><rect x="797.8" y="686.1" width="0.8" height="0.8" fill="#fff" opacity="0.48"/><rect x="799.3" y="705.0" width="1.2" height="1.2" fill="#fff" opacity="0.53"/><rect x="800.7" y="709.6" width="0.6" height="0.6" fill="#fff" opacity="0.43"/><rect x="781.1" y="721.9" width="1.2" height="1.2" fill="#fff" opacity="0.71"/><rect x="794.9" y="696.7" width="1.3" height="1.3" fill="#fff" opacity="0.61"/><rect x="771.5" y="718.9" width="1.3" height="1.3" fill="#fff" opacity="0.42"/><rect x="792.6" y="713.8" width="0.9" height="0.9" fill="#fff" opacity="0.46"/><rect x="807.1" y="721.1" width="1.2" height="1.2" fill="#fff" opacity="0.51"/><rect x="797.0" y="731.7" width="1.2" height="1.2" fill="#fff" opacity="0.35"/><rect x="790.0" y="715.7" width="1.2" height="1.2" fill="#fff" opacity="0.26"/><rect x="780.2" y="691.3" width="1.1" height="1.1" fill="#fff" opacity="0.16"/><rect x="796.3" y="718.8" width="1.2" height="1.2" fill="#fff" opacity="0.76"/><rect x="792.0" y="713.0" width="1.0" height="1.0" fill="#fff" opacity="0.45"/><rect x="814.1" y="708.3" width="0.9" height="0.9" fill="#fff" opacity="0.19"/><rect x="800.0" y="731.1" width="1.0" height="1.0" fill="#fff" opacity="0.45"/><rect x="793.1" y="726.4" width="0.8" height="0.8" fill="#fff" opacity="0.52"/><rect x="795.5" y="712.5" width="1.0" height="1.0" fill="#fff" opacity="0.72"/><rect x="816.5" y="699.1" width="0.6" height="0.6" fill="#fff" opacity="0.44"/><rect x="797.0" y="714.2" width="1.1" height="1.1" fill="#fff" opacity="0.40"/><rect x="795.6" y="720.1" width="1.2" height="1.2" fill="#fff" opacity="0.57"/><rect x="801.4" y="723.5" width="1.0" height="1.0" fill="#fff" opacity="0.78"/><rect x="783.1" y="680.0" width="0.7" height="0.7" fill="#fff" opacity="0.32"/><rect x="793.9" y="718.1" width="0.6" height="0.6" fill="#fff" opacity="0.41"/><rect x="811.5" y="725.2" width="0.9" height="0.9" fill="#fff" opacity="0.48"/><rect x="817.0" y="725.9" width="0.8" height="0.8" fill="#fff" opacity="0.33"/><rect x="801.9" y="700.5" width="0.7" height="0.7" fill="#fff" opacity="0.75"/><rect x="787.7" y="705.1" width="1.1" height="1.1" fill="#fff" opacity="0.48"/><rect x="798.9" y="715.9" width="0.9" height="0.9" fill="#fff" opacity="0.59"/><rect x="784.1" y="714.0" width="0.7" height="0.7" fill="#fff" opacity="0.50"/><rect x="794.9" y="712.1" width="0.6" height="0.6" fill="#fff" opacity="0.67"/><rect x="792.1" y="713.9" width="1.2" height="1.2" fill="#fff" opacity="0.64"/><rect x="785.5" y="713.0" width="1.2" height="1.2" fill="#fff" opacity="0.46"/><rect x="783.5" y="700.6" width="1.1" height="1.1" fill="#fff" opacity="0.45"/><rect x="794.1" y="687.3" width="0.9" height="0.9" fill="#fff" opacity="0.26"/><rect x="803.1" y="709.5" width="1.0" height="1.0" fill="#fff" opacity="0.72"/><rect x="802.3" y="709.3" width="1.0" height="1.0" fill="#fff" opacity="0.19"/><rect x="784.8" y="720.2" width="0.7" height="0.7" fill="#fff" opacity="0.87"/><rect x="788.3" y="723.5" width="1.1" height="1.1" fill="#fff" opacity="0.57"/><rect x="782.5" y="730.4" width="0.7" height="0.7" fill="#fff" opacity="0.49"/><rect x="786.4" y="696.6" width="1.1" height="1.1" fill="#fff" opacity="0.16"/><rect x="803.5" y="720.9" width="0.9" height="0.9" fill="#fff" opacity="0.25"/><rect x="779.2" y="705.5" width="0.8" height="0.8" fill="#fff" opacity="0.32"/><rect x="789.6" y="704.7" width="0.8" height="0.8" fill="#fff" opacity="0.75"/><rect x="798.7" y="716.9" width="0.8" height="0.8" fill="#fff" opacity="0.33"/><rect x="773.1" y="694.4" width="0.8" height="0.8" fill="#fff" opacity="0.43"/><rect x="787.4" y="713.0" width="0.8" height="0.8" fill="#fff" opacity="0.80"/><rect x="781.5" y="725.0" width="1.0" height="1.0" fill="#fff" opacity="0.26"/><rect x="803.7" y="741.3" width="0.7" height="0.7" fill="#fff" opacity="0.35"/><rect x="797.6" y="721.5" width="0.9" height="0.9" fill="#fff" opacity="0.73"/><rect x="769.7" y="725.8" width="1.0" height="1.0" fill="#fff" opacity="0.32"/><rect x="781.1" y="720.6" width="0.7" height="0.7" fill="#fff" opacity="0.70"/><rect x="782.3" y="717.5" width="0.9" height="0.9" fill="#fff" opacity="0.46"/><rect x="790.4" y="714.7" width="1.0" height="1.0" fill="#fff" opacity="0.94"/><rect x="793.1" y="712.4" width="0.7" height="0.7" fill="#fff" opacity="0.50"/><rect x="777.5" y="706.3" width="0.9" height="0.9" fill="#fff" opacity="0.65"/><rect x="819.1" y="710.5" width="1.3" height="1.3" fill="#fff" opacity="0.38"/><rect x="790.1" y="718.7" width="1.1" height="1.1" fill="#fff" opacity="0.28"/><rect x="785.7" y="714.0" width="0.8" height="0.8" fill="#fff" opacity="0.62"/><rect x="791.9" y="716.0" width="1.0" height="1.0" fill="#fff" opacity="0.26"/><rect x="804.7" y="709.1" width="0.8" height="0.8" fill="#fff" opacity="0.42"/><rect x="789.3" y="715.4" width="0.7" height="0.7" fill="#fff" opacity="0.81"/><rect x="791.5" y="715.2" width="0.9" height="0.9" fill="#fff" opacity="0.88"/><rect x="793.1" y="719.2" width="1.2" height="1.2" fill="#fff" opacity="0.46"/><rect x="791.5" y="715.0" width="0.8" height="0.8" fill="#fff" opacity="0.80"/><rect x="810.5" y="697.5" width="0.7" height="0.7" fill="#fff" opacity="0.36"/><rect x="784.6" y="699.6" width="1.0" height="1.0" fill="#fff" opacity="0.31"/><rect x="792.6" y="713.4" width="0.8" height="0.8" fill="#fff" opacity="0.51"/><rect x="783.0" y="707.7" width="0.9" height="0.9" fill="#fff" opacity="0.77"/><rect x="780.7" y="704.0" width="0.8" height="0.8" fill="#fff" opacity="0.55"/><rect x="795.7" y="712.8" width="1.2" height="1.2" fill="#fff" opacity="0.68"/><rect x="789.0" y="714.8" width="0.8" height="0.8" fill="#fff" opacity="0.52"/><rect x="799.3" y="711.3" width="0.6" height="0.6" fill="#fff" opacity="0.39"/><rect x="782.7" y="709.8" width="1.3" height="1.3" fill="#fff" opacity="0.86"/><rect x="770.2" y="696.5" width="1.2" height="1.2" fill="#fff" opacity="0.37"/><rect x="788.8" y="713.5" width="1.0" height="1.0" fill="#fff" opacity="0.60"/><rect x="796.8" y="681.2" width="1.1" height="1.1" fill="#fff" opacity="0.32"/><rect x="791.8" y="710.0" width="1.0" height="1.0" fill="#fff" opacity="0.66"/><rect x="785.0" y="724.1" width="0.7" height="0.7" fill="#fff" opacity="0.27"/><rect x="793.1" y="704.5" width="0.8" height="0.8" fill="#fff" opacity="0.37"/><rect x="802.3" y="694.2" width="1.3" height="1.3" fill="#fff" opacity="0.34"/><rect x="792.2" y="726.8" width="1.0" height="1.0" fill="#fff" opacity="0.62"/><rect x="791.8" y="714.0" width="0.9" height="0.9" fill="#fff" opacity="0.67"/><rect x="786.3" y="712.3" width="1.2" height="1.2" fill="#fff" opacity="0.61"/><rect x="834.8" y="697.0" width="1.0" height="1.0" fill="#fff" opacity="0.14"/><rect x="786.9" y="693.4" width="0.8" height="0.8" fill="#fff" opacity="0.36"/><rect x="793.5" y="720.2" width="0.9" height="0.9" fill="#fff" opacity="0.27"/><rect x="813.1" y="716.4" width="1.3" height="1.3" fill="#fff" opacity="0.32"/><rect x="791.3" y="713.1" width="0.7" height="0.7" fill="#fff" opacity="0.58"/><rect x="799.8" y="712.7" width="1.1" height="1.1" fill="#fff" opacity="0.55"/><rect x="793.4" y="714.6" width="1.2" height="1.2" fill="#fff" opacity="0.86"/><rect x="797.0" y="694.0" width="0.8" height="0.8" fill="#fff" opacity="0.47"/><rect x="791.8" y="724.3" width="1.0" height="1.0" fill="#fff" opacity="0.41"/><rect x="778.4" y="726.8" width="1.1" height="1.1" fill="#fff" opacity="0.46"/><rect x="784.3" y="699.8" width="0.7" height="0.7" fill="#fff" opacity="0.23"/><rect x="793.8" y="699.9" width="0.8" height="0.8" fill="#fff" opacity="0.33"/><rect x="804.3" y="713.2" width="0.9" height="0.9" fill="#fff" opacity="0.32"/><rect x="811.6" y="730.0" width="0.8" height="0.8" fill="#fff" opacity="0.26"/><rect x="788.6" y="710.4" width="1.2" height="1.2" fill="#fff" opacity="0.54"/><rect x="777.1" y="713.6" width="0.8" height="0.8" fill="#fff" opacity="0.78"/><rect x="786.8" y="726.7" width="1.2" height="1.2" fill="#fff" opacity="0.52"/><rect x="781.4" y="709.4" width="0.9" height="0.9" fill="#fff" opacity="0.71"/><rect x="785.7" y="689.9" width="0.6" height="0.6" fill="#fff" opacity="0.55"/><rect x="784.2" y="707.0" width="1.2" height="1.2" fill="#fff" opacity="0.22"/><rect x="787.4" y="713.3" width="1.2" height="1.2" fill="#fff" opacity="0.84"/><rect x="806.1" y="719.5" width="1.1" height="1.1" fill="#fff" opacity="0.63"/><rect x="795.3" y="724.5" width="1.0" height="1.0" fill="#fff" opacity="0.43"/><rect x="788.9" y="722.9" width="1.0" height="1.0" fill="#fff" opacity="0.68"/><rect x="789.3" y="708.9" width="0.8" height="0.8" fill="#fff" opacity="0.32"/><rect x="797.7" y="716.9" width="0.8" height="0.8" fill="#fff" opacity="0.83"/><rect x="796.1" y="703.8" width="1.2" height="1.2" fill="#fff" opacity="0.57"/><rect x="791.4" y="712.8" width="0.7" height="0.7" fill="#fff" opacity="0.88"/><rect x="792.9" y="703.0" width="0.9" height="0.9" fill="#fff" opacity="0.55"/><rect x="787.5" y="701.5" width="1.2" height="1.2" fill="#fff" opacity="0.65"/><rect x="766.9" y="710.0" width="1.0" height="1.0" fill="#fff" opacity="0.54"/><rect x="794.7" y="730.7" width="1.0" height="1.0" fill="#fff" opacity="0.19"/><rect x="785.4" y="709.1" width="1.0" height="1.0" fill="#fff" opacity="0.52"/><rect x="789.7" y="710.7" width="1.2" height="1.2" fill="#fff" opacity="0.45"/><rect x="801.3" y="706.1" width="1.0" height="1.0" fill="#fff" opacity="0.85"/><rect x="784.6" y="726.4" width="0.7" height="0.7" fill="#fff" opacity="0.24"/><rect x="781.0" y="713.8" width="0.7" height="0.7" fill="#fff" opacity="0.69"/><rect x="797.1" y="696.7" width="0.9" height="0.9" fill="#fff" opacity="0.27"/><rect x="784.5" y="718.1" width="1.3" height="1.3" fill="#fff" opacity="0.38"/><rect x="793.9" y="736.5" width="0.6" height="0.6" fill="#fff" opacity="0.31"/><rect x="791.5" y="714.1" width="0.7" height="0.7" fill="#fff" opacity="0.35"/><rect x="780.8" y="710.0" width="0.6" height="0.6" fill="#fff" opacity="0.45"/><rect x="791.9" y="714.3" width="1.2" height="1.2" fill="#fff" opacity="0.62"/><rect x="805.7" y="712.1" width="1.1" height="1.1" fill="#fff" opacity="0.67"/><rect x="787.2" y="737.2" width="0.8" height="0.8" fill="#fff" opacity="0.34"/><rect x="791.7" y="716.4" width="1.1" height="1.1" fill="#fff" opacity="0.36"/><rect x="781.5" y="710.7" width="1.1" height="1.1" fill="#fff" opacity="0.67"/><rect x="788.8" y="696.1" width="1.2" height="1.2" fill="#fff" opacity="0.22"/><rect x="781.7" y="703.3" width="0.9" height="0.9" fill="#fff" opacity="0.51"/><rect x="804.1" y="726.6" width="1.1" height="1.1" fill="#fff" opacity="0.31"/><rect x="785.6" y="707.1" width="0.8" height="0.8" fill="#fff" opacity="0.35"/><rect x="794.7" y="708.5" width="0.7" height="0.7" fill="#fff" opacity="0.85"/><rect x="772.3" y="714.2" width="0.7" height="0.7" fill="#fff" opacity="0.48"/><rect x="795.2" y="715.5" width="1.1" height="1.1" fill="#fff" opacity="0.86"/><rect x="781.9" y="707.2" width="1.3" height="1.3" fill="#fff" opacity="0.68"/><rect x="785.6" y="724.5" width="1.1" height="1.1" fill="#fff" opacity="0.83"/><rect x="793.9" y="714.9" width="0.8" height="0.8" fill="#fff" opacity="0.52"/><rect x="792.0" y="714.8" width="0.6" height="0.6" fill="#fff" opacity="0.61"/><rect x="781.6" y="709.8" width="1.0" height="1.0" fill="#fff" opacity="0.71"/><rect x="795.9" y="715.4" width="1.2" height="1.2" fill="#fff" opacity="0.34"/><rect x="784.7" y="722.3" width="1.2" height="1.2" fill="#fff" opacity="0.71"/><rect x="790.5" y="717.5" width="1.2" height="1.2" fill="#fff" opacity="0.36"/><rect x="779.8" y="707.5" width="1.2" height="1.2" fill="#fff" opacity="0.60"/><rect x="771.7" y="717.4" width="0.9" height="0.9" fill="#fff" opacity="0.56"/><rect x="806.2" y="731.7" width="0.7" height="0.7" fill="#fff" opacity="0.49"/><rect x="790.2" y="708.3" width="0.7" height="0.7" fill="#fff" opacity="0.38"/><rect x="788.9" y="711.2" width="0.7" height="0.7" fill="#fff" opacity="0.51"/><rect x="772.6" y="720.0" width="1.1" height="1.1" fill="#fff" opacity="0.25"/><rect x="777.2" y="705.2" width="1.3" height="1.3" fill="#fff" opacity="0.40"/><rect x="794.6" y="712.7" width="0.8" height="0.8" fill="#fff" opacity="0.47"/><rect x="809.3" y="692.4" width="0.7" height="0.7" fill="#fff" opacity="0.29"/><rect x="790.6" y="711.5" width="0.8" height="0.8" fill="#fff" opacity="0.57"/><rect x="791.8" y="716.7" width="0.9" height="0.9" fill="#fff" opacity="0.47"/><rect x="793.8" y="728.7" width="1.1" height="1.1" fill="#fff" opacity="0.44"/><rect x="805.3" y="711.3" width="0.7" height="0.7" fill="#fff" opacity="0.82"/><rect x="787.5" y="709.0" width="1.0" height="1.0" fill="#fff" opacity="0.63"/><rect x="812.5" y="739.2" width="0.9" height="0.9" fill="#fff" opacity="0.33"/><rect x="808.1" y="725.3" width="0.6" height="0.6" fill="#fff" opacity="0.58"/><rect x="773.1" y="724.4" width="0.9" height="0.9" fill="#fff" opacity="0.52"/><rect x="791.6" y="713.0" width="0.9" height="0.9" fill="#fff" opacity="0.42"/><rect x="817.6" y="704.2" width="1.0" height="1.0" fill="#fff" opacity="0.29"/><rect x="773.3" y="714.5" width="0.8" height="0.8" fill="#fff" opacity="0.73"/><rect x="774.6" y="705.6" width="1.0" height="1.0" fill="#fff" opacity="0.19"/><rect x="803.1" y="713.1" width="1.2" height="1.2" fill="#fff" opacity="0.38"/><rect x="781.7" y="715.5" width="0.7" height="0.7" fill="#fff" opacity="0.52"/><rect x="781.3" y="693.4" width="1.1" height="1.1" fill="#fff" opacity="0.52"/><rect x="793.3" y="718.0" width="1.0" height="1.0" fill="#fff" opacity="0.65"/><rect x="776.3" y="701.6" width="0.8" height="0.8" fill="#fff" opacity="0.48"/><rect x="800.8" y="689.4" width="1.3" height="1.3" fill="#fff" opacity="0.44"/><rect x="806.6" y="739.7" width="1.1" height="1.1" fill="#fff" opacity="0.14"/><rect x="766.0" y="712.1" width="1.2" height="1.2" fill="#fff" opacity="0.36"/><rect x="770.4" y="729.6" width="0.6" height="0.6" fill="#fff" opacity="0.48"/><rect x="804.7" y="702.1" width="0.9" height="0.9" fill="#fff" opacity="0.73"/><rect x="785.8" y="717.0" width="0.8" height="0.8" fill="#fff" opacity="0.67"/><rect x="780.6" y="697.2" width="0.8" height="0.8" fill="#fff" opacity="0.60"/><rect x="792.3" y="715.1" width="0.9" height="0.9" fill="#fff" opacity="0.57"/><rect x="821.0" y="716.0" width="1.2" height="1.2" fill="#fff" opacity="0.50"/><rect x="787.4" y="720.3" width="1.2" height="1.2" fill="#fff" opacity="0.32"/><rect x="792.8" y="712.1" width="1.3" height="1.3" fill="#fff" opacity="0.65"/><rect x="791.2" y="706.9" width="1.0" height="1.0" fill="#fff" opacity="0.45"/><rect x="796.0" y="728.1" width="1.1" height="1.1" fill="#fff" opacity="0.75"/><rect x="796.4" y="707.0" width="1.0" height="1.0" fill="#fff" opacity="0.60"/><rect x="797.2" y="710.5" width="0.9" height="0.9" fill="#fff" opacity="0.66"/><rect x="787.9" y="709.5" width="1.2" height="1.2" fill="#fff" opacity="0.72"/><rect x="806.0" y="720.0" width="1.0" height="1.0" fill="#fff" opacity="0.37"/><rect x="806.8" y="717.6" width="0.8" height="0.8" fill="#fff" opacity="0.31"/><rect x="771.4" y="713.8" width="0.8" height="0.8" fill="#fff" opacity="0.66"/><rect x="796.3" y="714.1" width="0.6" height="0.6" fill="#fff" opacity="0.89"/><rect x="791.9" y="714.4" width="0.7" height="0.7" fill="#fff" opacity="0.75"/><rect x="797.8" y="714.1" width="1.2" height="1.2" fill="#fff" opacity="0.43"/><rect x="786.0" y="709.6" width="0.8" height="0.8" fill="#fff" opacity="0.30"/><rect x="796.3" y="709.1" width="1.0" height="1.0" fill="#fff" opacity="0.71"/><rect x="804.0" y="696.6" width="1.2" height="1.2" fill="#fff" opacity="0.18"/><rect x="799.7" y="720.1" width="0.9" height="0.9" fill="#fff" opacity="0.46"/><rect x="809.0" y="715.3" width="0.6" height="0.6" fill="#fff" opacity="0.30"/><rect x="785.9" y="719.0" width="0.8" height="0.8" fill="#fff" opacity="0.22"/><rect x="791.7" y="713.7" width="1.0" height="1.0" fill="#fff" opacity="0.36"/><rect x="775.8" y="717.9" width="1.1" height="1.1" fill="#fff" opacity="0.30"/><rect x="792.5" y="716.0" width="1.2" height="1.2" fill="#fff" opacity="0.57"/><rect x="806.2" y="718.4" width="0.6" height="0.6" fill="#fff" opacity="0.18"/><rect x="806.9" y="722.5" width="0.8" height="0.8" fill="#fff" opacity="0.69"/><rect x="784.1" y="718.6" width="0.6" height="0.6" fill="#fff" opacity="0.33"/><rect x="790.8" y="719.0" width="0.9" height="0.9" fill="#fff" opacity="0.79"/><rect x="790.3" y="727.0" width="0.8" height="0.8" fill="#fff" opacity="0.81"/><rect x="797.8" y="720.5" width="1.2" height="1.2" fill="#fff" opacity="0.81"/><rect x="773.5" y="720.0" width="1.3" height="1.3" fill="#fff" opacity="0.61"/><rect x="795.9" y="717.3" width="1.2" height="1.2" fill="#fff" opacity="0.44"/><rect x="798.0" y="716.0" width="1.1" height="1.1" fill="#fff" opacity="0.49"/><rect x="800.2" y="713.9" width="1.2" height="1.2" fill="#fff" opacity="0.60"/><rect x="769.2" y="724.1" width="0.9" height="0.9" fill="#fff" opacity="0.51"/><rect x="789.2" y="718.1" width="1.1" height="1.1" fill="#fff" opacity="0.77"/><rect x="786.1" y="723.1" width="0.8" height="0.8" fill="#fff" opacity="0.40"/><rect x="788.5" y="738.4" width="0.9" height="0.9" fill="#fff" opacity="0.31"/><rect x="775.4" y="719.0" width="0.8" height="0.8" fill="#fff" opacity="0.44"/><rect x="802.2" y="707.6" width="1.1" height="1.1" fill="#fff" opacity="0.63"/><rect x="797.4" y="718.3" width="0.9" height="0.9" fill="#fff" opacity="0.89"/><rect x="796.5" y="722.4" width="0.9" height="0.9" fill="#fff" opacity="0.82"/><rect x="791.7" y="709.4" width="1.2" height="1.2" fill="#fff" opacity="0.26"/><rect x="786.9" y="716.8" width="0.7" height="0.7" fill="#fff" opacity="0.46"/><rect x="810.3" y="697.0" width="0.9" height="0.9" fill="#fff" opacity="0.53"/><rect x="791.7" y="714.0" width="0.7" height="0.7" fill="#fff" opacity="0.71"/><rect x="789.3" y="724.7" width="0.9" height="0.9" fill="#fff" opacity="0.22"/><rect x="791.4" y="719.5" width="1.3" height="1.3" fill="#fff" opacity="0.35"/><rect x="773.8" y="739.2" width="1.2" height="1.2" fill="#fff" opacity="0.14"/><rect x="788.1" y="714.7" width="0.7" height="0.7" fill="#fff" opacity="0.68"/><rect x="785.7" y="732.6" width="1.2" height="1.2" fill="#fff" opacity="0.66"/><rect x="788.5" y="710.5" width="1.3" height="1.3" fill="#fff" opacity="0.38"/><rect x="797.8" y="705.6" width="0.7" height="0.7" fill="#fff" opacity="0.48"/><rect x="801.5" y="705.3" width="1.2" height="1.2" fill="#fff" opacity="0.36"/><rect x="798.6" y="715.6" width="0.8" height="0.8" fill="#fff" opacity="0.46"/><rect x="775.0" y="708.3" width="1.0" height="1.0" fill="#fff" opacity="0.22"/><rect x="801.4" y="704.1" width="0.8" height="0.8" fill="#fff" opacity="0.73"/><rect x="790.7" y="720.7" width="0.8" height="0.8" fill="#fff" opacity="0.85"/><rect x="799.5" y="715.9" width="1.1" height="1.1" fill="#fff" opacity="0.30"/><rect x="788.8" y="710.7" width="1.2" height="1.2" fill="#fff" opacity="0.31"/><rect x="810.8" y="728.1" width="0.9" height="0.9" fill="#fff" opacity="0.62"/><rect x="808.5" y="715.6" width="0.6" height="0.6" fill="#fff" opacity="0.38"/><rect x="784.3" y="704.1" width="0.7" height="0.7" fill="#fff" opacity="0.40"/><rect x="784.3" y="719.7" width="0.8" height="0.8" fill="#fff" opacity="0.45"/><rect x="788.6" y="694.8" width="1.1" height="1.1" fill="#fff" opacity="0.16"/><rect x="783.2" y="698.6" width="1.2" height="1.2" fill="#fff" opacity="0.32"/><rect x="789.4" y="718.5" width="1.0" height="1.0" fill="#fff" opacity="0.26"/><rect x="786.9" y="721.4" width="1.3" height="1.3" fill="#fff" opacity="0.28"/><rect x="784.6" y="720.2" width="0.8" height="0.8" fill="#fff" opacity="0.61"/><rect x="793.9" y="711.7" width="1.2" height="1.2" fill="#fff" opacity="0.87"/><rect x="788.2" y="711.9" width="0.7" height="0.7" fill="#fff" opacity="0.65"/><rect x="782.5" y="700.0" width="0.9" height="0.9" fill="#fff" opacity="0.23"/><rect x="810.2" y="719.3" width="0.7" height="0.7" fill="#fff" opacity="0.60"/><rect x="789.9" y="698.2" width="0.7" height="0.7" fill="#fff" opacity="0.44"/><rect x="797.9" y="721.1" width="0.9" height="0.9" fill="#fff" opacity="0.41"/><rect x="792.9" y="735.8" width="0.7" height="0.7" fill="#fff" opacity="0.20"/><rect x="787.3" y="727.3" width="1.3" height="1.3" fill="#fff" opacity="0.52"/><rect x="792.7" y="716.9" width="1.3" height="1.3" fill="#fff" opacity="0.63"/><rect x="785.0" y="724.3" width="0.6" height="0.6" fill="#fff" opacity="0.73"/><rect x="782.2" y="713.5" width="1.0" height="1.0" fill="#fff" opacity="0.61"/><rect x="794.5" y="710.1" width="0.7" height="0.7" fill="#fff" opacity="0.46"/><rect x="787.4" y="712.3" width="0.9" height="0.9" fill="#fff" opacity="0.83"/><rect x="806.2" y="757.2" width="1.2" height="1.2" fill="#fff" opacity="0.20"/><rect x="788.0" y="716.5" width="1.1" height="1.1" fill="#fff" opacity="0.36"/><rect x="779.9" y="722.6" width="0.6" height="0.6" fill="#fff" opacity="0.45"/><rect x="801.6" y="701.5" width="1.1" height="1.1" fill="#fff" opacity="0.61"/><rect x="792.6" y="730.1" width="0.9" height="0.9" fill="#fff" opacity="0.36"/><rect x="793.1" y="713.8" width="1.0" height="1.0" fill="#fff" opacity="0.87"/><rect x="788.8" y="762.5" width="1.0" height="1.0" fill="#fff" opacity="0.14"/><rect x="800.5" y="713.0" width="1.1" height="1.1" fill="#fff" opacity="0.32"/><rect x="807.0" y="725.1" width="1.2" height="1.2" fill="#fff" opacity="0.68"/><rect x="797.0" y="713.9" width="1.0" height="1.0" fill="#fff" opacity="0.29"/><rect x="782.7" y="722.1" width="0.6" height="0.6" fill="#fff" opacity="0.80"/><rect x="795.4" y="719.0" width="1.2" height="1.2" fill="#fff" opacity="0.53"/><rect x="791.6" y="707.1" width="1.3" height="1.3" fill="#fff" opacity="0.49"/><rect x="790.7" y="713.1" width="1.2" height="1.2" fill="#fff" opacity="0.37"/><rect x="794.6" y="713.4" width="0.6" height="0.6" fill="#fff" opacity="0.83"/><rect x="781.9" y="707.7" width="1.0" height="1.0" fill="#fff" opacity="0.43"/><rect x="790.5" y="718.1" width="1.1" height="1.1" fill="#fff" opacity="0.66"/><rect x="808.1" y="716.7" width="0.9" height="0.9" fill="#fff" opacity="0.58"/><rect x="790.4" y="739.6" width="1.0" height="1.0" fill="#fff" opacity="0.45"/><rect x="789.7" y="712.7" width="0.6" height="0.6" fill="#fff" opacity="0.63"/><rect x="784.2" y="704.8" width="1.1" height="1.1" fill="#fff" opacity="0.39"/><rect x="830.7" y="722.3" width="0.8" height="0.8" fill="#fff" opacity="0.14"/><rect x="794.0" y="709.8" width="1.2" height="1.2" fill="#fff" opacity="0.82"/><rect x="789.1" y="706.4" width="1.1" height="1.1" fill="#fff" opacity="0.20"/><rect x="792.3" y="714.6" width="0.9" height="0.9" fill="#fff" opacity="0.31"/><rect x="791.9" y="714.2" width="1.2" height="1.2" fill="#fff" opacity="0.74"/><rect x="788.3" y="715.5" width="1.3" height="1.3" fill="#fff" opacity="0.37"/><rect x="796.2" y="695.6" width="0.9" height="0.9" fill="#fff" opacity="0.31"/><rect x="790.6" y="706.9" width="1.1" height="1.1" fill="#fff" opacity="0.76"/><rect x="800.7" y="687.7" width="1.1" height="1.1" fill="#fff" opacity="0.24"/><rect x="791.0" y="720.8" width="1.1" height="1.1" fill="#fff" opacity="0.32"/><circle cx="816" cy="702.2" r="2.2" fill="url(#spot)" opacity="0.9"/><circle cx="791.8" cy="686.4" r="1.8" fill="url(#spot)" opacity="0.8"/><circle cx="813" cy="676.8" r="1.5" fill="url(#spot)" opacity="0.7"/><circle cx="774.9" cy="719.7" r="3" fill="url(#spot)" opacity="1"/><circle cx="800.3" cy="735.4" r="3" fill="url(#spot)" opacity="1"/><circle cx="753.7" cy="730.6" r="1.5" fill="url(#spot)" opacity="0.6"/><circle cx="778.5" cy="744.5" r="1.5" fill="url(#spot)" opacity="0.6"/><circle cx="838.4" cy="690.7" r="1.5" fill="url(#spot)" opacity="0.5"/><g opacity="0.8"><line x1="785.8" y1="708" x2="797.8" y2="720" stroke="#fff" stroke-width="1"/><line x1="785.8" y1="720" x2="797.8" y2="708" stroke="#fff" stroke-width="1"/></g>
</g></g>
<rect x="742.8" y="659.8" width="98.9" height="89.5" fill="none" stroke="#c23c3c" stroke-width="2"/>
<rect x="742.0" y="659.0" width="100.5" height="91.1" fill="none" stroke="#e27a7a" stroke-width="0.5" opacity="0.8"/>
<circle cx="813" cy="676.8" r="3.9" fill="none" stroke="#2ed22e" stroke-width="1.9"/>
<circle cx="813" cy="676.8" r="1.1" fill="#fff" opacity="0.9"/>
<circle cx="791.8" cy="686.4" r="3.9" fill="none" stroke="#33c6d2" stroke-width="1.9"/>
<circle cx="791.8" cy="686.4" r="1.1" fill="#fff" opacity="0.9"/>
<circle cx="816" cy="702.2" r="3.9" fill="none" stroke="#d22ed2" stroke-width="1.9"/>
<circle cx="816" cy="702.2" r="1.1" fill="#fff" opacity="0.9"/>
<text x="769.4 774.1 781.2 788.3 795.3" y="674.3" font-family="'Liberation Serif', 'Times New Roman', serif" font-weight="bold" font-size="14" fill="#2ed22e">(130)</text>
<text x="800.1" y="677.4" font-family="'Liberation Serif', 'Times New Roman', serif" font-weight="bold" font-size="10.1" fill="#2ed22e">o</text>
<line x1="775.2" x2="780.0" y1="662.3" y2="662.3" stroke="#2ed22e" stroke-width="1.19"/>
<line x1="782.3" x2="787.1" y1="662.3" y2="662.3" stroke="#2ed22e" stroke-width="1.19"/>
<text x="753.1 758.2 765.6 773.0 780.5" y="699.7" font-family="'Liberation Serif', 'Times New Roman', serif" font-weight="bold" font-size="14" fill="#33c6d2">(021)</text>
<text x="785.6" y="702.8" font-family="'Liberation Serif', 'Times New Roman', serif" font-weight="bold" font-size="10.1" fill="#33c6d2">o</text>
<line x1="766.7" x2="771.5" y1="687.7" y2="687.7" stroke="#33c6d2" stroke-width="1.19"/>
<text x="804.5 809.3 816.5 823.7 830.9" y="720.9" font-family="'Liberation Serif', 'Times New Roman', serif" font-weight="bold" font-size="14" fill="#d22ed2">(111)</text>
<text x="835.8" y="724.0" font-family="'Liberation Serif', 'Times New Roman', serif" font-weight="bold" font-size="10.1" fill="#d22ed2">o</text>
<line x1="810.5" x2="815.2" y1="708.9" y2="708.9" stroke="#d22ed2" stroke-width="1.19"/>
<line x1="817.7" x2="822.4" y1="708.9" y2="708.9" stroke="#d22ed2" stroke-width="1.19"/>
<line x1="824.8" x2="829.6" y1="708.9" y2="708.9" stroke="#d22ed2" stroke-width="1.19"/>
<text x="743.4" y="677.3" font-family="'Liberation Serif', 'Times New Roman', serif" font-weight="bold" font-size="21" fill="#ffffff" text-anchor="start">(n)</text>
</svg></body></html>
